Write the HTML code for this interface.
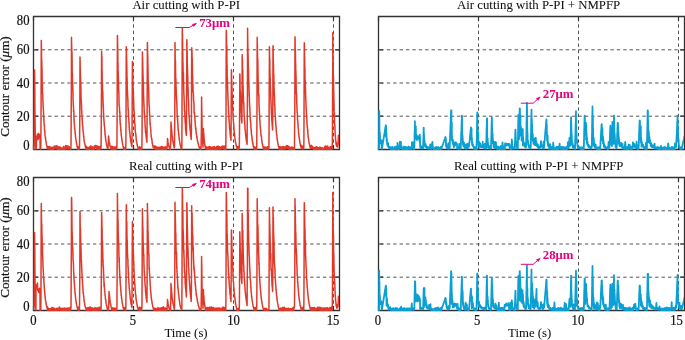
<!DOCTYPE html>
<html><head><meta charset="utf-8"><style>
html,body{margin:0;padding:0;background:#fff;overflow:hidden;}
svg{display:block;will-change:transform;}
text{font-family:"Liberation Serif",serif;font-size:12.8px;fill:#111;stroke:#111;stroke-width:0.2px;}
.tt{stroke-width:0.05px;}
.tk{font-size:13.2px;}
</style></head><body>
<svg width="685" height="340" viewBox="0 0 685 340">
<rect width="685" height="340" fill="#fff"/>
<clipPath id="c00"><rect x="33" y="15" width="306" height="135"/></clipPath>
<path d="M133.5 16.5V149.5M233.5 16.5V149.5M333.5 16.5V149.5" stroke="#555" stroke-width="1" stroke-dasharray="3.4 2.99" stroke-dashoffset="4.99"/>
<path d="M33.5 116.2H339.5M33.5 83H339.5M33.5 49.8H339.5" stroke="#555" stroke-width="1" stroke-dasharray="3.4 2.99" stroke-dashoffset="4.49"/>
<path d="M33.5 16.5H339.5V149.5H33.5Z" fill="none" stroke="#333" stroke-width="1.3"/>
<path d="M33.5 149.5v-4.5M33.5 16.5v4.5M133.5 149.5v-4.5M133.5 16.5v4.5M233.5 149.5v-4.5M233.5 16.5v4.5M333.5 149.5v-4.5M333.5 16.5v4.5M33.5 149.5h4.5M339.5 149.5h-4.5M33.5 116.2h4.5M339.5 116.2h-4.5M33.5 83h4.5M339.5 83h-4.5M33.5 49.8h4.5M339.5 49.8h-4.5M33.5 16.5h4.5M339.5 16.5h-4.5" stroke="#333" stroke-width="1.2"/>
<path d="M33.5 146.8 L33.6 147.1 L33.8 147.7 L33.9 149.5 L34.0 149.5 L34.1 146.2 L34.2 135.6 L34.4 118.4 L34.5 93.1 L34.6 70.0 L34.6 72.7 L34.8 90.1 L34.9 108.1 L35.0 116.7 L35.1 123.2 L35.2 132.4 L35.4 137.4 L35.5 141.2 L35.6 144.4 L35.8 146.7 L35.9 148.6 L36.0 148.8 L36.1 148.3 L36.2 147.9 L36.4 147.8 L36.5 139.0 L36.6 136.7 L36.8 137.3 L36.9 135.8 L37.0 136.8 L37.1 137.9 L37.2 137.6 L37.4 137.0 L37.5 134.1 L37.6 134.4 L37.8 137.0 L37.9 139.8 L38.0 139.5 L38.1 137.7 L38.2 135.6 L38.4 138.4 L38.5 137.5 L38.6 133.6 L38.8 135.9 L38.9 137.6 L39.0 137.3 L39.1 136.8 L39.2 137.2 L39.4 134.6 L39.5 136.9 L39.6 137.2 L39.8 138.3 L39.9 136.0 L40.0 135.5 L40.1 148.7 L40.2 147.7 L40.4 149.5 L40.5 147.8 L40.6 148.0 L40.8 147.9 L40.9 140.3 L41.0 123.0 L41.1 97.7 L41.2 62.2 L41.3 40.6 L41.4 47.8 L41.5 51.2 L41.6 58.3 L41.8 61.2 L41.9 68.2 L42.0 68.7 L42.1 76.2 L42.2 84.2 L42.4 85.2 L42.5 91.8 L42.6 93.6 L42.8 94.3 L42.9 102.3 L43.0 101.6 L43.1 105.6 L43.2 106.6 L43.4 110.8 L43.5 111.9 L43.6 115.5 L43.8 116.3 L43.9 119.6 L44.0 122.6 L44.1 123.5 L44.2 125.4 L44.4 125.5 L44.5 129.3 L44.6 131.3 L44.8 130.6 L44.9 133.2 L45.0 135.1 L45.1 135.8 L45.2 136.7 L45.4 137.6 L45.5 137.4 L45.6 139.4 L45.8 140.0 L45.9 140.9 L46.0 142.0 L46.1 143.0 L46.2 142.8 L46.4 144.0 L46.5 144.7 L46.6 145.0 L46.8 145.8 L46.9 146.3 L47.0 146.6 L47.1 147.3 L47.2 147.1 L47.4 148.1 L47.5 148.4 L47.6 147.4 L47.8 147.1 L47.9 147.6 L48.0 149.0 L48.1 147.5 L48.2 146.8 L48.4 148.0 L48.5 146.8 L48.6 148.8 L48.8 147.4 L48.9 148.1 L49.0 149.1 L49.1 148.5 L49.2 149.0 L49.4 147.5 L49.5 146.6 L49.6 146.8 L49.8 147.1 L49.9 149.0 L50.0 147.1 L50.1 146.7 L50.2 148.3 L50.4 147.9 L50.5 147.9 L50.6 147.8 L50.8 149.2 L50.9 147.9 L51.0 149.0 L51.1 148.2 L51.2 149.5 L51.4 149.0 L51.5 149.5 L51.6 147.7 L51.8 147.2 L51.9 147.8 L52.0 148.9 L52.1 148.8 L52.2 148.1 L52.4 149.2 L52.5 149.5 L52.6 147.4 L52.8 148.6 L52.9 147.8 L53.0 148.5 L53.1 148.9 L53.2 149.5 L53.4 147.7 L53.5 147.9 L53.6 149.5 L53.8 149.1 L53.9 146.5 L54.0 147.0 L54.1 148.7 L54.2 147.9 L54.4 146.8 L54.5 145.9 L54.6 148.2 L54.8 146.5 L54.9 146.8 L55.0 146.3 L55.1 148.3 L55.2 147.4 L55.4 146.6 L55.5 147.9 L55.6 146.8 L55.8 147.2 L55.9 146.8 L56.0 145.9 L56.1 146.4 L56.2 148.8 L56.4 147.0 L56.5 149.0 L56.6 148.2 L56.8 146.8 L56.9 146.4 L57.0 145.8 L57.1 148.1 L57.2 147.5 L57.4 147.3 L57.5 147.0 L57.6 146.9 L57.8 148.7 L57.9 149.2 L58.0 148.9 L58.1 147.1 L58.2 149.5 L58.4 148.9 L58.5 147.2 L58.6 146.7 L58.8 148.5 L58.9 147.4 L59.0 148.6 L59.1 149.0 L59.2 147.9 L59.4 149.5 L59.5 148.6 L59.6 148.1 L59.8 147.1 L59.9 147.3 L60.0 149.5 L60.1 149.1 L60.2 149.5 L60.4 149.5 L60.5 147.2 L60.6 149.5 L60.8 149.4 L60.9 148.2 L61.0 149.5 L61.1 149.4 L61.2 149.5 L61.4 148.1 L61.5 149.5 L61.6 149.5 L61.8 149.5 L61.9 148.8 L62.0 149.4 L62.1 149.5 L62.2 149.5 L62.4 149.2 L62.5 148.9 L62.6 149.1 L62.8 148.0 L62.9 149.2 L63.0 149.5 L63.1 149.5 L63.2 148.9 L63.4 146.5 L63.5 148.5 L63.6 148.4 L63.8 149.4 L63.9 147.8 L64.0 149.5 L64.1 148.6 L64.2 148.6 L64.4 148.2 L64.5 149.0 L64.6 148.8 L64.8 149.3 L64.9 147.6 L65.0 148.2 L65.1 146.4 L65.2 146.5 L65.4 147.5 L65.5 145.8 L65.6 147.7 L65.8 148.8 L65.9 146.1 L66.0 145.6 L66.1 148.7 L66.2 147.5 L66.4 148.9 L66.5 146.6 L66.6 146.1 L66.8 148.6 L66.9 146.5 L67.0 146.9 L67.1 148.5 L67.2 148.2 L67.4 148.2 L67.5 148.2 L67.6 146.9 L67.8 148.5 L67.9 145.8 L68.0 147.6 L68.1 147.8 L68.2 146.8 L68.4 148.9 L68.5 148.6 L68.6 146.9 L68.8 147.0 L68.9 147.5 L69.0 146.9 L69.1 147.4 L69.2 147.2 L69.4 146.8 L69.5 147.5 L69.6 147.2 L69.8 148.5 L69.9 147.3 L70.0 147.9 L70.1 149.5 L70.2 148.4 L70.4 147.3 L70.5 148.7 L70.6 148.9 L70.8 149.0 L70.9 147.5 L71.0 146.3 L71.1 133.2 L71.2 111.6 L71.4 81.7 L71.5 37.3 L71.6 44.9 L71.8 48.8 L71.9 57.9 L72.0 52.6 L72.1 61.1 L72.2 72.9 L72.4 73.7 L72.5 81.1 L72.6 82.7 L72.8 87.4 L72.9 91.0 L73.0 91.9 L73.1 101.0 L73.2 101.4 L73.4 106.8 L73.5 106.6 L73.6 112.0 L73.8 110.2 L73.9 114.5 L74.0 120.0 L74.1 119.5 L74.2 123.3 L74.4 123.3 L74.5 125.4 L74.6 128.3 L74.8 128.7 L74.9 129.8 L75.0 130.7 L75.1 133.4 L75.2 133.2 L75.4 135.0 L75.5 136.6 L75.6 137.1 L75.8 138.5 L75.9 139.2 L76.0 139.7 L76.1 140.5 L76.2 141.5 L76.4 142.8 L76.5 143.3 L76.6 143.8 L76.8 144.5 L76.9 145.1 L77.0 145.7 L77.1 146.4 L77.2 146.8 L77.4 147.4 L77.5 147.0 L77.6 148.0 L77.8 146.5 L77.9 147.9 L78.0 149.2 L78.1 149.5 L78.2 146.9 L78.4 148.9 L78.5 149.3 L78.6 149.5 L78.8 148.7 L78.9 146.8 L79.0 149.5 L79.1 147.4 L79.2 148.7 L79.4 147.4 L79.5 147.0 L79.6 136.1 L79.8 117.1 L79.9 90.6 L80.0 56.9 L80.1 60.8 L80.2 67.5 L80.4 73.0 L80.5 76.7 L80.6 79.0 L80.8 84.8 L80.9 89.0 L81.0 93.6 L81.1 98.5 L81.2 99.7 L81.4 102.5 L81.5 104.6 L81.6 109.5 L81.8 112.1 L81.9 115.3 L82.0 115.1 L82.1 119.2 L82.2 118.6 L82.4 122.7 L82.5 124.3 L82.6 125.8 L82.8 126.9 L82.9 127.4 L83.0 130.7 L83.1 132.0 L83.2 131.7 L83.4 133.0 L83.5 134.3 L83.6 136.6 L83.8 136.4 L83.9 138.4 L84.0 138.7 L84.1 140.5 L84.2 141.1 L84.4 142.2 L84.5 142.5 L84.6 142.9 L84.8 143.8 L84.9 144.4 L85.0 145.0 L85.1 145.3 L85.2 145.8 L85.4 145.5 L85.5 147.2 L85.6 147.7 L85.8 146.0 L85.9 146.4 L86.0 147.0 L86.1 149.1 L86.2 148.1 L86.4 149.0 L86.5 146.4 L86.6 148.8 L86.8 146.9 L86.9 147.3 L87.0 148.0 L87.1 147.6 L87.2 149.2 L87.4 149.5 L87.5 147.5 L87.6 149.0 L87.8 149.5 L87.9 148.9 L88.0 148.1 L88.1 148.0 L88.2 147.8 L88.4 149.5 L88.5 149.5 L88.6 147.7 L88.8 148.9 L88.9 149.5 L89.0 149.5 L89.1 147.3 L89.2 149.5 L89.4 147.2 L89.5 147.7 L89.6 149.2 L89.8 146.9 L89.9 146.7 L90.0 149.5 L90.1 148.0 L90.2 147.7 L90.4 147.7 L90.5 145.9 L90.6 147.5 L90.8 146.9 L90.9 146.2 L91.0 146.3 L91.1 147.3 L91.2 146.2 L91.4 148.0 L91.5 146.9 L91.6 149.1 L91.8 148.3 L91.9 148.5 L92.0 147.7 L92.1 149.5 L92.2 149.5 L92.4 148.2 L92.5 146.7 L92.6 147.0 L92.8 148.4 L92.9 149.5 L93.0 147.8 L93.1 149.1 L93.2 149.5 L93.4 148.6 L93.5 149.5 L93.6 149.5 L93.8 147.1 L93.9 148.6 L94.0 149.2 L94.1 147.9 L94.2 148.9 L94.4 146.1 L94.5 147.6 L94.6 147.0 L94.8 146.0 L94.9 147.4 L95.0 146.7 L95.1 147.3 L95.2 145.9 L95.4 147.1 L95.5 147.3 L95.6 145.6 L95.8 147.1 L95.9 147.5 L96.0 145.4 L96.1 146.5 L96.2 146.3 L96.4 147.1 L96.5 147.2 L96.6 146.2 L96.8 148.9 L96.9 146.2 L97.0 147.3 L97.1 146.7 L97.2 146.0 L97.4 146.9 L97.5 149.5 L97.6 146.7 L97.8 146.8 L97.9 146.3 L98.0 148.7 L98.1 147.0 L98.2 147.2 L98.4 147.7 L98.5 147.1 L98.6 148.9 L98.8 148.3 L98.9 147.9 L99.0 146.7 L99.1 147.4 L99.2 149.5 L99.4 146.9 L99.5 147.2 L99.6 147.0 L99.8 146.8 L99.9 147.2 L100.0 147.5 L100.1 148.9 L100.2 147.6 L100.4 146.5 L100.5 146.1 L100.6 148.9 L100.8 147.3 L100.9 148.6 L101.0 147.9 L101.1 145.0 L101.2 132.5 L101.4 110.2 L101.5 79.5 L101.6 51.6 L101.6 53.9 L101.8 56.0 L101.9 58.3 L102.0 71.5 L102.1 70.6 L102.2 81.6 L102.4 83.1 L102.5 90.6 L102.6 90.2 L102.8 91.7 L102.9 97.5 L103.0 99.3 L103.1 104.9 L103.2 105.5 L103.4 108.4 L103.5 111.9 L103.6 114.0 L103.8 118.2 L103.9 119.5 L104.0 121.4 L104.1 121.4 L104.2 124.2 L104.4 126.0 L104.5 127.0 L104.6 127.2 L104.8 129.5 L104.9 131.1 L105.0 133.8 L105.1 134.0 L105.2 136.2 L105.4 136.2 L105.5 138.7 L105.6 138.6 L105.8 140.4 L105.9 140.4 L106.0 141.4 L106.1 141.8 L106.2 142.7 L106.4 143.7 L106.5 144.4 L106.6 144.9 L106.8 145.2 L106.9 145.9 L107.0 146.4 L107.1 147.0 L107.2 147.4 L107.4 147.7 L107.5 147.8 L107.6 148.2 L107.8 146.2 L107.9 146.7 L108.0 148.2 L108.1 146.4 L108.2 145.0 L108.4 141.4 L108.5 135.9 L108.6 137.0 L108.8 137.9 L108.9 139.3 L109.0 139.6 L109.1 140.9 L109.2 141.4 L109.4 142.2 L109.5 143.0 L109.6 143.5 L109.8 144.4 L109.9 144.7 L110.0 145.9 L110.1 146.0 L110.2 146.6 L110.4 147.0 L110.5 147.4 L110.6 147.8 L110.8 148.2 L110.9 147.0 L111.0 147.2 L111.1 149.0 L111.2 147.2 L111.4 146.3 L111.5 148.1 L111.6 146.6 L111.8 147.0 L111.9 148.0 L112.0 149.5 L112.1 148.1 L112.2 148.8 L112.4 146.5 L112.5 146.9 L112.6 147.7 L112.8 147.2 L112.9 147.0 L113.0 146.7 L113.1 147.5 L113.2 148.5 L113.4 149.4 L113.5 147.2 L113.6 149.5 L113.8 149.5 L113.9 147.3 L114.0 147.5 L114.1 148.6 L114.2 147.0 L114.4 147.0 L114.5 148.7 L114.6 149.5 L114.8 149.5 L114.9 149.1 L115.0 149.5 L115.1 149.5 L115.2 148.7 L115.4 148.7 L115.5 147.9 L115.6 147.4 L115.8 148.2 L115.9 146.7 L116.0 149.0 L116.1 147.8 L116.2 148.2 L116.4 147.7 L116.5 148.7 L116.6 147.2 L116.8 146.7 L116.9 147.7 L117.0 137.5 L117.1 117.4 L117.2 86.2 L117.4 43.6 L117.4 35.6 L117.5 36.2 L117.6 45.1 L117.8 50.6 L117.9 63.2 L118.0 64.1 L118.1 74.8 L118.2 71.3 L118.4 78.0 L118.5 82.5 L118.6 86.9 L118.8 93.1 L118.9 92.8 L119.0 101.2 L119.1 105.0 L119.2 105.4 L119.4 106.6 L119.5 108.4 L119.6 112.4 L119.8 111.8 L119.9 116.0 L120.0 119.9 L120.1 120.0 L120.2 124.2 L120.4 123.4 L120.5 126.0 L120.6 127.1 L120.8 130.3 L120.9 129.3 L121.0 131.0 L121.1 132.6 L121.2 134.8 L121.4 136.1 L121.5 136.5 L121.6 137.8 L121.8 138.4 L121.9 140.1 L122.0 140.4 L122.1 141.4 L122.2 141.5 L122.4 142.7 L122.5 143.8 L122.6 143.9 L122.8 145.1 L122.9 145.3 L123.0 145.8 L123.1 146.5 L123.2 146.9 L123.4 147.3 L123.5 147.8 L123.6 148.3 L123.8 148.7 L123.9 147.7 L124.0 149.4 L124.1 149.3 L124.2 149.5 L124.4 147.6 L124.5 149.2 L124.6 149.5 L124.8 147.9 L124.9 149.2 L125.0 148.1 L125.1 147.5 L125.2 148.2 L125.4 147.5 L125.5 149.5 L125.6 147.9 L125.8 148.3 L125.9 140.6 L126.0 125.3 L126.1 97.3 L126.2 59.5 L126.3 46.8 L126.4 48.4 L126.5 54.8 L126.6 58.1 L126.8 65.0 L126.9 71.5 L127.0 78.6 L127.1 77.8 L127.2 85.8 L127.4 91.7 L127.5 91.0 L127.6 94.4 L127.8 99.6 L127.9 98.6 L128.0 106.8 L128.1 109.5 L128.2 108.6 L128.4 113.4 L128.5 115.0 L128.6 116.6 L128.8 118.9 L128.9 121.3 L129.0 123.2 L129.1 124.0 L129.2 127.1 L129.4 129.7 L129.5 130.4 L129.6 131.1 L129.8 131.8 L129.9 133.3 L130.0 135.2 L130.1 136.8 L130.2 136.4 L130.4 138.5 L130.5 139.1 L130.6 140.9 L130.8 140.7 L130.9 142.1 L131.0 142.6 L131.1 142.9 L131.2 143.5 L131.4 144.3 L131.5 145.3 L131.6 145.7 L131.8 146.2 L131.9 146.7 L132.0 140.1 L132.1 123.7 L132.2 99.2 L132.4 67.1 L132.4 61.4 L132.5 66.2 L132.6 73.6 L132.8 71.7 L132.9 83.3 L133.0 84.3 L133.1 89.8 L133.2 92.3 L133.4 91.7 L133.5 103.3 L133.6 98.5 L133.8 104.9 L133.9 108.5 L134.0 111.9 L134.1 112.5 L134.2 111.6 L134.4 117.5 L134.5 117.2 L134.6 122.0 L134.8 123.2 L134.9 125.1 L135.0 124.6 L135.1 128.3 L135.2 130.8 L135.4 132.5 L135.5 132.2 L135.6 133.2 L135.8 134.1 L135.9 135.4 L136.0 137.2 L136.1 136.8 L136.2 139.2 L136.4 139.9 L136.5 141.2 L136.6 141.4 L136.8 142.4 L136.9 142.8 L137.0 144.0 L137.1 144.2 L137.2 145.0 L137.4 145.7 L137.5 146.3 L137.6 146.5 L137.8 146.9 L137.9 147.5 L138.0 148.0 L138.1 147.9 L138.2 147.8 L138.4 148.7 L138.5 148.8 L138.6 149.5 L138.8 147.4 L138.9 147.7 L139.0 147.6 L139.1 148.5 L139.2 149.5 L139.4 149.5 L139.5 149.5 L139.6 146.7 L139.8 149.5 L139.9 148.3 L140.0 147.8 L140.1 147.5 L140.2 148.4 L140.4 148.1 L140.5 149.1 L140.6 147.6 L140.8 149.5 L140.9 149.5 L141.0 149.2 L141.1 148.1 L141.2 149.1 L141.4 149.5 L141.5 147.2 L141.6 149.5 L141.8 149.3 L141.9 147.0 L142.0 138.2 L142.1 122.4 L142.2 94.4 L142.4 56.3 L142.4 52.1 L142.5 59.8 L142.6 57.0 L142.8 67.1 L142.9 69.9 L143.0 77.4 L143.1 76.1 L143.2 85.2 L143.4 82.6 L143.5 93.4 L143.6 96.3 L143.8 100.8 L143.9 103.6 L144.0 106.1 L144.1 107.3 L144.2 111.7 L144.4 113.4 L144.5 115.8 L144.6 117.9 L144.8 116.6 L144.9 121.7 L145.0 121.9 L145.1 125.6 L145.2 127.1 L145.4 129.2 L145.5 131.2 L145.6 132.6 L145.8 133.0 L145.9 133.3 L146.0 135.5 L146.1 136.3 L146.2 137.0 L146.4 138.1 L146.5 139.2 L146.6 140.4 L146.8 140.9 L146.9 142.3 L147.0 137.6 L147.1 117.7 L147.2 89.6 L147.4 42.4 L147.4 42.4 L147.5 45.1 L147.6 53.8 L147.8 57.6 L147.9 65.0 L148.0 69.9 L148.1 74.8 L148.2 81.7 L148.4 83.3 L148.5 86.8 L148.6 86.8 L148.8 93.6 L148.9 102.3 L149.0 101.6 L149.1 105.8 L149.2 105.3 L149.4 108.4 L149.5 112.4 L149.6 115.6 L149.8 114.6 L149.9 118.9 L150.0 121.6 L150.1 124.6 L150.2 123.2 L150.4 126.4 L150.5 128.2 L150.6 127.5 L150.8 130.0 L150.9 132.7 L151.0 133.9 L151.1 134.7 L151.2 136.9 L151.4 137.4 L151.5 137.8 L151.6 139.2 L151.8 138.7 L151.9 140.7 L152.0 141.2 L152.1 141.7 L152.2 143.3 L152.4 143.8 L152.5 143.9 L152.6 144.6 L152.8 145.7 L152.9 146.0 L153.0 146.6 L153.1 146.9 L153.2 147.5 L153.4 147.7 L153.5 146.2 L153.6 146.9 L153.8 146.3 L153.9 146.7 L154.0 147.5 L154.1 147.8 L154.2 146.7 L154.4 145.9 L154.5 146.4 L154.6 146.4 L154.8 148.5 L154.9 148.6 L155.0 147.1 L155.1 148.1 L155.2 146.1 L155.4 148.9 L155.5 146.3 L155.6 146.3 L155.8 149.4 L155.9 148.7 L156.0 147.1 L156.1 147.9 L156.2 149.1 L156.4 146.9 L156.5 147.4 L156.6 148.5 L156.8 148.7 L156.9 146.9 L157.0 149.0 L157.1 148.1 L157.2 148.3 L157.4 149.5 L157.5 147.9 L157.6 149.3 L157.8 148.8 L157.9 149.2 L158.0 149.4 L158.1 147.6 L158.2 149.5 L158.4 148.3 L158.5 148.2 L158.6 147.8 L158.8 149.5 L158.9 149.5 L159.0 148.1 L159.1 149.5 L159.2 147.1 L159.4 149.5 L159.5 147.2 L159.6 148.0 L159.8 148.4 L159.9 148.9 L160.0 149.5 L160.1 148.1 L160.2 148.4 L160.4 148.1 L160.5 148.3 L160.6 147.1 L160.8 148.5 L160.9 146.9 L161.0 149.5 L161.1 148.5 L161.2 148.0 L161.4 149.5 L161.5 147.8 L161.6 149.2 L161.8 146.4 L161.9 147.2 L162.0 148.0 L162.1 147.8 L162.2 147.5 L162.4 148.0 L162.5 146.8 L162.6 149.5 L162.8 148.3 L162.9 149.5 L163.0 148.6 L163.1 147.8 L163.2 147.6 L163.4 149.5 L163.5 147.5 L163.6 147.5 L163.8 149.5 L163.9 149.4 L164.0 148.3 L164.1 147.2 L164.2 148.8 L164.4 147.5 L164.5 149.5 L164.6 147.4 L164.8 147.9 L164.9 149.3 L165.0 149.3 L165.1 147.3 L165.2 146.7 L165.4 147.8 L165.5 149.5 L165.6 148.8 L165.8 148.3 L165.9 149.5 L166.0 149.5 L166.1 148.5 L166.2 149.5 L166.4 147.2 L166.5 148.7 L166.6 147.1 L166.8 148.6 L166.9 148.8 L167.0 147.4 L167.1 147.7 L167.2 145.9 L167.4 142.7 L167.5 138.5 L167.6 139.3 L167.8 140.1 L167.9 141.8 L168.0 142.3 L168.1 143.0 L168.2 143.0 L168.4 144.3 L168.5 144.8 L168.6 145.6 L168.8 145.9 L168.9 146.1 L169.0 146.9 L169.1 147.3 L169.2 146.4 L169.4 148.1 L169.5 147.9 L169.6 148.1 L169.8 147.8 L169.9 147.7 L170.0 149.0 L170.1 149.5 L170.2 147.9 L170.4 147.0 L170.5 147.5 L170.6 145.4 L170.8 140.2 L170.9 131.2 L171.0 122.1 L171.1 124.0 L171.2 125.0 L171.4 127.0 L171.5 128.5 L171.6 129.8 L171.8 131.2 L171.9 132.8 L172.0 134.8 L172.1 135.8 L172.2 136.9 L172.4 136.9 L172.5 138.4 L172.6 140.7 L172.8 140.6 L172.9 141.7 L173.0 141.8 L173.1 142.8 L173.2 143.4 L173.4 144.1 L173.5 144.8 L173.6 145.0 L173.8 145.8 L173.9 146.3 L174.0 146.9 L174.1 147.3 L174.2 147.8 L174.4 147.7 L174.5 146.6 L174.6 134.0 L174.8 114.3 L174.9 83.9 L175.0 42.4 L175.1 48.2 L175.2 60.8 L175.4 66.3 L175.5 60.7 L175.6 74.5 L175.8 79.2 L175.9 79.9 L176.0 87.3 L176.1 86.8 L176.2 90.5 L176.4 95.7 L176.5 97.3 L176.6 101.0 L176.8 102.6 L176.9 106.3 L177.0 108.3 L177.1 112.7 L177.2 114.2 L177.4 117.5 L177.5 120.1 L177.6 117.9 L177.8 123.5 L177.9 124.5 L178.0 124.4 L178.1 130.1 L178.2 129.1 L178.4 131.3 L178.5 132.0 L178.6 133.7 L178.8 134.8 L178.9 135.7 L179.0 136.5 L179.1 137.7 L179.2 139.0 L179.4 139.9 L179.5 140.8 L179.6 141.7 L179.8 142.6 L179.9 143.0 L180.0 143.6 L180.1 144.3 L180.2 145.1 L180.4 145.5 L180.5 146.1 L180.6 146.5 L180.8 147.2 L180.9 147.4 L181.0 147.3 L181.1 148.3 L181.2 147.3 L181.4 149.1 L181.5 146.5 L181.6 147.2 L181.8 148.6 L181.9 138.6 L182.0 118.7 L182.1 82.2 L182.2 48.9 L182.3 28.3 L182.4 39.0 L182.5 33.5 L182.6 45.8 L182.8 53.6 L182.9 62.8 L183.0 63.9 L183.1 70.7 L183.2 75.7 L183.4 72.5 L183.5 79.6 L183.6 82.2 L183.8 90.9 L183.9 94.8 L184.0 95.4 L184.1 99.8 L184.2 101.7 L184.4 105.8 L184.5 110.9 L184.6 110.6 L184.8 112.4 L184.9 117.0 L185.0 118.2 L185.1 120.5 L185.2 122.9 L185.4 123.1 L185.5 125.4 L185.6 128.7 L185.8 130.1 L185.9 131.2 L186.0 132.6 L186.1 133.0 L186.2 135.0 L186.4 135.2 L186.5 120.6 L186.6 96.3 L186.8 59.4 L186.8 39.8 L186.9 40.9 L187.0 53.0 L187.1 50.1 L187.2 57.8 L187.4 67.8 L187.5 69.2 L187.6 73.3 L187.8 77.1 L187.9 87.0 L188.0 88.0 L188.1 88.4 L188.2 95.2 L188.4 98.3 L188.5 100.6 L188.6 102.8 L188.8 109.5 L188.9 113.0 L189.0 114.4 L189.1 115.9 L189.2 117.7 L189.4 119.8 L189.5 123.3 L189.6 123.9 L189.8 125.4 L189.9 127.6 L190.0 127.0 L190.1 130.3 L190.2 130.3 L190.4 131.8 L190.5 134.0 L190.6 135.6 L190.8 135.8 L190.9 136.4 L191.0 138.2 L191.1 139.0 L191.2 139.4 L191.4 128.5 L191.5 104.2 L191.6 70.6 L191.7 47.8 L191.8 51.9 L191.9 53.3 L192.0 50.4 L192.1 62.8 L192.2 58.1 L192.4 67.9 L192.5 76.2 L192.6 74.5 L192.8 85.9 L192.9 83.7 L193.0 88.5 L193.1 92.6 L193.2 92.6 L193.4 92.8 L193.5 96.3 L193.6 100.4 L193.8 102.0 L193.9 102.8 L194.0 103.0 L194.1 113.2 L194.2 112.1 L194.4 112.4 L194.5 112.7 L194.6 115.3 L194.8 117.4 L194.9 117.6 L195.0 119.9 L195.1 120.9 L195.2 122.8 L195.4 126.2 L195.5 126.3 L195.6 128.8 L195.8 129.7 L195.9 128.1 L196.0 130.9 L196.1 133.1 L196.2 133.4 L196.4 133.7 L196.5 135.0 L196.6 135.3 L196.8 137.6 L196.9 136.4 L197.0 138.0 L197.1 138.5 L197.2 139.4 L197.4 140.8 L197.5 141.2 L197.6 141.6 L197.8 141.8 L197.9 142.8 L198.0 142.8 L198.1 143.5 L198.2 143.9 L198.4 144.3 L198.5 145.2 L198.6 145.5 L198.8 146.0 L198.9 146.2 L199.0 146.6 L199.1 147.0 L199.2 147.3 L199.4 147.7 L199.5 147.0 L199.6 147.6 L199.8 148.6 L199.9 148.9 L200.0 147.1 L200.1 147.7 L200.2 147.8 L200.4 147.5 L200.5 147.4 L200.6 149.5 L200.8 148.6 L200.9 149.5 L201.0 147.3 L201.1 147.2 L201.2 140.2 L201.4 128.4 L201.5 114.0 L201.6 97.0 L201.6 100.7 L201.8 109.1 L201.9 116.1 L202.0 121.6 L202.1 127.6 L202.2 132.1 L202.4 135.5 L202.5 139.2 L202.6 142.6 L202.8 143.9 L202.9 146.1 L203.0 147.2 L203.1 143.6 L203.2 137.1 L203.4 130.3 L203.4 128.6 L203.5 130.1 L203.6 132.4 L203.8 133.5 L203.9 135.0 L204.0 137.9 L204.1 137.9 L204.2 139.7 L204.4 141.3 L204.5 143.1 L204.6 143.7 L204.8 144.6 L204.9 145.7 L205.0 146.2 L205.1 146.7 L205.2 146.6 L205.4 148.0 L205.5 148.7 L205.6 146.8 L205.8 147.3 L205.9 147.8 L206.0 148.8 L206.1 147.0 L206.2 148.4 L206.4 148.4 L206.5 147.1 L206.6 148.5 L206.8 149.2 L206.9 147.3 L207.0 148.2 L207.1 147.3 L207.2 148.6 L207.4 147.9 L207.5 148.2 L207.6 149.5 L207.8 149.5 L207.9 149.5 L208.0 148.3 L208.1 148.8 L208.2 148.2 L208.4 148.0 L208.5 146.8 L208.6 148.7 L208.8 148.1 L208.9 149.1 L209.0 147.8 L209.1 149.5 L209.2 148.7 L209.4 148.4 L209.5 146.5 L209.6 149.5 L209.8 149.0 L209.9 148.7 L210.0 149.2 L210.1 148.5 L210.2 147.0 L210.4 148.1 L210.5 147.0 L210.6 149.0 L210.8 149.5 L210.9 147.9 L211.0 149.5 L211.1 147.9 L211.2 148.7 L211.4 149.4 L211.5 148.2 L211.6 148.0 L211.8 147.2 L211.9 148.5 L212.0 148.3 L212.1 149.1 L212.2 149.5 L212.4 147.1 L212.5 149.3 L212.6 148.8 L212.8 149.5 L212.9 149.5 L213.0 149.3 L213.1 147.4 L213.2 147.2 L213.4 147.5 L213.5 148.4 L213.6 147.3 L213.8 149.5 L213.9 147.9 L214.0 148.2 L214.1 148.3 L214.2 149.5 L214.4 146.4 L214.5 146.7 L214.6 147.1 L214.8 149.5 L214.9 147.7 L215.0 149.4 L215.1 149.5 L215.2 148.6 L215.4 149.5 L215.5 148.1 L215.6 148.2 L215.8 149.5 L215.9 149.3 L216.0 148.0 L216.1 147.8 L216.2 148.0 L216.4 149.5 L216.5 147.5 L216.6 146.5 L216.8 148.5 L216.9 149.3 L217.0 146.9 L217.1 147.9 L217.2 149.5 L217.4 149.1 L217.5 149.1 L217.6 146.8 L217.8 146.7 L217.9 146.2 L218.0 148.5 L218.1 147.7 L218.2 147.2 L218.4 146.7 L218.5 146.2 L218.6 148.0 L218.8 148.9 L218.9 147.8 L219.0 147.2 L219.1 149.1 L219.2 147.7 L219.4 148.6 L219.5 146.7 L219.6 147.5 L219.8 147.7 L219.9 149.5 L220.0 149.5 L220.1 148.1 L220.2 147.8 L220.4 148.3 L220.5 148.7 L220.6 149.1 L220.8 149.1 L220.9 147.5 L221.0 147.6 L221.1 147.9 L221.2 147.0 L221.4 146.8 L221.5 146.4 L221.6 147.5 L221.8 147.0 L221.9 146.3 L222.0 147.4 L222.1 146.5 L222.2 148.1 L222.4 148.3 L222.5 146.1 L222.6 146.6 L222.8 147.6 L222.9 146.6 L223.0 146.2 L223.1 147.1 L223.2 146.5 L223.4 149.1 L223.5 146.3 L223.6 146.4 L223.8 147.2 L223.9 146.6 L224.0 148.0 L224.1 148.0 L224.2 149.5 L224.4 149.2 L224.5 148.0 L224.6 147.9 L224.8 146.1 L224.9 146.4 L225.0 148.5 L225.1 147.8 L225.2 148.4 L225.4 147.3 L225.5 147.2 L225.6 149.2 L225.8 148.5 L225.9 140.1 L226.0 121.7 L226.1 88.3 L226.2 47.9 L226.3 30.3 L226.4 33.5 L226.5 40.8 L226.6 52.2 L226.8 45.6 L226.9 56.1 L227.0 65.7 L227.1 66.2 L227.2 77.0 L227.4 79.3 L227.5 83.5 L227.6 86.5 L227.8 92.8 L227.9 95.6 L228.0 99.6 L228.1 100.4 L228.2 104.7 L228.4 105.4 L228.5 108.8 L228.6 113.2 L228.8 114.2 L228.9 116.1 L229.0 120.3 L229.1 120.5 L229.2 122.1 L229.4 124.4 L229.5 127.1 L229.6 128.7 L229.8 129.2 L229.9 130.1 L230.0 132.4 L230.1 132.8 L230.2 135.1 L230.4 135.9 L230.5 136.8 L230.6 137.4 L230.8 138.2 L230.9 139.9 L231.0 140.3 L231.1 126.6 L231.2 105.7 L231.4 75.7 L231.4 69.7 L231.5 71.2 L231.6 78.5 L231.8 82.0 L231.9 84.6 L232.0 88.4 L232.1 93.9 L232.2 95.6 L232.4 103.3 L232.5 99.9 L232.6 106.7 L232.8 109.2 L232.9 113.2 L233.0 114.8 L233.1 115.8 L233.2 119.0 L233.4 121.8 L233.5 121.9 L233.6 123.6 L233.8 124.8 L233.9 126.5 L234.0 129.4 L234.1 130.4 L234.2 131.6 L234.4 132.8 L234.5 134.7 L234.6 135.5 L234.8 137.2 L234.9 137.5 L235.0 138.4 L235.1 139.0 L235.2 140.5 L235.4 141.2 L235.5 141.8 L235.6 142.9 L235.8 143.3 L235.9 144.3 L236.0 144.8 L236.1 145.3 L236.2 145.5 L236.4 146.3 L236.5 146.9 L236.6 146.2 L236.8 146.4 L236.9 146.3 L237.0 148.1 L237.1 148.5 L237.2 146.5 L237.4 149.1 L237.5 147.3 L237.6 148.3 L237.8 147.7 L237.9 148.4 L238.0 147.0 L238.1 147.3 L238.2 147.0 L238.4 149.5 L238.5 147.4 L238.6 149.1 L238.8 148.5 L238.9 146.2 L239.0 147.0 L239.1 146.8 L239.2 147.9 L239.4 143.3 L239.5 131.0 L239.6 110.0 L239.8 88.0 L239.8 73.9 L239.9 75.4 L240.0 79.0 L240.1 91.3 L240.2 90.4 L240.4 92.5 L240.5 96.3 L240.6 99.6 L240.8 103.2 L240.9 104.2 L241.0 107.5 L241.1 109.9 L241.2 113.3 L241.4 114.2 L241.5 119.7 L241.6 120.4 L241.8 122.0 L241.9 122.9 L242.0 105.1 L242.1 79.1 L242.2 54.7 L242.2 62.7 L242.4 59.1 L242.5 65.3 L242.6 70.2 L242.8 70.5 L242.9 80.8 L243.0 86.0 L243.1 86.9 L243.2 93.0 L243.4 97.1 L243.5 101.4 L243.6 104.2 L243.8 102.7 L243.9 106.9 L244.0 110.9 L244.1 113.9 L244.2 116.3 L244.4 116.1 L244.5 120.4 L244.6 121.8 L244.8 124.6 L244.9 124.8 L245.0 127.4 L245.1 130.2 L245.2 130.5 L245.4 130.5 L245.5 134.1 L245.6 133.8 L245.8 135.7 L245.9 137.0 L246.0 137.2 L246.1 138.5 L246.2 139.4 L246.4 139.8 L246.5 141.6 L246.6 141.9 L246.8 142.5 L246.9 143.1 L247.0 143.7 L247.1 144.3 L247.2 129.9 L247.4 101.6 L247.5 69.2 L247.6 28.3 L247.6 33.1 L247.8 42.5 L247.9 48.7 L248.0 53.0 L248.1 55.8 L248.2 61.8 L248.4 69.5 L248.5 69.4 L248.6 75.9 L248.8 82.7 L248.9 85.7 L249.0 87.5 L249.1 90.4 L249.2 94.9 L249.4 97.8 L249.5 102.4 L249.6 106.5 L249.8 107.2 L249.9 110.1 L250.0 112.6 L250.1 115.7 L250.2 119.0 L250.4 119.2 L250.5 122.7 L250.6 122.0 L250.8 123.7 L250.9 127.1 L251.0 128.0 L251.1 130.0 L251.2 129.8 L251.4 133.0 L251.5 135.0 L251.6 135.2 L251.8 135.5 L251.9 136.4 L252.0 138.9 L252.1 138.9 L252.2 140.0 L252.4 141.0 L252.5 141.9 L252.6 141.9 L252.8 142.7 L252.9 143.7 L253.0 144.2 L253.1 145.1 L253.2 145.5 L253.4 146.3 L253.5 146.4 L253.6 147.0 L253.8 147.6 L253.9 148.0 L254.0 148.4 L254.1 147.8 L254.2 147.0 L254.4 147.1 L254.5 147.9 L254.6 146.9 L254.8 147.8 L254.9 149.4 L255.0 149.1 L255.1 148.4 L255.2 148.7 L255.4 147.7 L255.5 147.5 L255.6 149.1 L255.8 149.0 L255.9 149.2 L256.0 149.4 L256.1 148.7 L256.2 149.5 L256.4 149.5 L256.5 149.5 L256.6 149.2 L256.8 142.5 L256.9 124.9 L257.0 102.4 L257.1 64.7 L257.2 37.3 L257.2 42.6 L257.4 44.8 L257.5 54.7 L257.6 59.0 L257.8 59.4 L257.9 67.2 L258.0 73.3 L258.1 78.5 L258.2 82.7 L258.4 84.7 L258.5 91.9 L258.6 95.9 L258.8 94.8 L258.9 97.2 L259.0 105.6 L259.1 105.8 L259.2 107.9 L259.4 112.2 L259.5 114.8 L259.6 114.6 L259.8 120.4 L259.9 120.0 L260.0 122.1 L260.1 124.4 L260.2 125.4 L260.4 127.8 L260.5 129.6 L260.6 130.3 L260.8 131.2 L260.9 133.7 L261.0 135.1 L261.1 136.1 L261.2 135.9 L261.4 135.8 L261.5 137.7 L261.6 139.4 L261.8 140.0 L261.9 141.2 L262.0 142.1 L262.1 142.9 L262.2 143.5 L262.4 143.7 L262.5 144.7 L262.6 145.4 L262.8 145.9 L262.9 146.4 L263.0 146.9 L263.1 147.4 L263.2 147.8 L263.4 147.9 L263.5 148.0 L263.6 147.4 L263.8 148.2 L263.9 149.4 L264.0 148.5 L264.1 146.7 L264.2 147.7 L264.4 147.3 L264.5 147.3 L264.6 149.5 L264.8 149.4 L264.9 148.4 L265.0 148.8 L265.1 148.5 L265.2 147.7 L265.4 149.4 L265.5 147.3 L265.6 147.1 L265.8 149.5 L265.9 148.2 L266.0 147.6 L266.1 149.5 L266.2 148.6 L266.4 148.2 L266.5 148.0 L266.6 149.5 L266.8 149.5 L266.9 147.3 L267.0 149.5 L267.1 149.2 L267.2 148.9 L267.4 146.7 L267.5 148.4 L267.6 146.8 L267.8 148.2 L267.9 146.8 L268.0 149.5 L268.1 146.7 L268.2 146.8 L268.4 148.3 L268.5 146.7 L268.6 148.8 L268.8 148.9 L268.9 147.1 L269.0 138.6 L269.1 121.4 L269.2 90.0 L269.4 57.3 L269.4 46.8 L269.5 50.3 L269.6 57.6 L269.8 59.8 L269.9 70.0 L270.0 70.7 L270.1 80.5 L270.2 78.1 L270.4 86.5 L270.5 87.7 L270.6 91.7 L270.8 96.8 L270.9 99.9 L271.0 102.9 L271.1 104.5 L271.2 106.9 L271.4 112.7 L271.5 115.0 L271.6 116.1 L271.8 119.8 L271.9 121.3 L272.0 120.9 L272.1 123.9 L272.2 124.9 L272.4 127.7 L272.5 129.9 L272.6 129.5 L272.8 113.8 L272.9 85.8 L273.0 45.8 L273.1 45.8 L273.2 55.8 L273.4 63.7 L273.5 65.5 L273.6 73.7 L273.8 74.1 L273.9 83.1 L274.0 87.8 L274.1 88.2 L274.2 92.9 L274.4 95.2 L274.5 97.1 L274.6 105.8 L274.8 104.5 L274.9 107.6 L275.0 111.8 L275.1 114.2 L275.2 116.0 L275.4 118.0 L275.5 120.9 L275.6 120.9 L275.8 125.0 L275.9 126.5 L276.0 126.6 L276.1 127.4 L276.2 130.1 L276.4 132.0 L276.5 133.0 L276.6 133.9 L276.8 134.9 L276.9 135.7 L277.0 137.5 L277.1 138.6 L277.2 139.6 L277.4 140.3 L277.5 141.3 L277.6 141.8 L277.8 142.5 L277.9 143.3 L278.0 143.8 L278.1 144.9 L278.2 144.9 L278.4 145.9 L278.5 146.4 L278.6 146.9 L278.8 147.1 L278.9 147.0 L279.0 148.1 L279.1 148.3 L279.2 149.0 L279.4 147.2 L279.5 146.8 L279.6 149.2 L279.8 147.0 L279.9 148.1 L280.0 149.1 L280.1 148.7 L280.2 147.0 L280.4 148.7 L280.5 147.1 L280.6 148.2 L280.8 147.2 L280.9 149.3 L281.0 147.0 L281.1 148.6 L281.2 149.5 L281.4 148.4 L281.5 148.7 L281.6 149.5 L281.8 148.7 L281.9 147.1 L282.0 148.1 L282.1 148.4 L282.2 149.3 L282.4 149.3 L282.5 147.1 L282.6 149.5 L282.8 149.3 L282.9 147.7 L283.0 146.5 L283.1 149.5 L283.2 149.3 L283.4 146.9 L283.5 148.0 L283.6 147.0 L283.8 147.5 L283.9 148.3 L284.0 146.6 L284.1 148.4 L284.2 147.9 L284.4 148.2 L284.5 148.8 L284.6 147.2 L284.8 148.1 L284.9 149.1 L285.0 147.3 L285.1 147.3 L285.2 148.2 L285.4 147.0 L285.5 148.5 L285.6 147.2 L285.8 147.9 L285.9 148.4 L286.0 148.1 L286.1 147.0 L286.2 146.0 L286.4 145.6 L286.5 148.3 L286.6 146.5 L286.8 148.1 L286.9 147.8 L287.0 145.7 L287.1 147.7 L287.2 147.3 L287.4 145.8 L287.5 148.6 L287.6 146.9 L287.8 148.6 L287.9 147.6 L288.0 148.5 L288.1 147.6 L288.2 147.2 L288.4 148.2 L288.5 148.0 L288.6 146.3 L288.8 146.9 L288.9 146.4 L289.0 148.1 L289.1 149.5 L289.2 148.6 L289.4 149.5 L289.5 149.5 L289.6 146.9 L289.8 148.8 L289.9 149.5 L290.0 149.0 L290.1 149.5 L290.2 149.5 L290.4 148.4 L290.5 148.6 L290.6 149.5 L290.8 149.5 L290.9 147.7 L291.0 148.6 L291.1 148.8 L291.2 149.5 L291.4 147.1 L291.5 148.4 L291.6 149.0 L291.8 149.5 L291.9 148.7 L292.0 147.7 L292.1 147.0 L292.2 149.3 L292.4 149.0 L292.5 149.5 L292.6 148.9 L292.8 149.5 L292.9 148.1 L293.0 148.6 L293.1 149.2 L293.2 148.9 L293.4 149.3 L293.5 148.1 L293.6 149.5 L293.8 149.5 L293.9 149.5 L294.0 147.3 L294.1 147.3 L294.2 148.7 L294.4 149.5 L294.5 146.5 L294.6 132.1 L294.8 111.0 L294.9 79.9 L295.0 36.8 L295.1 38.9 L295.2 48.7 L295.4 50.2 L295.5 60.2 L295.6 61.3 L295.8 71.4 L295.9 72.3 L296.0 76.3 L296.1 78.4 L296.2 89.0 L296.4 94.0 L296.5 93.8 L296.6 95.4 L296.8 104.3 L296.9 105.3 L297.0 108.5 L297.1 112.6 L297.2 111.9 L297.4 114.1 L297.5 119.4 L297.6 119.7 L297.8 121.3 L297.9 124.0 L298.0 122.9 L298.1 127.5 L298.2 128.2 L298.4 129.1 L298.5 130.0 L298.6 133.2 L298.8 134.3 L298.9 135.1 L299.0 136.6 L299.1 137.5 L299.2 137.4 L299.4 139.1 L299.5 140.1 L299.6 140.3 L299.8 141.5 L299.9 142.8 L300.0 143.1 L300.1 143.8 L300.2 144.0 L300.4 145.2 L300.5 145.7 L300.6 146.1 L300.8 146.5 L300.9 147.1 L301.0 146.1 L301.1 148.0 L301.2 147.8 L301.4 145.8 L301.5 147.7 L301.6 145.3 L301.8 145.8 L301.9 148.5 L302.0 145.8 L302.1 148.8 L302.2 149.1 L302.4 147.0 L302.5 147.7 L302.6 146.5 L302.8 147.4 L302.9 148.5 L303.0 148.5 L303.1 148.2 L303.2 148.6 L303.4 148.5 L303.5 146.9 L303.6 147.9 L303.8 148.1 L303.9 140.4 L304.0 121.0 L304.1 92.3 L304.2 61.6 L304.3 42.8 L304.4 43.8 L304.5 56.0 L304.6 58.0 L304.8 66.8 L304.9 66.8 L305.0 78.3 L305.1 80.3 L305.2 80.5 L305.4 88.1 L305.5 87.7 L305.6 93.1 L305.8 99.3 L305.9 99.9 L306.0 104.0 L306.1 108.5 L306.2 108.3 L306.4 111.9 L306.5 115.2 L306.6 114.6 L306.8 117.7 L306.9 120.5 L307.0 124.2 L307.1 123.6 L307.2 127.2 L307.4 126.9 L307.5 129.3 L307.6 130.6 L307.8 130.0 L307.9 134.3 L308.0 134.5 L308.1 134.9 L308.2 137.8 L308.4 137.4 L308.5 138.6 L308.6 139.7 L308.8 140.6 L308.9 141.8 L309.0 142.4 L309.1 142.8 L309.2 143.7 L309.4 144.0 L309.5 144.9 L309.6 145.4 L309.8 145.6 L309.9 146.7 L310.0 146.7 L310.1 147.4 L310.2 147.4 L310.4 148.2 L310.5 148.6 L310.6 148.3 L310.8 147.0 L310.9 147.8 L311.0 145.9 L311.1 146.8 L311.2 145.3 L311.4 147.6 L311.5 148.3 L311.6 146.6 L311.8 146.8 L311.9 146.6 L312.0 147.0 L312.1 146.1 L312.2 148.5 L312.4 146.4 L312.5 148.1 L312.6 147.2 L312.8 147.4 L312.9 147.6 L313.0 147.0 L313.1 147.8 L313.2 148.3 L313.4 148.3 L313.5 149.3 L313.6 148.1 L313.8 147.6 L313.9 149.5 L314.0 148.6 L314.1 148.9 L314.2 147.9 L314.4 149.4 L314.5 149.4 L314.6 147.6 L314.8 147.7 L314.9 149.5 L315.0 147.2 L315.1 149.5 L315.2 148.0 L315.4 149.5 L315.5 149.5 L315.6 149.5 L315.8 149.5 L315.9 148.9 L316.0 148.7 L316.1 148.9 L316.2 148.6 L316.4 146.8 L316.5 147.2 L316.6 149.1 L316.8 149.5 L316.9 147.2 L317.0 149.5 L317.1 146.9 L317.2 147.4 L317.4 149.3 L317.5 149.2 L317.6 148.7 L317.8 147.5 L317.9 149.5 L318.0 149.2 L318.1 149.5 L318.2 148.0 L318.4 149.5 L318.5 147.8 L318.6 147.8 L318.8 149.5 L318.9 147.8 L319.0 149.5 L319.1 149.3 L319.2 149.3 L319.4 147.9 L319.5 147.4 L319.6 148.3 L319.8 148.5 L319.9 147.0 L320.0 149.1 L320.1 147.4 L320.2 149.4 L320.4 148.6 L320.5 148.8 L320.6 149.5 L320.8 149.5 L320.9 147.7 L321.0 147.6 L321.1 149.5 L321.2 148.4 L321.4 148.4 L321.5 148.9 L321.6 149.1 L321.8 149.5 L321.9 149.5 L322.0 149.5 L322.1 149.5 L322.2 147.7 L322.4 149.5 L322.5 149.5 L322.6 149.4 L322.8 149.5 L322.9 149.5 L323.0 149.5 L323.1 149.5 L323.2 148.5 L323.4 149.5 L323.5 149.2 L323.6 148.8 L323.8 148.3 L323.9 149.5 L324.0 149.5 L324.1 149.5 L324.2 148.3 L324.4 148.3 L324.5 146.7 L324.6 147.4 L324.8 146.6 L324.9 149.0 L325.0 148.2 L325.1 148.8 L325.2 147.8 L325.4 148.9 L325.5 146.9 L325.6 145.9 L325.8 148.3 L325.9 146.2 L326.0 147.5 L326.1 149.4 L326.2 148.0 L326.4 147.4 L326.5 149.1 L326.6 148.4 L326.8 146.6 L326.9 146.3 L327.0 147.5 L327.1 147.6 L327.2 146.8 L327.4 147.4 L327.5 147.3 L327.6 146.0 L327.8 148.9 L327.9 148.2 L328.0 148.6 L328.1 146.9 L328.2 149.5 L328.4 147.9 L328.5 147.4 L328.6 149.5 L328.8 149.1 L328.9 149.0 L329.0 148.2 L329.1 149.5 L329.2 148.2 L329.4 147.8 L329.5 149.5 L329.6 147.4 L329.8 149.5 L329.9 149.5 L330.0 147.8 L330.1 146.8 L330.2 148.7 L330.4 147.3 L330.5 149.5 L330.6 148.6 L330.8 147.2 L330.9 147.8 L331.0 147.4 L331.1 148.3 L331.2 146.5 L331.4 147.0 L331.5 149.0 L331.6 147.1 L331.8 148.1 L331.9 147.0 L332.0 148.0 L332.1 149.1 L332.2 148.2 L332.4 139.7 L332.5 119.7 L332.6 88.1 L332.8 60.3 L332.8 32.8 L332.9 44.4 L333.0 48.2 L333.1 56.2 L333.2 67.5 L333.4 80.7 L333.5 76.7 L333.6 88.9 L333.8 93.4 L333.9 100.6 L334.0 101.6 L334.1 109.0 L334.2 111.9 L334.4 113.3 L334.5 119.5 L334.6 122.8 L334.8 125.2 L334.9 125.9 L335.0 129.7 L335.1 133.0 L335.2 134.4 L335.4 136.8 L335.5 137.1 L335.6 139.4 L335.8 140.2 L335.9 141.6 L336.0 142.8 L336.1 143.6 L336.2 145.0 L336.4 142.6 L336.5 145.0 L336.6 146.2 L336.8 143.5 L336.9 144.5 L337.0 143.7 L337.1 146.8 L337.2 146.6 L337.4 146.3 L337.5 145.7 L337.6 143.5 L337.8 147.1 L337.9 144.3 L338.0 145.0 L338.1 145.0 L338.2 141.6 L338.4 136.1 L338.4 135.2 L338.5 135.4 L338.6 137.0 L338.8 138.3 L338.9 138.7 L339.0 140.3 L339.1 140.5 L339.2 142.1 L339.4 142.5 L339.5 143.2" fill="none" stroke="#e0392a" stroke-width="1.5" stroke-linejoin="round" clip-path="url(#c00)"/>
<clipPath id="c10"><rect x="378" y="15" width="306" height="135"/></clipPath>
<path d="M478.5 16.5V149.5M578.5 16.5V149.5M678.5 16.5V149.5" stroke="#555" stroke-width="1" stroke-dasharray="3.4 2.99" stroke-dashoffset="4.99"/>
<path d="M378.5 116.2H684.5M378.5 83H684.5M378.5 49.8H684.5" stroke="#555" stroke-width="1" stroke-dasharray="3.4 2.99" stroke-dashoffset="4.49"/>
<path d="M378.5 16.5H684.5V149.5H378.5Z" fill="none" stroke="#333" stroke-width="1.3"/>
<path d="M378.5 149.5v-4.5M378.5 16.5v4.5M478.5 149.5v-4.5M478.5 16.5v4.5M578.5 149.5v-4.5M578.5 16.5v4.5M678.5 149.5v-4.5M678.5 16.5v4.5M378.5 149.5h4.5M684.5 149.5h-4.5M378.5 116.2h4.5M684.5 116.2h-4.5M378.5 83h4.5M684.5 83h-4.5M378.5 49.8h4.5M684.5 49.8h-4.5M378.5 16.5h4.5M684.5 16.5h-4.5" stroke="#333" stroke-width="1.2"/>
<path d="M378.5 149.4 L378.6 147.2 L378.8 147.1 L378.9 148.3 L379.0 147.9 L379.1 125.3 L379.2 110.8 L379.2 110.8 L379.4 118.5 L379.5 130.4 L379.6 138.3 L379.8 137.5 L379.9 132.6 L380.0 142.1 L380.1 139.2 L380.2 142.0 L380.4 142.5 L380.5 142.9 L380.6 140.2 L380.8 143.4 L380.9 143.1 L381.0 140.4 L381.1 141.3 L381.2 140.5 L381.4 141.2 L381.5 140.4 L381.6 148.1 L381.8 148.9 L381.9 148.4 L382.0 147.2 L382.1 147.4 L382.2 146.8 L382.4 146.0 L382.5 145.3 L382.6 144.5 L382.8 143.7 L382.9 143.0 L383.0 142.2 L383.1 141.5 L383.2 140.7 L383.4 139.9 L383.5 139.2 L383.6 138.4 L383.8 137.7 L383.9 136.9 L384.0 136.2 L384.1 135.4 L384.2 134.6 L384.4 133.9 L384.5 133.1 L384.6 132.4 L384.8 131.6 L384.9 130.8 L385.0 130.1 L385.1 129.3 L385.2 128.6 L385.4 127.8 L385.5 127.0 L385.6 126.3 L385.8 125.5 L385.8 125.2 L385.9 136.4 L386.0 127.9 L386.1 126.1 L386.2 132.4 L386.4 133.4 L386.5 134.1 L386.6 140.9 L386.8 138.2 L386.9 142.6 L387.0 143.0 L387.1 142.8 L387.2 144.2 L387.4 143.6 L387.5 145.6 L387.6 144.3 L387.8 144.1 L387.9 146.0 L388.0 142.9 L388.1 145.0 L388.2 146.4 L388.4 146.0 L388.5 147.2 L388.6 146.9 L388.8 147.5 L388.9 146.8 L389.0 147.9 L389.1 147.9 L389.2 146.7 L389.4 147.6 L389.5 148.4 L389.6 147.5 L389.8 148.0 L389.9 148.6 L390.0 147.2 L390.1 148.3 L390.2 148.1 L390.4 148.0 L390.5 147.5 L390.6 147.7 L390.8 148.3 L390.9 148.8 L391.0 147.2 L391.1 149.2 L391.2 148.3 L391.4 148.8 L391.5 148.8 L391.6 147.8 L391.8 148.4 L391.9 149.1 L392.0 148.6 L392.1 147.3 L392.2 148.1 L392.4 147.8 L392.5 147.0 L392.6 148.2 L392.8 147.8 L392.9 148.0 L393.0 149.3 L393.1 149.3 L393.2 147.8 L393.4 149.3 L393.5 149.0 L393.6 149.3 L393.8 149.3 L393.9 148.3 L394.0 149.3 L394.1 149.2 L394.2 148.1 L394.4 149.2 L394.5 148.1 L394.6 148.5 L394.8 148.0 L394.9 146.9 L395.0 148.4 L395.1 149.4 L395.2 148.8 L395.4 149.1 L395.5 147.6 L395.6 146.7 L395.8 148.3 L395.9 147.6 L396.0 147.5 L396.1 148.5 L396.2 147.0 L396.4 148.8 L396.5 148.4 L396.6 147.3 L396.8 148.0 L396.9 149.0 L397.0 148.5 L397.1 148.4 L397.2 148.2 L397.4 146.2 L397.5 143.9 L397.5 143.0 L397.6 144.0 L397.8 145.7 L397.9 147.2 L398.0 148.2 L398.1 148.3 L398.2 147.0 L398.4 149.0 L398.5 149.3 L398.6 148.2 L398.8 148.4 L398.9 147.7 L399.0 149.4 L399.1 149.4 L399.2 148.5 L399.4 149.5 L399.5 149.3 L399.6 147.6 L399.8 144.8 L399.9 142.0 L399.9 141.6 L400.0 144.7 L400.1 144.2 L400.2 147.2 L400.4 147.8 L400.5 148.2 L400.6 148.4 L400.8 145.9 L400.9 143.1 L400.9 141.9 L401.0 144.4 L401.1 145.1 L401.2 145.7 L401.4 145.9 L401.5 147.6 L401.6 148.2 L401.8 148.4 L401.9 148.9 L402.0 148.2 L402.1 148.6 L402.2 149.3 L402.4 147.8 L402.5 149.0 L402.6 147.7 L402.8 147.8 L402.9 147.6 L403.0 149.3 L403.1 148.7 L403.2 148.7 L403.4 147.4 L403.5 149.5 L403.6 147.5 L403.8 149.3 L403.9 146.8 L404.0 146.5 L404.1 148.0 L404.2 146.7 L404.4 147.2 L404.5 147.0 L404.6 147.0 L404.8 149.5 L404.9 147.5 L405.0 148.7 L405.1 149.3 L405.2 147.8 L405.4 147.8 L405.5 148.3 L405.6 147.0 L405.8 149.5 L405.9 148.8 L406.0 149.0 L406.1 148.9 L406.2 149.5 L406.4 149.1 L406.5 147.4 L406.6 149.5 L406.8 149.3 L406.9 147.4 L407.0 149.4 L407.1 148.6 L407.2 149.0 L407.4 148.9 L407.5 148.9 L407.6 147.8 L407.8 149.3 L407.9 149.4 L408.0 147.5 L408.1 147.5 L408.2 148.8 L408.4 146.9 L408.5 146.5 L408.6 148.3 L408.8 147.9 L408.9 147.8 L409.0 148.0 L409.1 147.0 L409.2 147.8 L409.4 148.8 L409.5 148.9 L409.6 147.5 L409.8 149.1 L409.9 148.0 L410.0 149.5 L410.1 147.3 L410.2 149.5 L410.4 147.5 L410.5 148.4 L410.6 148.0 L410.8 147.9 L410.9 149.5 L411.0 148.1 L411.1 148.4 L411.2 147.6 L411.4 148.5 L411.5 147.9 L411.6 147.1 L411.8 147.0 L411.9 144.4 L412.0 142.1 L412.0 143.1 L412.1 144.4 L412.2 145.9 L412.4 146.8 L412.5 146.8 L412.6 148.3 L412.8 147.4 L412.9 144.8 L413.0 142.3 L413.0 142.3 L413.1 145.0 L413.2 145.0 L413.4 147.4 L413.5 147.5 L413.6 148.1 L413.8 147.4 L413.9 149.1 L414.0 148.8 L414.1 149.2 L414.2 147.9 L414.4 146.0 L414.5 140.1 L414.6 134.2 L414.8 128.3 L414.9 122.4 L414.9 121.2 L415.0 128.6 L415.1 134.7 L415.2 132.1 L415.4 133.3 L415.5 136.0 L415.6 131.2 L415.8 126.2 L415.9 132.1 L416.0 138.4 L416.1 136.7 L416.2 135.1 L416.4 134.6 L416.5 139.5 L416.6 137.9 L416.8 137.9 L416.9 139.5 L417.0 140.1 L417.1 138.0 L417.2 138.7 L417.4 137.3 L417.5 136.5 L417.6 137.6 L417.8 137.1 L417.9 138.7 L418.0 136.1 L418.1 138.5 L418.2 138.4 L418.4 137.4 L418.5 138.7 L418.6 136.5 L418.8 138.8 L418.9 137.0 L419.0 137.7 L419.1 136.9 L419.2 138.4 L419.4 138.8 L419.5 141.3 L419.6 138.3 L419.7 138.4 L419.8 134.7 L419.9 137.5 L420.0 136.8 L420.1 146.5 L420.2 146.4 L420.4 148.1 L420.5 145.9 L420.6 147.5 L420.8 147.0 L420.9 148.4 L421.0 147.7 L421.1 148.0 L421.2 147.8 L421.4 147.9 L421.5 146.3 L421.6 147.6 L421.8 146.8 L421.9 147.3 L422.0 147.8 L422.1 147.5 L422.2 148.2 L422.4 147.5 L422.5 148.4 L422.6 147.7 L422.8 148.1 L422.9 147.6 L423.0 148.3 L423.1 148.1 L423.2 144.0 L423.4 139.4 L423.5 134.9 L423.6 130.3 L423.7 127.6 L423.8 134.3 L423.9 133.5 L424.0 133.6 L424.1 140.3 L424.2 141.9 L424.4 139.6 L424.5 141.7 L424.6 142.3 L424.8 144.7 L424.9 145.4 L425.0 146.6 L425.1 143.7 L425.2 145.7 L425.4 146.5 L425.5 146.0 L425.6 144.2 L425.8 146.8 L425.9 146.0 L426.0 145.6 L426.1 147.1 L426.2 146.1 L426.4 146.9 L426.5 146.6 L426.6 146.7 L426.8 148.1 L426.9 147.6 L427.0 147.2 L427.1 146.9 L427.2 148.0 L427.4 148.1 L427.5 147.0 L427.6 148.3 L427.8 147.7 L427.9 148.5 L428.0 148.1 L428.1 147.5 L428.2 148.5 L428.4 148.4 L428.5 147.6 L428.6 147.5 L428.8 147.8 L428.9 147.9 L429.0 147.8 L429.1 148.3 L429.2 148.6 L429.4 147.5 L429.5 148.6 L429.6 148.5 L429.8 147.3 L429.9 147.7 L430.0 147.2 L430.1 145.4 L430.2 144.5 L430.2 145.9 L430.4 146.6 L430.5 147.3 L430.6 148.4 L430.8 148.0 L430.9 148.2 L431.0 149.0 L431.1 148.4 L431.2 149.1 L431.4 148.4 L431.5 147.9 L431.6 145.9 L431.8 143.9 L431.8 143.9 L431.9 146.3 L432.0 147.1 L432.1 147.9 L432.2 145.5 L432.4 142.8 L432.4 141.8 L432.5 143.7 L432.6 144.5 L432.8 146.4 L432.9 147.2 L433.0 147.6 L433.1 148.5 L433.2 148.9 L433.4 148.8 L433.5 147.9 L433.6 149.3 L433.8 149.3 L433.9 149.4 L434.0 148.7 L434.1 148.8 L434.2 148.0 L434.4 149.3 L434.5 149.4 L434.6 149.3 L434.8 147.8 L434.9 149.3 L435.0 149.4 L435.1 147.4 L435.2 148.1 L435.4 149.4 L435.5 148.1 L435.6 147.2 L435.8 147.4 L435.9 148.1 L436.0 147.9 L436.1 149.4 L436.2 147.8 L436.4 147.1 L436.5 147.3 L436.6 147.6 L436.8 147.7 L436.9 148.8 L437.0 148.1 L437.1 149.4 L437.2 148.9 L437.4 149.5 L437.5 147.1 L437.6 148.7 L437.8 148.7 L437.9 147.9 L438.0 149.5 L438.1 147.0 L438.2 147.2 L438.4 148.4 L438.5 149.4 L438.6 147.8 L438.8 147.7 L438.9 149.1 L439.0 148.9 L439.1 149.0 L439.2 149.5 L439.4 149.3 L439.5 149.5 L439.6 148.2 L439.8 149.5 L439.9 149.5 L440.0 149.5 L440.1 148.4 L440.2 148.9 L440.4 148.9 L440.5 149.3 L440.6 147.1 L440.8 147.9 L440.9 147.2 L441.0 147.7 L441.1 148.9 L441.2 148.7 L441.4 147.3 L441.5 148.1 L441.6 147.8 L441.8 147.4 L441.9 147.1 L442.0 146.7 L442.1 146.4 L442.2 146.0 L442.4 145.7 L442.5 145.3 L442.6 145.0 L442.8 144.7 L442.9 144.3 L443.0 144.0 L443.1 143.6 L443.2 143.3 L443.4 142.9 L443.5 142.6 L443.6 142.2 L443.8 141.9 L443.9 141.5 L444.0 141.2 L444.1 140.8 L444.2 140.5 L444.4 140.1 L444.5 139.8 L444.6 139.5 L444.8 139.1 L444.9 138.8 L445.0 138.4 L445.1 138.1 L445.2 137.7 L445.4 137.4 L445.5 137.0 L445.6 137.6 L445.8 138.5 L445.9 138.4 L446.0 144.0 L446.1 146.4 L446.2 142.8 L446.4 143.8 L446.5 146.0 L446.6 145.6 L446.8 145.1 L446.9 148.0 L447.0 146.0 L447.1 147.6 L447.2 147.1 L447.4 147.3 L447.5 147.7 L447.6 147.6 L447.8 148.7 L447.9 147.6 L448.0 148.5 L448.1 148.5 L448.2 147.7 L448.4 147.5 L448.5 145.2 L448.6 143.1 L448.6 143.1 L448.8 145.9 L448.9 144.9 L449.0 148.3 L449.1 148.6 L449.2 148.6 L449.4 148.6 L449.5 147.9 L449.6 148.6 L449.8 145.6 L449.9 142.3 L450.0 139.0 L450.1 135.8 L450.2 132.5 L450.4 129.2 L450.5 126.0 L450.6 122.7 L450.8 119.4 L450.9 116.2 L451.0 112.9 L451.1 110.3 L451.1 134.9 L451.2 121.0 L451.4 110.3 L451.5 132.1 L451.6 133.5 L451.8 122.6 L451.9 139.6 L452.0 135.6 L452.1 141.1 L452.2 139.4 L452.4 140.7 L452.5 140.6 L452.6 142.4 L452.8 141.2 L452.9 139.6 L453.0 143.9 L453.1 141.6 L453.2 144.4 L453.4 145.3 L453.5 145.1 L453.6 146.0 L453.8 145.1 L453.9 147.4 L454.0 142.7 L454.1 143.3 L454.2 143.9 L454.4 142.7 L454.5 143.2 L454.6 142.6 L454.8 143.3 L454.9 143.8 L455.0 145.7 L455.1 145.2 L455.2 143.4 L455.4 143.4 L455.5 142.9 L455.5 142.6 L455.6 143.5 L455.8 142.2 L455.9 143.4 L456.0 142.8 L456.1 144.1 L456.2 143.3 L456.4 143.4 L456.5 144.2 L456.6 143.7 L456.8 143.4 L456.9 144.0 L457.0 144.1 L457.1 148.3 L457.2 147.4 L457.4 148.4 L457.5 147.8 L457.6 148.1 L457.8 148.3 L457.9 148.8 L458.0 148.7 L458.1 147.8 L458.2 147.2 L458.4 147.5 L458.5 148.5 L458.6 148.9 L458.8 148.7 L458.9 147.8 L459.0 147.4 L459.1 146.5 L459.2 144.5 L459.3 144.0 L459.4 145.0 L459.5 146.4 L459.6 147.6 L459.8 147.2 L459.9 147.4 L460.0 148.3 L460.1 148.1 L460.2 148.5 L460.4 147.2 L460.5 147.2 L460.6 148.9 L460.8 147.5 L460.9 144.6 L461.0 141.0 L461.1 137.5 L461.2 134.0 L461.4 130.4 L461.5 126.9 L461.6 123.4 L461.8 119.8 L461.9 116.3 L461.9 115.6 L462.0 115.6 L462.1 129.1 L462.2 137.3 L462.4 135.3 L462.5 135.5 L462.6 136.6 L462.8 140.1 L462.9 144.2 L463.0 141.9 L463.1 141.6 L463.2 141.7 L463.4 146.3 L463.5 144.5 L463.6 146.2 L463.8 145.6 L463.9 146.6 L464.0 146.1 L464.1 144.7 L464.2 142.8 L464.2 142.8 L464.4 145.4 L464.5 147.2 L464.6 146.8 L464.8 147.9 L464.9 147.0 L465.0 147.8 L465.1 148.1 L465.2 148.1 L465.4 147.4 L465.5 145.8 L465.6 144.8 L465.6 145.7 L465.8 146.9 L465.9 147.6 L466.0 147.6 L466.1 148.6 L466.2 148.7 L466.4 148.8 L466.5 148.8 L466.6 147.3 L466.8 148.1 L466.9 147.7 L467.0 147.9 L467.1 145.8 L467.2 143.7 L467.3 143.7 L467.4 143.9 L467.5 147.2 L467.6 147.9 L467.8 147.5 L467.9 148.0 L468.0 147.0 L468.1 146.1 L468.1 146.1 L468.2 147.4 L468.4 147.8 L468.5 146.2 L468.6 144.3 L468.6 144.3 L468.8 145.5 L468.9 144.7 L468.9 144.1 L469.0 144.1 L469.1 146.2 L469.2 143.5 L469.3 142.2 L469.4 142.2 L469.5 142.8 L469.6 141.5 L469.8 140.2 L469.9 138.8 L470.0 137.4 L470.1 136.1 L470.2 134.7 L470.4 133.3 L470.5 131.9 L470.6 130.6 L470.8 129.2 L470.9 127.8 L470.9 127.6 L471.0 128.0 L471.1 127.6 L471.2 136.6 L471.4 139.2 L471.5 128.6 L471.6 136.8 L471.8 137.7 L471.9 138.2 L472.0 143.7 L472.1 145.0 L472.2 141.6 L472.4 142.3 L472.5 143.5 L472.6 145.3 L472.8 144.7 L472.9 146.3 L473.0 145.6 L473.1 144.8 L473.2 145.5 L473.4 146.2 L473.5 146.6 L473.6 147.1 L473.8 146.5 L473.9 147.8 L474.0 147.0 L474.1 147.3 L474.2 148.9 L474.4 146.9 L474.5 147.0 L474.6 147.4 L474.8 148.4 L474.9 148.4 L475.0 148.0 L475.1 148.5 L475.2 148.5 L475.4 148.6 L475.5 149.1 L475.6 148.8 L475.8 148.8 L475.9 149.2 L476.0 147.1 L476.1 149.0 L476.2 148.8 L476.4 148.8 L476.5 149.2 L476.6 143.7 L476.8 137.9 L476.9 132.0 L477.0 126.2 L477.1 120.4 L477.2 114.6 L477.3 112.3 L477.4 112.3 L477.5 127.6 L477.6 126.9 L477.8 130.8 L477.9 133.0 L478.0 135.7 L478.1 138.4 L478.2 132.2 L478.4 141.2 L478.5 144.8 L478.6 146.0 L478.8 142.2 L478.9 147.5 L479.0 143.9 L479.1 141.8 L479.2 141.8 L479.4 144.5 L479.5 143.5 L479.6 145.4 L479.8 144.5 L479.9 146.4 L480.0 145.8 L480.1 145.6 L480.2 143.4 L480.4 146.4 L480.5 146.7 L480.6 145.1 L480.8 147.0 L480.9 146.3 L481.0 146.8 L481.1 147.1 L481.2 145.6 L481.4 147.3 L481.5 146.7 L481.6 146.6 L481.8 146.6 L481.9 145.5 L482.0 147.3 L482.1 147.2 L482.2 146.2 L482.4 146.7 L482.5 146.1 L482.6 143.4 L482.7 141.7 L482.8 145.5 L482.9 146.5 L483.0 144.8 L483.1 146.3 L483.2 144.6 L483.2 144.6 L483.4 146.6 L483.5 147.2 L483.6 147.6 L483.8 147.8 L483.9 147.9 L484.0 147.6 L484.1 148.0 L484.2 148.2 L484.4 147.8 L484.5 146.4 L484.6 144.7 L484.6 144.8 L484.8 146.5 L484.9 144.4 L484.9 143.6 L485.0 146.1 L485.1 146.4 L485.2 146.1 L485.4 147.8 L485.5 148.1 L485.6 148.4 L485.8 148.3 L485.9 147.9 L486.0 147.5 L486.1 148.5 L486.2 143.7 L486.4 138.8 L486.5 134.0 L486.6 129.1 L486.8 124.2 L486.9 119.4 L486.9 118.4 L487.0 118.4 L487.1 118.4 L487.2 138.6 L487.4 138.7 L487.5 138.3 L487.6 138.1 L487.8 142.1 L487.9 142.0 L488.0 147.5 L488.1 143.6 L488.2 145.3 L488.4 147.5 L488.5 147.3 L488.6 147.5 L488.8 146.8 L488.9 148.1 L489.0 147.4 L489.1 147.3 L489.2 147.3 L489.4 147.0 L489.5 146.2 L489.6 147.2 L489.8 147.9 L489.9 147.4 L490.0 146.7 L490.1 148.0 L490.2 148.3 L490.4 146.9 L490.5 148.5 L490.6 147.5 L490.8 147.4 L490.9 148.2 L491.0 148.7 L491.1 144.5 L491.2 139.6 L491.4 134.6 L491.5 129.7 L491.6 124.7 L491.8 119.7 L491.8 117.7 L491.9 117.7 L492.0 125.4 L492.1 132.7 L492.2 127.6 L492.4 143.1 L492.5 132.7 L492.6 134.0 L492.8 138.2 L492.9 139.8 L493.0 142.0 L493.1 140.4 L493.2 141.5 L493.4 142.1 L493.5 145.4 L493.6 147.1 L493.8 144.2 L493.9 145.3 L494.0 145.3 L494.1 145.9 L494.2 147.3 L494.4 146.9 L494.5 147.8 L494.6 146.9 L494.8 144.4 L494.9 142.0 L494.9 142.0 L495.0 144.7 L495.1 147.5 L495.2 147.4 L495.4 146.6 L495.5 148.2 L495.6 148.2 L495.8 145.6 L495.9 143.0 L495.9 142.1 L496.0 143.7 L496.1 145.2 L496.2 146.1 L496.4 147.1 L496.5 147.6 L496.6 148.1 L496.8 147.3 L496.9 147.2 L497.0 148.9 L497.1 148.4 L497.2 147.4 L497.4 148.3 L497.5 148.4 L497.6 148.7 L497.8 149.0 L497.9 146.5 L498.0 148.9 L498.1 148.8 L498.2 148.1 L498.4 148.9 L498.5 147.9 L498.6 148.1 L498.8 146.8 L498.9 147.4 L499.0 147.7 L499.1 148.0 L499.2 147.5 L499.4 149.2 L499.5 149.4 L499.6 147.7 L499.8 149.4 L499.9 149.4 L500.0 147.8 L500.1 149.4 L500.2 148.9 L500.4 147.3 L500.5 148.6 L500.6 147.2 L500.8 145.9 L500.8 145.8 L500.9 146.4 L501.0 147.8 L501.1 148.1 L501.2 148.7 L501.4 149.0 L501.5 147.7 L501.6 149.3 L501.8 148.4 L501.9 147.9 L502.0 149.4 L502.1 147.9 L502.2 147.0 L502.4 144.5 L502.5 142.4 L502.5 142.4 L502.6 143.6 L502.8 144.9 L502.9 145.5 L503.0 147.8 L503.1 147.5 L503.2 148.8 L503.4 147.4 L503.5 148.1 L503.6 147.7 L503.8 147.4 L503.9 147.0 L504.0 148.6 L504.1 149.4 L504.2 149.4 L504.4 147.3 L504.5 148.0 L504.6 149.5 L504.8 149.3 L504.9 148.5 L505.0 143.5 L505.1 144.8 L505.2 145.1 L505.2 144.4 L505.4 144.4 L505.5 144.9 L505.6 144.3 L505.8 143.6 L505.9 145.3 L506.0 144.6 L506.1 145.4 L506.2 145.1 L506.4 144.9 L506.5 144.3 L506.6 145.7 L506.8 143.6 L506.9 145.1 L507.0 144.5 L507.1 144.3 L507.2 145.2 L507.4 144.3 L507.5 144.3 L507.6 144.5 L507.8 144.7 L507.9 144.4 L508.0 144.0 L508.1 145.0 L508.2 144.6 L508.4 143.9 L508.5 144.6 L508.6 144.7 L508.8 144.2 L508.9 143.9 L509.0 144.9 L509.1 144.0 L509.1 144.0 L509.2 146.1 L509.4 146.6 L509.5 145.9 L509.6 144.8 L509.6 147.4 L509.8 147.4 L509.9 147.5 L510.0 147.5 L510.1 148.5 L510.2 147.2 L510.4 147.9 L510.5 146.9 L510.6 149.4 L510.8 149.4 L510.9 149.4 L511.0 147.5 L511.1 148.3 L511.2 149.5 L511.4 148.0 L511.5 145.5 L511.6 143.0 L511.8 140.5 L511.8 139.5 L511.9 140.4 L512.0 141.4 L512.1 142.8 L512.2 146.5 L512.4 148.0 L512.5 146.7 L512.6 148.0 L512.8 147.7 L512.9 147.2 L513.0 146.8 L513.1 148.0 L513.2 147.8 L513.4 147.9 L513.5 147.9 L513.6 148.8 L513.8 147.4 L513.9 147.8 L514.0 148.3 L514.1 148.6 L514.2 148.5 L514.4 148.5 L514.5 147.9 L514.6 148.6 L514.8 148.3 L514.9 147.0 L515.0 142.8 L515.1 138.7 L515.2 134.5 L515.4 130.4 L515.4 129.6 L515.5 129.6 L515.6 133.9 L515.8 136.7 L515.9 139.5 L516.0 143.1 L516.1 141.6 L516.2 143.2 L516.4 143.6 L516.5 146.3 L516.6 145.5 L516.8 146.5 L516.9 146.4 L517.0 148.0 L517.1 147.6 L517.2 148.3 L517.4 148.0 L517.5 147.6 L517.6 148.1 L517.8 148.5 L517.9 145.2 L518.0 137.9 L518.1 130.7 L518.2 123.4 L518.4 116.2 L518.4 114.8 L518.5 126.6 L518.6 115.0 L518.7 130.3 L518.8 135.6 L518.9 129.8 L519.0 139.1 L519.1 136.7 L519.2 135.5 L519.4 130.7 L519.5 122.1 L519.6 113.6 L519.7 108.4 L519.8 108.4 L519.9 108.4 L520.0 116.4 L520.1 124.1 L520.2 123.4 L520.4 115.5 L520.5 125.6 L520.6 126.8 L520.8 134.0 L520.9 135.7 L520.9 135.3 L521.0 126.9 L521.1 133.2 L521.2 136.0 L521.4 135.4 L521.5 135.1 L521.6 140.5 L521.8 138.5 L521.9 138.8 L522.0 138.8 L522.1 138.6 L522.2 135.4 L522.4 132.2 L522.5 129.1 L522.6 129.7 L522.8 129.1 L522.9 145.4 L523.0 141.6 L523.1 137.2 L523.2 137.9 L523.4 143.2 L523.5 141.0 L523.6 143.7 L523.8 143.4 L523.9 144.1 L524.0 144.6 L524.1 145.3 L524.2 144.8 L524.4 145.7 L524.5 145.1 L524.6 146.5 L524.8 146.5 L524.9 146.9 L525.0 146.9 L525.1 145.1 L525.2 143.2 L525.2 143.2 L525.3 143.2 L525.4 143.8 L525.5 145.5 L525.6 146.1 L525.8 147.5 L525.9 147.0 L526.0 147.0 L526.1 146.4 L526.2 140.8 L526.4 133.5 L526.5 126.2 L526.6 119.0 L526.8 111.7 L526.9 104.4 L526.9 102.9 L527.0 108.0 L527.1 113.1 L527.2 123.4 L527.4 133.2 L527.5 132.7 L527.6 138.7 L527.8 141.3 L527.9 142.3 L528.0 140.9 L528.1 142.9 L528.2 144.9 L528.4 144.0 L528.5 145.3 L528.6 144.7 L528.8 144.6 L528.9 146.8 L529.0 147.4 L529.1 147.6 L529.2 145.3 L529.4 147.4 L529.5 147.9 L529.6 146.4 L529.8 147.8 L529.9 147.5 L530.0 147.2 L530.1 147.0 L530.2 147.4 L530.4 148.2 L530.5 147.1 L530.6 146.9 L530.8 147.0 L530.9 140.8 L531.0 134.5 L531.1 128.3 L531.2 122.1 L531.4 115.8 L531.5 109.6 L531.6 120.1 L531.8 118.8 L531.9 123.2 L532.0 134.9 L532.1 124.3 L532.2 129.9 L532.4 139.6 L532.5 134.6 L532.6 138.4 L532.8 134.2 L532.9 137.8 L533.0 141.1 L533.1 141.6 L533.2 140.4 L533.4 140.5 L533.5 143.6 L533.6 139.6 L533.8 138.6 L533.9 141.6 L534.0 142.7 L534.1 142.3 L534.2 144.5 L534.4 141.6 L534.5 142.7 L534.6 144.0 L534.8 144.2 L534.9 145.1 L535.0 143.7 L535.1 142.2 L535.2 140.8 L535.4 139.3 L535.5 137.9 L535.6 138.7 L535.8 137.9 L535.8 144.2 L535.9 143.5 L536.0 145.2 L536.1 144.9 L536.2 143.1 L536.4 141.4 L536.5 145.6 L536.6 142.8 L536.8 145.4 L536.9 145.2 L537.0 146.3 L537.1 146.3 L537.2 145.4 L537.4 146.8 L537.5 146.2 L537.6 146.3 L537.8 147.0 L537.9 145.2 L537.9 144.5 L538.0 146.1 L538.1 145.7 L538.2 146.8 L538.4 146.2 L538.5 148.0 L538.6 146.1 L538.8 147.4 L538.9 148.2 L539.0 146.7 L539.1 147.5 L539.2 147.3 L539.4 147.4 L539.5 148.7 L539.6 146.9 L539.8 146.9 L539.9 146.9 L540.0 147.7 L540.1 147.5 L540.2 147.4 L540.4 146.4 L540.5 145.3 L540.6 144.3 L540.8 143.3 L540.9 142.2 L541.0 141.2 L541.1 141.4 L541.2 146.6 L541.4 144.4 L541.5 146.5 L541.6 144.7 L541.8 145.5 L541.9 145.4 L542.0 146.2 L542.1 146.5 L542.2 147.1 L542.4 147.1 L542.5 147.0 L542.6 146.8 L542.8 147.0 L542.9 147.8 L543.0 148.4 L543.1 148.3 L543.2 148.2 L543.4 146.6 L543.5 143.8 L543.6 141.9 L543.6 142.0 L543.8 146.1 L543.9 146.8 L544.0 147.8 L544.1 146.8 L544.2 145.3 L544.4 143.8 L544.5 142.3 L544.6 140.8 L544.7 140.3 L544.8 139.3 L544.9 137.8 L545.0 136.3 L545.1 134.8 L545.2 133.3 L545.4 131.7 L545.5 130.2 L545.6 128.7 L545.8 127.2 L545.9 125.7 L546.0 124.2 L546.1 122.7 L546.2 121.2 L546.4 119.7 L546.4 119.4 L546.5 119.4 L546.6 127.9 L546.8 124.9 L546.8 132.5 L546.9 132.1 L547.0 134.7 L547.1 140.8 L547.2 139.2 L547.4 139.4 L547.5 140.9 L547.6 135.5 L547.8 144.2 L547.9 144.2 L548.0 145.9 L548.1 144.3 L548.2 142.3 L548.4 145.9 L548.5 144.0 L548.6 145.2 L548.8 145.1 L548.9 146.5 L549.0 146.7 L549.1 147.3 L549.2 148.9 L549.4 147.2 L549.5 147.3 L549.6 147.1 L549.8 147.4 L549.9 148.4 L550.0 146.7 L550.1 144.8 L550.2 144.1 L550.2 146.8 L550.4 146.6 L550.5 147.5 L550.6 148.4 L550.8 148.0 L550.9 147.8 L551.0 148.6 L551.1 147.1 L551.2 149.1 L551.4 148.8 L551.5 147.0 L551.6 148.5 L551.8 146.8 L551.9 147.0 L552.0 148.0 L552.1 148.7 L552.2 149.1 L552.4 149.2 L552.5 149.1 L552.6 149.1 L552.8 147.7 L552.9 148.9 L553.0 146.9 L553.1 144.4 L553.2 142.6 L553.2 143.8 L553.4 145.9 L553.5 145.4 L553.6 147.7 L553.8 146.9 L553.9 148.6 L554.0 148.4 L554.1 149.1 L554.2 149.0 L554.4 149.3 L554.5 148.1 L554.6 148.4 L554.8 149.4 L554.9 148.8 L555.0 149.4 L555.1 149.0 L555.2 149.4 L555.4 149.4 L555.5 148.5 L555.6 149.4 L555.8 147.8 L555.9 149.4 L556.0 147.4 L556.1 147.8 L556.2 147.5 L556.4 149.5 L556.5 148.6 L556.6 147.3 L556.8 149.5 L556.9 146.9 L557.0 147.6 L557.1 147.1 L557.2 148.4 L557.4 146.9 L557.5 146.9 L557.6 146.9 L557.8 147.3 L557.9 149.5 L558.0 147.5 L558.1 146.7 L558.2 148.0 L558.4 147.9 L558.5 146.9 L558.6 147.0 L558.8 148.1 L558.9 146.6 L559.0 146.6 L559.1 146.2 L559.2 148.9 L559.4 147.0 L559.5 146.0 L559.6 143.9 L559.6 143.6 L559.8 146.1 L559.9 146.4 L560.0 146.6 L560.1 147.5 L560.2 148.1 L560.4 147.5 L560.5 148.6 L560.6 147.4 L560.8 148.2 L560.9 149.0 L561.0 148.8 L561.1 147.1 L561.2 147.2 L561.4 147.4 L561.5 148.1 L561.6 148.1 L561.8 148.0 L561.9 148.3 L562.0 146.8 L562.1 148.7 L562.2 149.5 L562.4 148.3 L562.5 148.2 L562.6 147.5 L562.8 149.5 L562.9 147.9 L563.0 148.8 L563.1 147.5 L563.2 147.2 L563.4 149.0 L563.5 147.0 L563.6 147.2 L563.8 149.5 L563.9 147.3 L564.0 147.4 L564.1 149.5 L564.2 148.7 L564.4 149.5 L564.5 149.2 L564.6 149.2 L564.8 148.5 L564.9 149.5 L565.0 149.5 L565.1 148.7 L565.2 149.5 L565.4 148.2 L565.5 149.3 L565.6 147.3 L565.8 149.5 L565.9 149.5 L566.0 149.2 L566.1 147.6 L566.2 147.6 L566.4 148.3 L566.5 147.0 L566.6 149.5 L566.8 148.0 L566.9 149.5 L567.0 147.0 L567.1 148.5 L567.2 148.8 L567.4 147.7 L567.5 148.5 L567.6 146.5 L567.8 144.0 L567.8 142.4 L567.9 144.6 L568.0 146.6 L568.1 145.9 L568.2 147.8 L568.4 147.9 L568.5 146.9 L568.6 148.0 L568.8 146.6 L568.9 145.1 L569.0 143.7 L569.1 142.2 L569.2 140.8 L569.4 139.3 L569.5 137.9 L569.6 139.9 L569.8 141.0 L569.9 145.0 L570.0 145.9 L570.1 145.4 L570.2 145.2 L570.4 145.5 L570.5 141.4 L570.6 136.4 L570.8 131.4 L570.9 126.3 L571.0 121.3 L571.1 117.2 L571.1 124.3 L571.2 121.3 L571.4 129.2 L571.5 132.1 L571.6 135.0 L571.8 134.5 L571.9 140.3 L572.0 143.2 L572.1 144.5 L572.2 142.5 L572.4 143.9 L572.5 143.2 L572.6 147.3 L572.8 144.6 L572.9 145.8 L573.0 146.5 L573.1 147.5 L573.2 147.4 L573.4 145.7 L573.5 146.9 L573.6 147.3 L573.8 146.6 L573.9 147.1 L574.0 147.4 L574.1 147.5 L574.2 148.0 L574.4 148.3 L574.5 148.0 L574.6 148.4 L574.8 147.2 L574.9 148.5 L575.0 149.0 L575.1 144.7 L575.2 139.9 L575.4 135.1 L575.5 130.3 L575.6 125.5 L575.8 120.7 L575.9 115.9 L576.0 111.1 L576.1 130.1 L576.2 130.4 L576.4 130.3 L576.5 134.3 L576.6 136.9 L576.8 141.3 L576.9 139.1 L577.0 143.2 L577.1 141.3 L577.2 143.1 L577.4 144.0 L577.5 146.2 L577.6 145.9 L577.8 145.7 L577.9 145.4 L578.0 146.8 L578.1 148.3 L578.2 147.9 L578.4 147.6 L578.5 147.0 L578.6 147.9 L578.8 147.0 L578.9 147.4 L579.0 147.8 L579.1 147.7 L579.2 147.7 L579.4 147.7 L579.5 147.1 L579.6 147.9 L579.8 148.5 L579.9 148.5 L580.0 148.2 L580.1 148.6 L580.2 148.6 L580.4 147.9 L580.5 148.1 L580.6 148.8 L580.8 147.3 L580.9 148.6 L581.0 149.0 L581.1 149.2 L581.2 148.1 L581.4 149.0 L581.5 147.4 L581.6 149.1 L581.8 149.1 L581.9 149.2 L582.0 149.1 L582.1 147.7 L582.2 147.6 L582.4 147.7 L582.5 149.3 L582.6 148.1 L582.8 149.4 L582.9 147.4 L583.0 148.5 L583.1 149.4 L583.2 149.3 L583.4 149.3 L583.5 148.4 L583.6 149.1 L583.8 147.9 L583.9 146.3 L583.9 143.9 L584.0 141.0 L584.1 135.7 L584.2 130.4 L584.4 125.1 L584.5 119.8 L584.6 115.6 L584.6 116.4 L584.8 116.2 L584.9 126.7 L585.0 121.9 L585.1 133.8 L585.2 133.6 L585.4 131.0 L585.5 134.3 L585.6 126.8 L585.8 134.0 L585.9 129.6 L586.0 122.9 L586.1 139.8 L586.2 124.9 L586.4 135.5 L586.5 133.6 L586.6 133.7 L586.8 142.9 L586.9 141.4 L587.0 137.8 L587.1 142.5 L587.2 144.7 L587.4 143.5 L587.5 141.5 L587.6 143.6 L587.8 144.4 L587.9 144.6 L588.0 145.3 L588.1 145.5 L588.2 146.4 L588.4 146.9 L588.5 144.7 L588.6 145.6 L588.8 145.6 L588.9 147.0 L589.0 146.0 L589.1 147.5 L589.2 147.1 L589.4 146.0 L589.5 147.0 L589.6 147.4 L589.8 147.1 L589.9 146.5 L590.0 147.5 L590.1 147.7 L590.2 148.1 L590.4 147.6 L590.5 147.7 L590.6 147.9 L590.8 147.8 L590.9 148.7 L591.0 147.0 L591.1 148.3 L591.2 147.9 L591.4 147.9 L591.5 147.8 L591.6 147.8 L591.8 146.8 L591.9 140.1 L592.0 133.4 L592.1 130.2 L592.1 126.6 L592.2 119.9 L592.4 113.2 L592.5 106.4 L592.5 107.2 L592.6 118.4 L592.8 116.5 L592.9 118.3 L592.9 132.4 L593.0 133.4 L593.1 127.7 L593.2 136.2 L593.4 138.8 L593.5 143.2 L593.6 145.0 L593.8 137.9 L593.9 143.9 L594.0 144.0 L594.1 146.2 L594.2 142.4 L594.4 144.2 L594.4 143.2 L594.5 144.7 L594.6 146.6 L594.8 147.0 L594.9 146.8 L595.0 147.5 L595.1 146.8 L595.2 147.6 L595.4 147.0 L595.5 147.1 L595.6 145.4 L595.7 144.6 L595.8 146.0 L595.9 147.5 L596.0 147.7 L596.1 148.0 L596.2 148.7 L596.4 147.5 L596.5 148.2 L596.6 147.3 L596.8 148.9 L596.9 149.0 L597.0 148.9 L597.1 148.2 L597.2 147.9 L597.4 148.2 L597.5 149.1 L597.6 147.9 L597.8 147.2 L597.9 147.1 L598.0 149.1 L598.1 148.7 L598.2 147.4 L598.4 149.1 L598.5 148.7 L598.6 149.1 L598.8 148.3 L598.9 147.5 L599.0 148.4 L599.1 147.8 L599.2 148.7 L599.4 149.3 L599.5 148.3 L599.6 149.2 L599.8 148.9 L599.9 149.4 L600.0 148.9 L600.1 149.1 L600.2 147.0 L600.4 144.9 L600.5 142.8 L600.6 140.7 L600.8 138.5 L600.9 136.4 L601.0 134.3 L601.1 132.8 L601.1 132.2 L601.2 130.1 L601.4 128.0 L601.5 125.9 L601.6 124.2 L601.6 124.2 L601.8 124.2 L601.9 140.2 L602.0 131.2 L602.1 128.9 L602.2 136.0 L602.4 128.2 L602.5 137.0 L602.6 137.3 L602.8 137.0 L602.9 136.2 L603.0 143.6 L603.1 143.3 L603.2 137.9 L603.4 142.1 L603.5 140.6 L603.6 143.5 L603.8 144.1 L603.9 146.8 L604.0 143.8 L604.1 143.9 L604.2 146.4 L604.4 146.5 L604.5 147.1 L604.6 147.5 L604.8 146.9 L604.9 147.2 L605.0 147.0 L605.1 146.2 L605.2 148.0 L605.4 147.2 L605.5 147.1 L605.6 147.8 L605.8 147.8 L605.9 148.0 L606.0 148.4 L606.1 148.2 L606.2 148.4 L606.4 148.4 L606.5 148.1 L606.6 148.2 L606.8 147.3 L606.9 147.3 L607.0 147.6 L607.1 147.2 L607.2 147.6 L607.4 148.3 L607.5 148.7 L607.6 148.0 L607.8 148.0 L607.9 149.3 L608.0 146.9 L608.1 147.9 L608.2 148.5 L608.4 145.8 L608.5 143.1 L608.6 141.8 L608.6 141.8 L608.8 145.4 L608.9 146.0 L609.0 147.9 L609.1 147.2 L609.2 147.5 L609.4 147.7 L609.5 147.1 L609.6 144.1 L609.8 141.1 L609.9 138.1 L610.0 135.1 L610.1 132.1 L610.2 129.2 L610.4 126.2 L610.4 125.6 L610.5 133.7 L610.6 133.6 L610.8 143.0 L610.9 135.3 L611.0 143.4 L611.1 140.2 L611.2 142.7 L611.4 142.9 L611.5 144.9 L611.6 145.5 L611.8 145.9 L611.9 146.1 L612.0 140.3 L612.1 134.6 L612.2 128.8 L612.4 123.1 L612.4 121.9 L612.5 126.6 L612.6 129.9 L612.8 134.1 L612.9 140.9 L613.0 141.1 L613.1 141.6 L613.2 142.3 L613.4 142.0 L613.5 143.8 L613.6 136.8 L613.8 129.7 L613.9 122.7 L614.0 115.6 L614.1 115.6 L614.2 125.3 L614.4 134.1 L614.5 133.7 L614.6 133.3 L614.8 136.3 L614.9 137.4 L615.0 143.1 L615.1 144.1 L615.2 143.6 L615.4 144.5 L615.5 144.4 L615.6 147.1 L615.8 145.0 L615.9 142.2 L615.9 141.6 L616.0 143.7 L616.1 143.8 L616.2 147.2 L616.4 147.6 L616.5 148.2 L616.6 147.2 L616.8 146.9 L616.9 144.7 L617.0 142.7 L617.0 141.5 L617.1 138.2 L617.2 134.9 L617.4 131.5 L617.5 128.9 L617.5 128.2 L617.6 124.9 L617.7 122.9 L617.8 126.0 L617.9 122.9 L618.0 126.0 L618.1 126.3 L618.2 134.5 L618.4 132.2 L618.5 134.1 L618.6 138.7 L618.8 136.9 L618.9 144.0 L619.0 138.7 L619.1 141.2 L619.2 140.3 L619.4 145.2 L619.5 146.0 L619.6 143.4 L619.8 144.1 L619.9 145.9 L620.0 145.0 L620.1 146.3 L620.2 146.0 L620.4 146.3 L620.5 145.5 L620.6 145.3 L620.8 144.5 L620.9 143.7 L621.0 142.8 L621.1 142.8 L621.2 143.0 L621.2 142.8 L621.4 144.9 L621.5 144.8 L621.6 145.4 L621.8 146.0 L621.9 146.2 L622.0 147.5 L622.1 145.9 L622.2 146.6 L622.4 145.9 L622.5 143.9 L622.5 143.8 L622.6 145.7 L622.8 146.8 L622.9 147.2 L623.0 147.8 L623.1 147.9 L623.2 148.6 L623.4 148.5 L623.5 148.6 L623.6 148.5 L623.8 148.7 L623.9 148.8 L624.0 148.5 L624.1 148.8 L624.2 149.0 L624.4 148.8 L624.5 147.5 L624.6 148.9 L624.8 148.0 L624.9 146.1 L625.0 144.2 L625.0 144.1 L625.1 144.5 L625.2 142.0 L625.2 142.2 L625.4 143.2 L625.5 145.0 L625.6 147.5 L625.8 147.5 L625.9 148.4 L626.0 147.8 L626.1 148.1 L626.2 149.1 L626.4 147.8 L626.5 149.2 L626.6 147.6 L626.8 149.0 L626.9 149.2 L627.0 149.2 L627.1 148.0 L627.2 148.4 L627.4 146.9 L627.5 147.1 L627.6 148.7 L627.8 147.5 L627.9 147.3 L628.0 147.1 L628.1 149.4 L628.2 149.4 L628.4 146.9 L628.5 147.5 L628.6 145.8 L628.7 144.6 L628.8 146.4 L628.9 148.0 L629.0 147.3 L629.1 147.8 L629.2 148.2 L629.4 148.6 L629.5 147.5 L629.6 145.9 L629.7 144.8 L629.8 145.4 L629.9 145.4 L630.0 148.5 L630.1 147.6 L630.2 148.3 L630.4 148.8 L630.5 147.4 L630.6 148.2 L630.8 149.2 L630.9 147.1 L631.0 147.2 L631.1 146.9 L631.2 148.3 L631.4 146.8 L631.5 148.1 L631.6 149.0 L631.8 148.1 L631.9 147.0 L632.0 146.7 L632.1 148.0 L632.2 147.4 L632.4 147.3 L632.5 148.4 L632.6 148.7 L632.8 146.2 L632.9 143.6 L632.9 142.3 L633.0 143.6 L633.0 142.9 L633.1 142.9 L633.2 145.2 L633.4 146.6 L633.5 146.6 L633.6 145.9 L633.8 145.1 L633.9 144.4 L634.0 143.7 L634.1 144.4 L634.2 145.4 L634.4 145.7 L634.5 144.1 L634.6 145.5 L634.8 146.0 L634.9 145.9 L635.0 147.2 L635.1 146.5 L635.2 147.7 L635.4 147.7 L635.5 147.0 L635.6 147.5 L635.8 147.6 L635.9 148.0 L636.0 148.1 L636.1 146.6 L636.2 147.2 L636.4 147.7 L636.5 144.9 L636.6 142.1 L636.6 141.7 L636.8 145.0 L636.9 144.6 L637.0 146.3 L637.1 147.6 L637.2 148.5 L637.4 148.3 L637.5 148.8 L637.6 148.9 L637.8 148.3 L637.9 147.6 L638.0 149.2 L638.1 147.8 L638.2 147.2 L638.4 148.6 L638.5 148.8 L638.6 147.3 L638.8 145.2 L638.9 141.5 L639.0 137.9 L639.1 134.3 L639.2 130.7 L639.4 127.1 L639.5 123.5 L639.6 120.6 L639.6 120.8 L639.8 120.6 L639.9 120.6 L640.0 125.3 L640.1 131.8 L640.2 133.0 L640.4 134.9 L640.5 131.8 L640.6 139.4 L640.8 126.2 L640.9 140.8 L641.0 142.8 L641.1 139.5 L641.2 137.9 L641.4 141.9 L641.5 146.7 L641.6 145.3 L641.8 142.2 L641.9 142.3 L642.0 143.7 L642.1 143.8 L642.2 144.9 L642.4 145.6 L642.5 144.1 L642.6 146.4 L642.8 144.3 L642.9 146.8 L643.0 144.3 L643.1 146.9 L643.2 146.3 L643.4 145.5 L643.5 146.7 L643.6 146.3 L643.8 147.8 L643.9 146.9 L644.0 146.7 L644.1 147.5 L644.2 147.5 L644.4 147.0 L644.5 148.6 L644.6 147.6 L644.8 147.5 L644.9 148.8 L645.0 147.7 L645.1 148.5 L645.2 148.6 L645.4 148.3 L645.5 147.4 L645.6 148.9 L645.8 148.0 L645.9 145.6 L646.0 143.2 L646.0 142.7 L646.1 144.7 L646.2 147.1 L646.4 147.0 L646.5 147.0 L646.6 148.9 L646.8 146.8 L646.9 149.0 L647.0 144.6 L647.1 138.5 L647.2 132.3 L647.4 126.2 L647.5 120.1 L647.6 113.9 L647.7 110.3 L647.8 110.3 L647.9 110.3 L648.0 120.7 L648.1 122.7 L648.2 128.9 L648.4 141.3 L648.4 136.6 L648.5 129.6 L648.6 136.8 L648.8 142.2 L648.9 132.2 L649.0 139.5 L649.1 139.6 L649.2 138.5 L649.4 136.9 L649.5 138.3 L649.6 143.1 L649.8 139.5 L649.9 141.6 L650.0 140.5 L650.1 142.6 L650.2 141.4 L650.4 143.2 L650.5 142.6 L650.6 145.3 L650.8 146.0 L650.9 143.1 L651.0 144.8 L651.1 143.4 L651.2 146.0 L651.4 145.0 L651.5 146.0 L651.6 145.9 L651.8 147.1 L651.9 145.8 L652.0 145.8 L652.1 145.8 L652.2 145.3 L652.4 145.5 L652.5 147.3 L652.6 145.7 L652.8 145.2 L652.9 145.5 L653.0 146.1 L653.1 145.8 L653.2 145.8 L653.4 146.4 L653.5 147.1 L653.6 146.9 L653.8 146.8 L653.9 146.8 L654.0 146.8 L654.1 146.7 L654.2 148.0 L654.4 146.5 L654.5 145.5 L654.6 143.6 L654.6 145.4 L654.8 146.0 L654.9 147.2 L655.0 147.6 L655.1 147.2 L655.2 147.7 L655.4 148.5 L655.5 147.8 L655.6 147.3 L655.8 147.9 L655.9 148.3 L656.0 147.8 L656.1 148.2 L656.2 148.2 L656.4 148.2 L656.5 147.7 L656.6 148.1 L656.8 148.5 L656.9 148.3 L657.0 148.5 L657.1 147.6 L657.2 147.3 L657.4 148.3 L657.5 146.9 L657.6 147.1 L657.8 148.3 L657.9 148.1 L658.0 149.0 L658.1 147.5 L658.2 148.6 L658.4 147.5 L658.5 148.2 L658.6 149.0 L658.8 147.8 L658.9 148.7 L659.0 149.3 L659.1 147.5 L659.2 148.4 L659.4 148.4 L659.5 148.9 L659.6 149.0 L659.8 148.8 L659.9 148.0 L660.0 149.2 L660.1 149.2 L660.2 149.1 L660.4 148.8 L660.5 147.6 L660.6 146.8 L660.8 149.0 L660.9 148.1 L661.0 146.6 L661.1 146.0 L661.1 145.8 L661.2 146.9 L661.4 147.6 L661.5 148.1 L661.6 149.0 L661.8 148.8 L661.9 148.5 L662.0 149.0 L662.1 149.0 L662.2 148.9 L662.4 148.2 L662.5 148.3 L662.6 149.2 L662.8 149.1 L662.9 149.0 L663.0 149.2 L663.1 147.4 L663.2 149.2 L663.4 148.5 L663.5 149.2 L663.6 148.5 L663.8 149.3 L663.9 149.2 L664.0 147.4 L664.1 148.4 L664.2 149.4 L664.4 147.3 L664.5 148.2 L664.6 148.0 L664.8 147.0 L664.9 148.8 L665.0 149.2 L665.1 148.4 L665.2 149.2 L665.4 149.3 L665.5 147.8 L665.6 147.3 L665.8 148.8 L665.9 149.4 L666.0 149.0 L666.1 148.0 L666.2 148.2 L666.4 149.4 L666.5 148.2 L666.6 149.0 L666.8 148.5 L666.9 149.4 L667.0 149.4 L667.1 148.9 L667.2 148.2 L667.4 148.2 L667.5 147.4 L667.6 147.2 L667.8 149.5 L667.9 148.3 L668.0 146.1 L668.1 143.9 L668.2 143.3 L668.2 143.7 L668.4 145.8 L668.5 146.4 L668.6 148.1 L668.8 148.4 L668.9 148.7 L669.0 147.2 L669.1 149.2 L669.2 147.8 L669.4 148.4 L669.5 149.4 L669.6 148.6 L669.8 149.4 L669.9 148.4 L670.0 149.3 L670.1 148.1 L670.2 149.0 L670.4 149.4 L670.5 149.4 L670.6 149.3 L670.8 148.0 L670.9 149.5 L671.0 148.4 L671.1 148.9 L671.2 149.5 L671.4 149.5 L671.5 149.5 L671.6 149.3 L671.8 147.0 L671.9 146.9 L672.0 148.1 L672.1 148.2 L672.2 148.8 L672.4 147.5 L672.5 147.9 L672.6 147.2 L672.8 147.5 L672.9 149.2 L673.0 147.9 L673.1 148.6 L673.2 148.7 L673.4 149.0 L673.5 147.6 L673.6 149.0 L673.8 149.2 L673.9 149.5 L674.0 149.5 L674.1 149.5 L674.2 147.8 L674.4 147.3 L674.5 147.9 L674.6 149.5 L674.8 147.5 L674.9 145.3 L675.0 143.4 L675.0 143.8 L675.1 145.4 L675.2 147.1 L675.4 146.7 L675.5 145.2 L675.6 143.3 L675.6 143.3 L675.8 145.2 L675.9 146.1 L676.0 147.0 L676.1 146.9 L676.2 144.2 L676.4 141.6 L676.5 138.9 L676.6 136.3 L676.8 133.6 L676.9 131.0 L677.0 128.3 L677.1 125.7 L677.2 123.0 L677.4 120.4 L677.5 117.7 L677.6 115.6 L677.6 116.1 L677.8 131.0 L677.9 125.5 L678.0 129.0 L678.1 137.9 L678.2 141.5 L678.4 141.0 L678.5 138.4 L678.6 139.7 L678.8 143.7 L678.9 145.0 L679.0 145.8 L679.1 147.0 L679.2 147.4 L679.4 147.6 L679.5 147.5 L679.6 147.7 L679.8 148.3 L679.9 148.5 L680.0 148.6 L680.1 148.8 L680.2 147.4 L680.4 148.9 L680.5 148.5 L680.6 147.4 L680.8 149.3 L680.9 147.6 L681.0 148.8 L681.1 148.1 L681.2 148.7 L681.4 148.1 L681.5 149.4 L681.6 148.9 L681.8 148.4 L681.9 147.8 L682.0 147.3 L682.1 146.7 L682.2 146.2 L682.4 145.6 L682.5 145.1 L682.6 144.5 L682.8 144.0 L682.9 143.4 L683.0 142.8 L683.1 142.3 L683.2 141.7 L683.4 141.2 L683.5 140.6 L683.6 140.1 L683.8 139.5 L683.9 139.0 L684.0 138.4 L684.1 137.9 L684.2 137.3 L684.4 136.8 L684.5 136.2" fill="none" stroke="#0aa0d4" stroke-width="1.8" stroke-linejoin="round" clip-path="url(#c10)"/>
<clipPath id="c01"><rect x="33" y="176" width="306" height="135"/></clipPath>
<path d="M133.5 177.5V310.5M233.5 177.5V310.5M333.5 177.5V310.5" stroke="#555" stroke-width="1" stroke-dasharray="3.4 2.99" stroke-dashoffset="4.99"/>
<path d="M33.5 277.2H339.5M33.5 244H339.5M33.5 210.8H339.5" stroke="#555" stroke-width="1" stroke-dasharray="3.4 2.99" stroke-dashoffset="4.49"/>
<path d="M33.5 177.5H339.5V310.5H33.5Z" fill="none" stroke="#333" stroke-width="1.3"/>
<path d="M33.5 310.5v-4.5M33.5 177.5v4.5M133.5 310.5v-4.5M133.5 177.5v4.5M233.5 310.5v-4.5M233.5 177.5v4.5M333.5 310.5v-4.5M333.5 177.5v4.5M33.5 310.5h4.5M339.5 310.5h-4.5M33.5 277.2h4.5M339.5 277.2h-4.5M33.5 244h4.5M339.5 244h-4.5M33.5 210.8h4.5M339.5 210.8h-4.5M33.5 177.5h4.5M339.5 177.5h-4.5" stroke="#333" stroke-width="1.2"/>
<path d="M33.5 309.6 L33.6 309.6 L33.8 309.1 L33.9 308.5 L34.0 307.3 L34.1 307.2 L34.2 296.0 L34.4 281.0 L34.5 253.3 L34.6 232.4 L34.6 233.8 L34.8 252.7 L34.9 268.2 L35.0 278.4 L35.1 286.9 L35.2 294.3 L35.4 298.2 L35.5 302.2 L35.6 305.7 L35.8 307.8 L35.9 309.8 L36.0 287.8 L36.1 287.0 L36.2 285.3 L36.4 284.8 L36.5 285.5 L36.6 287.0 L36.8 285.0 L36.9 284.5 L37.0 284.2 L37.1 285.0 L37.2 284.4 L37.4 285.8 L37.5 283.1 L37.6 290.3 L37.8 288.0 L37.9 290.8 L38.0 289.9 L38.1 289.2 L38.2 290.3 L38.4 289.5 L38.5 289.4 L38.6 292.2 L38.8 291.1 L38.9 289.6 L39.0 289.6 L39.1 290.1 L39.2 289.6 L39.4 291.1 L39.5 288.3 L39.6 293.1 L39.8 290.8 L39.9 290.9 L40.0 290.5 L40.1 310.5 L40.2 310.5 L40.4 309.1 L40.5 310.5 L40.6 309.2 L40.8 309.8 L40.9 301.2 L41.0 281.7 L41.1 257.2 L41.2 216.0 L41.3 203.4 L41.4 214.2 L41.5 217.0 L41.6 224.2 L41.8 223.9 L41.9 233.4 L42.0 236.3 L42.1 238.2 L42.2 242.8 L42.4 243.5 L42.5 253.3 L42.6 254.7 L42.8 258.9 L42.9 262.3 L43.0 265.7 L43.1 268.8 L43.2 268.8 L43.4 273.0 L43.5 276.9 L43.6 278.3 L43.8 277.8 L43.9 282.6 L44.0 283.5 L44.1 284.4 L44.2 285.4 L44.4 289.6 L44.5 289.2 L44.6 291.0 L44.8 292.6 L44.9 295.2 L45.0 295.0 L45.1 296.3 L45.2 297.2 L45.4 299.0 L45.5 299.8 L45.6 300.7 L45.8 301.4 L45.9 301.7 L46.0 302.7 L46.1 303.2 L46.2 304.5 L46.4 305.0 L46.5 305.7 L46.6 306.2 L46.8 306.6 L46.9 307.4 L47.0 307.2 L47.1 307.1 L47.2 308.8 L47.4 306.8 L47.5 309.5 L47.6 307.8 L47.8 307.9 L47.9 310.5 L48.0 307.8 L48.1 310.0 L48.2 310.2 L48.4 309.8 L48.5 310.5 L48.6 309.2 L48.8 309.5 L48.9 309.1 L49.0 310.5 L49.1 309.7 L49.2 310.3 L49.4 308.8 L49.5 310.0 L49.6 310.2 L49.8 309.2 L49.9 310.5 L50.0 308.9 L50.1 310.5 L50.2 308.5 L50.4 308.9 L50.5 309.3 L50.6 308.8 L50.8 309.0 L50.9 310.5 L51.0 308.8 L51.1 309.1 L51.2 310.1 L51.4 310.1 L51.5 309.0 L51.6 308.8 L51.8 308.5 L51.9 307.4 L52.0 309.9 L52.1 309.8 L52.2 310.3 L52.4 309.8 L52.5 309.0 L52.6 307.5 L52.8 308.6 L52.9 308.7 L53.0 307.7 L53.1 308.1 L53.2 309.4 L53.4 309.4 L53.5 310.3 L53.6 309.6 L53.8 308.2 L53.9 309.2 L54.0 309.2 L54.1 310.0 L54.2 310.5 L54.4 310.5 L54.5 308.3 L54.6 308.8 L54.8 308.4 L54.9 309.2 L55.0 309.0 L55.1 309.6 L55.2 310.0 L55.4 310.5 L55.5 310.1 L55.6 310.5 L55.8 310.3 L55.9 310.5 L56.0 310.5 L56.1 309.0 L56.2 310.5 L56.4 310.5 L56.5 310.5 L56.6 308.8 L56.8 308.3 L56.9 309.4 L57.0 310.5 L57.1 310.1 L57.2 309.1 L57.4 308.5 L57.5 308.6 L57.6 309.0 L57.8 308.3 L57.9 310.5 L58.0 309.6 L58.1 310.2 L58.2 308.5 L58.4 309.7 L58.5 309.8 L58.6 310.2 L58.8 308.8 L58.9 308.4 L59.0 307.8 L59.1 308.7 L59.2 310.1 L59.4 308.8 L59.5 306.9 L59.6 307.9 L59.8 308.1 L59.9 307.9 L60.0 309.6 L60.1 309.3 L60.2 309.4 L60.4 310.5 L60.5 310.2 L60.6 309.3 L60.8 310.5 L60.9 308.8 L61.0 308.3 L61.1 310.1 L61.2 308.9 L61.4 309.5 L61.5 309.4 L61.6 309.7 L61.8 309.0 L61.9 309.4 L62.0 309.2 L62.1 308.4 L62.2 310.5 L62.4 310.2 L62.5 308.6 L62.6 309.7 L62.8 310.5 L62.9 310.5 L63.0 309.9 L63.1 310.1 L63.2 308.2 L63.4 308.8 L63.5 308.7 L63.6 309.8 L63.8 310.5 L63.9 308.5 L64.0 308.2 L64.1 308.9 L64.2 308.4 L64.4 308.3 L64.5 310.5 L64.6 308.1 L64.8 308.8 L64.9 309.0 L65.0 308.5 L65.1 310.5 L65.2 309.0 L65.4 310.5 L65.5 310.5 L65.6 310.5 L65.8 310.5 L65.9 308.3 L66.0 310.5 L66.1 310.5 L66.2 308.5 L66.4 309.5 L66.5 310.0 L66.6 309.2 L66.8 310.5 L66.9 310.0 L67.0 308.3 L67.1 309.4 L67.2 310.5 L67.4 310.5 L67.5 308.7 L67.6 309.6 L67.8 309.0 L67.9 309.8 L68.0 307.8 L68.1 310.0 L68.2 308.4 L68.4 308.9 L68.5 308.7 L68.6 309.6 L68.8 310.5 L68.9 310.5 L69.0 309.5 L69.1 308.4 L69.2 310.1 L69.4 309.6 L69.5 309.8 L69.6 309.8 L69.8 310.4 L69.9 308.3 L70.0 310.3 L70.1 307.3 L70.2 307.4 L70.4 309.2 L70.5 308.5 L70.6 309.8 L70.8 308.3 L70.9 308.8 L71.0 307.1 L71.1 294.2 L71.2 272.4 L71.4 240.2 L71.5 197.6 L71.6 197.6 L71.8 207.1 L71.9 218.0 L72.0 226.7 L72.1 232.4 L72.2 234.2 L72.4 236.9 L72.5 247.4 L72.6 246.9 L72.8 248.6 L72.9 250.6 L73.0 255.8 L73.1 260.8 L73.2 260.8 L73.4 262.9 L73.5 266.8 L73.6 270.6 L73.8 274.2 L73.9 275.2 L74.0 279.1 L74.1 279.3 L74.2 281.7 L74.4 282.2 L74.5 286.6 L74.6 287.2 L74.8 288.0 L74.9 291.3 L75.0 292.1 L75.1 294.1 L75.2 293.5 L75.4 295.8 L75.5 296.6 L75.6 298.4 L75.8 299.2 L75.9 300.0 L76.0 301.2 L76.1 302.2 L76.2 302.6 L76.4 303.6 L76.5 304.2 L76.6 304.5 L76.8 305.4 L76.9 306.1 L77.0 306.5 L77.1 306.9 L77.2 307.7 L77.4 307.7 L77.5 308.3 L77.6 308.9 L77.8 309.4 L77.9 309.5 L78.0 307.7 L78.1 310.0 L78.2 307.6 L78.4 307.4 L78.5 310.5 L78.6 309.6 L78.8 309.4 L78.9 308.0 L79.0 310.5 L79.1 310.5 L79.2 307.7 L79.4 310.5 L79.5 307.8 L79.6 296.5 L79.8 277.1 L79.9 250.9 L80.0 211.6 L80.1 213.6 L80.2 233.0 L80.4 227.7 L80.5 232.5 L80.6 236.9 L80.8 244.2 L80.9 246.8 L81.0 248.7 L81.1 251.3 L81.2 259.6 L81.4 260.4 L81.5 262.8 L81.6 265.5 L81.8 270.7 L81.9 271.9 L82.0 273.5 L82.1 277.6 L82.2 279.0 L82.4 279.2 L82.5 282.8 L82.6 284.4 L82.8 286.1 L82.9 289.4 L83.0 289.0 L83.1 292.9 L83.2 292.3 L83.4 293.4 L83.5 294.9 L83.6 295.8 L83.8 296.7 L83.9 298.4 L84.0 300.0 L84.1 300.8 L84.2 300.3 L84.4 302.2 L84.5 302.7 L84.6 303.7 L84.8 304.2 L84.9 305.4 L85.0 305.7 L85.1 306.1 L85.2 306.7 L85.4 307.1 L85.5 307.6 L85.6 307.9 L85.8 307.8 L85.9 307.8 L86.0 308.6 L86.1 308.5 L86.2 309.3 L86.4 309.0 L86.5 310.5 L86.6 309.2 L86.8 310.5 L86.9 309.9 L87.0 307.9 L87.1 309.8 L87.2 310.0 L87.4 310.3 L87.5 310.5 L87.6 310.5 L87.8 307.7 L87.9 310.3 L88.0 308.1 L88.1 310.4 L88.2 307.6 L88.4 308.8 L88.5 309.0 L88.6 310.5 L88.8 310.5 L88.9 309.3 L89.0 309.1 L89.1 308.9 L89.2 307.8 L89.4 309.6 L89.5 308.9 L89.6 309.4 L89.8 309.7 L89.9 309.9 L90.0 306.8 L90.1 309.5 L90.2 309.5 L90.4 308.6 L90.5 310.3 L90.6 307.5 L90.8 308.0 L90.9 308.9 L91.0 308.4 L91.1 308.4 L91.2 309.8 L91.4 309.2 L91.5 309.5 L91.6 309.8 L91.8 308.9 L91.9 307.7 L92.0 309.3 L92.1 308.8 L92.2 308.6 L92.4 309.1 L92.5 310.3 L92.6 308.2 L92.8 310.5 L92.9 309.4 L93.0 308.8 L93.1 308.9 L93.2 309.5 L93.4 309.5 L93.5 308.5 L93.6 310.5 L93.8 310.0 L93.9 308.8 L94.0 310.4 L94.1 308.9 L94.2 309.3 L94.4 309.8 L94.5 307.9 L94.6 308.3 L94.8 310.5 L94.9 309.5 L95.0 309.2 L95.1 308.0 L95.2 307.9 L95.4 309.7 L95.5 309.3 L95.6 310.1 L95.8 308.5 L95.9 310.5 L96.0 308.4 L96.1 309.5 L96.2 310.5 L96.4 308.7 L96.5 309.8 L96.6 310.5 L96.8 309.8 L96.9 309.5 L97.0 307.8 L97.1 310.0 L97.2 308.8 L97.4 309.4 L97.5 308.5 L97.6 310.4 L97.8 309.2 L97.9 309.9 L98.0 309.9 L98.1 308.1 L98.2 308.1 L98.4 308.1 L98.5 309.2 L98.6 307.9 L98.8 308.3 L98.9 307.4 L99.0 309.5 L99.1 308.3 L99.2 309.4 L99.4 307.2 L99.5 308.4 L99.6 309.8 L99.8 307.3 L99.9 308.7 L100.0 307.8 L100.1 310.4 L100.2 310.4 L100.4 309.2 L100.5 310.5 L100.6 308.2 L100.8 309.1 L100.9 308.9 L101.0 310.5 L101.1 306.2 L101.2 292.6 L101.4 271.5 L101.5 244.1 L101.6 212.6 L101.6 212.6 L101.8 217.9 L101.9 223.1 L102.0 237.4 L102.1 228.6 L102.2 240.4 L102.4 241.7 L102.5 244.9 L102.6 249.2 L102.8 254.7 L102.9 261.2 L103.0 259.7 L103.1 266.3 L103.2 265.1 L103.4 268.3 L103.5 269.7 L103.6 273.3 L103.8 276.5 L103.9 279.7 L104.0 284.4 L104.1 286.8 L104.2 283.1 L104.4 287.5 L104.5 288.6 L104.6 291.2 L104.8 291.2 L104.9 292.9 L105.0 293.7 L105.1 295.7 L105.2 295.8 L105.4 297.9 L105.5 299.4 L105.6 299.7 L105.8 299.9 L105.9 302.0 L106.0 302.4 L106.1 303.3 L106.2 303.9 L106.4 304.7 L106.5 305.0 L106.6 305.6 L106.8 306.0 L106.9 306.9 L107.0 307.5 L107.1 308.1 L107.2 308.4 L107.4 308.8 L107.5 309.1 L107.6 309.7 L107.8 309.3 L107.9 309.9 L108.0 309.0 L108.1 309.8 L108.2 310.5 L108.4 309.6 L108.5 310.0 L108.6 307.7 L108.8 303.8 L108.9 298.5 L109.0 291.4 L109.1 293.5 L109.2 293.6 L109.4 294.6 L109.5 296.8 L109.6 296.2 L109.8 298.2 L109.9 299.8 L110.0 300.8 L110.1 301.5 L110.2 302.4 L110.4 303.1 L110.5 303.2 L110.6 304.3 L110.8 304.6 L110.9 305.6 L111.0 306.3 L111.1 306.8 L111.2 307.5 L111.4 308.0 L111.5 308.2 L111.6 308.4 L111.8 309.2 L111.9 309.1 L112.0 310.0 L112.1 309.5 L112.2 309.6 L112.4 308.2 L112.5 308.0 L112.6 309.9 L112.8 309.8 L112.9 307.8 L113.0 309.1 L113.1 310.2 L113.2 308.3 L113.4 309.0 L113.5 309.9 L113.6 309.6 L113.8 309.0 L113.9 310.5 L114.0 308.2 L114.1 310.0 L114.2 310.5 L114.4 309.9 L114.5 309.9 L114.6 308.8 L114.8 310.1 L114.9 310.2 L115.0 310.4 L115.1 308.0 L115.2 308.6 L115.4 308.6 L115.5 309.9 L115.6 310.5 L115.8 309.2 L115.9 309.9 L116.0 310.5 L116.1 309.5 L116.2 309.0 L116.4 308.4 L116.5 308.5 L116.6 309.9 L116.8 309.1 L116.9 308.7 L117.0 297.5 L117.1 278.0 L117.2 242.9 L117.4 202.1 L117.4 193.6 L117.5 199.9 L117.6 209.4 L117.8 213.2 L117.9 223.7 L118.0 219.3 L118.1 224.9 L118.2 232.1 L118.4 239.3 L118.5 241.3 L118.6 244.0 L118.8 245.7 L118.9 255.1 L119.0 255.7 L119.1 262.6 L119.2 257.6 L119.4 267.5 L119.5 270.3 L119.6 270.4 L119.8 277.8 L119.9 275.4 L120.0 278.9 L120.1 279.9 L120.2 282.0 L120.4 285.8 L120.5 285.8 L120.6 287.8 L120.8 290.2 L120.9 290.6 L121.0 293.0 L121.1 293.2 L121.2 295.7 L121.4 295.6 L121.5 297.5 L121.6 298.7 L121.8 299.1 L121.9 300.0 L122.0 301.1 L122.1 302.3 L122.2 302.8 L122.4 303.2 L122.5 303.9 L122.6 305.2 L122.8 305.3 L122.9 306.1 L123.0 306.8 L123.1 307.3 L123.2 307.7 L123.4 308.1 L123.5 308.2 L123.6 309.1 L123.8 309.1 L123.9 309.3 L124.0 308.7 L124.1 308.9 L124.2 308.4 L124.4 308.7 L124.5 307.9 L124.6 308.5 L124.8 307.5 L124.9 309.0 L125.0 310.0 L125.1 310.5 L125.2 308.0 L125.4 309.7 L125.5 309.7 L125.6 309.1 L125.8 308.3 L125.9 301.4 L126.0 285.0 L126.1 255.1 L126.2 225.0 L126.3 204.8 L126.4 205.1 L126.5 222.5 L126.6 227.7 L126.8 221.7 L126.9 230.9 L127.0 238.3 L127.1 243.1 L127.2 239.8 L127.4 250.7 L127.5 254.4 L127.6 255.7 L127.8 259.2 L127.9 260.0 L128.0 267.3 L128.1 265.6 L128.2 268.9 L128.4 274.7 L128.5 272.4 L128.6 277.0 L128.8 279.5 L128.9 282.5 L129.0 283.4 L129.1 284.6 L129.2 287.8 L129.4 289.4 L129.5 290.9 L129.6 290.2 L129.8 293.6 L129.9 294.3 L130.0 295.5 L130.1 296.4 L130.2 297.3 L130.4 298.8 L130.5 300.1 L130.6 299.8 L130.8 301.9 L130.9 302.8 L131.0 303.5 L131.1 304.2 L131.2 304.3 L131.4 305.2 L131.5 305.7 L131.6 306.2 L131.8 306.8 L131.9 307.6 L132.0 300.5 L132.1 284.8 L132.2 259.5 L132.4 229.5 L132.4 221.6 L132.5 225.8 L132.6 224.5 L132.8 240.9 L132.9 234.2 L133.0 243.7 L133.1 247.0 L133.2 251.7 L133.4 253.1 L133.5 255.2 L133.6 260.0 L133.8 262.4 L133.9 267.1 L134.0 270.4 L134.1 270.8 L134.2 276.4 L134.4 278.1 L134.5 279.7 L134.6 282.7 L134.8 283.5 L134.9 285.9 L135.0 285.5 L135.1 290.0 L135.2 289.6 L135.4 291.9 L135.5 293.6 L135.6 294.6 L135.8 295.0 L135.9 295.8 L136.0 298.7 L136.1 299.2 L136.2 300.2 L136.4 301.0 L136.5 301.7 L136.6 302.8 L136.8 302.8 L136.9 303.8 L137.0 304.9 L137.1 305.1 L137.2 306.0 L137.4 306.2 L137.5 307.0 L137.6 307.7 L137.8 307.8 L137.9 308.5 L138.0 308.8 L138.1 308.5 L138.2 309.4 L138.4 309.0 L138.5 309.4 L138.6 310.0 L138.8 309.8 L138.9 308.8 L139.0 309.1 L139.1 309.6 L139.2 307.6 L139.4 308.9 L139.5 310.3 L139.6 309.1 L139.8 307.2 L139.9 307.9 L140.0 307.3 L140.1 307.3 L140.2 310.3 L140.4 309.8 L140.5 308.1 L140.6 307.9 L140.8 307.8 L140.9 309.4 L141.0 309.9 L141.1 309.1 L141.2 309.9 L141.4 308.1 L141.5 310.3 L141.6 308.4 L141.8 307.3 L141.9 308.4 L142.0 299.4 L142.1 280.2 L142.2 250.2 L142.4 219.6 L142.4 208.8 L142.5 216.7 L142.6 217.6 L142.8 230.3 L142.9 227.6 L143.0 233.4 L143.1 240.8 L143.2 244.9 L143.4 248.2 L143.5 250.9 L143.6 255.4 L143.8 254.3 L143.9 261.4 L144.0 265.9 L144.1 267.3 L144.2 271.2 L144.4 272.9 L144.5 274.9 L144.6 276.4 L144.8 278.6 L144.9 282.4 L145.0 282.8 L145.1 285.5 L145.2 285.7 L145.4 287.9 L145.5 290.8 L145.6 291.9 L145.8 292.9 L145.9 294.0 L146.0 296.0 L146.1 296.2 L146.2 298.3 L146.4 298.9 L146.5 299.1 L146.6 300.5 L146.8 301.1 L146.9 302.3 L147.0 298.1 L147.1 279.0 L147.2 250.5 L147.4 215.6 L147.4 203.4 L147.5 210.4 L147.6 212.4 L147.8 219.8 L147.9 231.2 L148.0 231.9 L148.1 232.8 L148.2 240.2 L148.4 242.9 L148.5 247.9 L148.6 252.9 L148.8 254.5 L148.9 255.0 L149.0 258.3 L149.1 269.2 L149.2 267.2 L149.4 269.1 L149.5 273.9 L149.6 274.8 L149.8 276.4 L149.9 277.6 L150.0 280.5 L150.1 281.9 L150.2 285.8 L150.4 286.3 L150.5 289.8 L150.6 290.4 L150.8 291.2 L150.9 293.7 L151.0 294.1 L151.1 294.8 L151.2 297.2 L151.4 298.0 L151.5 299.6 L151.6 300.4 L151.8 300.5 L151.9 301.5 L152.0 302.7 L152.1 303.0 L152.2 303.5 L152.4 304.5 L152.5 304.9 L152.6 305.6 L152.8 306.9 L152.9 307.0 L153.0 307.7 L153.1 307.7 L153.2 308.5 L153.4 308.3 L153.5 309.2 L153.6 308.4 L153.8 309.1 L153.9 309.3 L154.0 308.7 L154.1 309.5 L154.2 308.8 L154.4 310.5 L154.5 308.6 L154.6 308.2 L154.8 308.2 L154.9 310.1 L155.0 309.3 L155.1 308.2 L155.2 309.9 L155.4 308.8 L155.5 309.9 L155.6 310.5 L155.8 308.4 L155.9 308.9 L156.0 310.5 L156.1 310.4 L156.2 309.4 L156.4 309.6 L156.5 309.1 L156.6 308.6 L156.8 310.1 L156.9 309.9 L157.0 308.6 L157.1 310.4 L157.2 310.5 L157.4 310.1 L157.5 310.1 L157.6 308.0 L157.8 308.6 L157.9 307.9 L158.0 307.7 L158.1 309.3 L158.2 307.8 L158.4 308.1 L158.5 309.8 L158.6 309.5 L158.8 309.8 L158.9 310.5 L159.0 308.8 L159.1 309.2 L159.2 310.5 L159.4 308.5 L159.5 309.2 L159.6 308.5 L159.8 308.4 L159.9 310.5 L160.0 308.0 L160.1 308.9 L160.2 309.6 L160.4 310.4 L160.5 308.3 L160.6 309.1 L160.8 309.2 L160.9 308.3 L161.0 308.7 L161.1 310.5 L161.2 310.5 L161.4 310.2 L161.5 307.7 L161.6 308.5 L161.8 309.2 L161.9 308.4 L162.0 307.4 L162.1 308.6 L162.2 308.0 L162.4 309.0 L162.5 308.0 L162.6 310.0 L162.8 307.9 L162.9 310.2 L163.0 308.6 L163.1 309.6 L163.2 309.5 L163.4 306.8 L163.5 306.8 L163.6 307.6 L163.8 308.5 L163.9 308.6 L164.0 309.0 L164.1 310.5 L164.2 308.2 L164.4 309.1 L164.5 310.4 L164.6 309.1 L164.8 308.0 L164.9 309.2 L165.0 310.5 L165.1 308.6 L165.2 308.2 L165.4 310.4 L165.5 310.3 L165.6 308.1 L165.8 310.1 L165.9 308.5 L166.0 310.3 L166.1 310.5 L166.2 310.5 L166.4 309.0 L166.5 310.0 L166.6 310.2 L166.8 310.5 L166.9 310.5 L167.0 309.7 L167.1 309.0 L167.2 306.8 L167.4 303.2 L167.5 299.5 L167.6 301.2 L167.8 301.0 L167.9 302.2 L168.0 303.5 L168.1 303.5 L168.2 304.7 L168.4 304.7 L168.5 305.8 L168.6 306.2 L168.8 307.0 L168.9 307.3 L169.0 307.8 L169.1 308.2 L169.2 308.2 L169.4 308.1 L169.5 309.6 L169.6 309.9 L169.8 310.2 L169.9 308.9 L170.0 310.2 L170.1 310.1 L170.2 310.5 L170.4 310.5 L170.5 308.9 L170.6 306.7 L170.8 301.1 L170.9 293.3 L171.0 283.6 L171.1 284.6 L171.2 286.0 L171.4 287.4 L171.5 290.1 L171.6 291.7 L171.8 293.7 L171.9 293.9 L172.0 295.9 L172.1 297.6 L172.2 298.5 L172.4 299.1 L172.5 299.7 L172.6 300.3 L172.8 302.1 L172.9 302.7 L173.0 303.5 L173.1 303.7 L173.2 304.4 L173.4 305.4 L173.5 305.8 L173.6 306.5 L173.8 306.8 L173.9 307.5 L174.0 308.0 L174.1 308.3 L174.2 308.9 L174.4 309.1 L174.5 307.5 L174.6 296.6 L174.8 272.6 L174.9 241.5 L175.0 202.3 L175.1 211.1 L175.2 212.6 L175.4 220.0 L175.5 225.7 L175.6 232.9 L175.8 233.0 L175.9 241.9 L176.0 246.0 L176.1 250.2 L176.2 254.3 L176.4 252.3 L176.5 254.0 L176.6 259.2 L176.8 268.2 L176.9 266.8 L177.0 271.9 L177.1 273.5 L177.2 274.1 L177.4 278.4 L177.5 279.6 L177.6 282.0 L177.8 286.2 L177.9 288.1 L178.0 286.7 L178.1 289.5 L178.2 289.9 L178.4 292.1 L178.5 294.2 L178.6 293.5 L178.8 295.0 L178.9 296.4 L179.0 298.0 L179.1 298.6 L179.2 299.7 L179.4 301.0 L179.5 301.0 L179.6 302.3 L179.8 303.6 L179.9 303.8 L180.0 304.7 L180.1 305.0 L180.2 305.8 L180.4 306.6 L180.5 307.0 L180.6 307.6 L180.8 307.4 L180.9 308.4 L181.0 307.5 L181.1 307.2 L181.2 307.1 L181.4 309.3 L181.5 309.0 L181.6 308.3 L181.8 309.6 L181.9 299.9 L182.0 277.9 L182.1 246.0 L182.2 205.2 L182.3 187.8 L182.4 194.3 L182.5 194.9 L182.6 204.0 L182.8 217.1 L182.9 211.9 L183.0 227.7 L183.1 229.5 L183.2 231.4 L183.4 236.9 L183.5 241.5 L183.6 247.2 L183.8 253.2 L183.9 250.2 L184.0 257.7 L184.1 257.0 L184.2 264.9 L184.4 268.1 L184.5 272.4 L184.6 271.1 L184.8 273.1 L184.9 276.8 L185.0 276.2 L185.1 278.2 L185.2 283.3 L185.4 285.0 L185.5 287.3 L185.6 288.8 L185.8 289.3 L185.9 291.8 L186.0 292.1 L186.1 293.0 L186.2 294.8 L186.4 296.9 L186.5 280.2 L186.6 258.0 L186.8 218.1 L186.8 202.8 L186.9 203.0 L187.0 210.4 L187.1 212.8 L187.2 223.7 L187.4 229.3 L187.5 231.9 L187.6 240.3 L187.8 243.3 L187.9 248.9 L188.0 248.1 L188.1 252.6 L188.2 257.7 L188.4 259.1 L188.5 265.0 L188.6 267.4 L188.8 268.0 L188.9 273.3 L189.0 274.4 L189.1 276.4 L189.2 280.0 L189.4 281.5 L189.5 281.6 L189.6 284.7 L189.8 286.3 L189.9 288.9 L190.0 289.8 L190.1 291.4 L190.2 292.0 L190.4 294.5 L190.5 294.8 L190.6 297.0 L190.8 297.4 L190.9 298.4 L191.0 298.9 L191.1 300.0 L191.2 301.4 L191.4 288.3 L191.5 264.6 L191.6 232.8 L191.7 205.8 L191.8 215.7 L191.9 213.5 L192.0 219.6 L192.1 213.3 L192.2 225.3 L192.4 226.9 L192.5 235.2 L192.6 235.2 L192.8 235.0 L192.9 242.4 L193.0 246.1 L193.1 250.9 L193.2 247.6 L193.4 253.9 L193.5 258.8 L193.6 260.2 L193.8 265.2 L193.9 268.5 L194.0 270.3 L194.1 266.8 L194.2 269.6 L194.4 273.0 L194.5 270.7 L194.6 275.9 L194.8 277.5 L194.9 278.1 L195.0 279.6 L195.1 283.3 L195.2 282.2 L195.4 286.1 L195.5 285.1 L195.6 287.1 L195.8 289.6 L195.9 290.5 L196.0 290.8 L196.1 292.7 L196.2 294.9 L196.4 294.1 L196.5 295.5 L196.6 296.9 L196.8 296.8 L196.9 297.4 L197.0 298.1 L197.1 299.5 L197.2 299.1 L197.4 300.8 L197.5 301.0 L197.6 302.1 L197.8 302.5 L197.9 303.1 L198.0 303.4 L198.1 304.2 L198.2 305.2 L198.4 305.5 L198.5 305.8 L198.6 306.0 L198.8 306.7 L198.9 306.9 L199.0 307.4 L199.1 307.5 L199.2 308.2 L199.4 308.5 L199.5 308.9 L199.6 308.5 L199.8 309.5 L199.9 309.7 L200.0 310.0 L200.1 308.7 L200.2 310.5 L200.4 309.6 L200.5 309.4 L200.6 309.4 L200.8 309.1 L200.9 309.1 L201.0 309.5 L201.1 308.2 L201.2 301.2 L201.4 289.7 L201.5 273.1 L201.6 256.6 L201.6 258.5 L201.8 266.9 L201.9 275.9 L202.0 284.9 L202.1 289.5 L202.2 291.8 L202.4 295.8 L202.5 299.7 L202.6 302.4 L202.8 304.9 L202.9 306.6 L203.0 308.2 L203.1 304.5 L203.2 298.5 L203.4 291.8 L203.4 289.6 L203.5 292.0 L203.6 294.5 L203.8 296.4 L203.9 296.6 L204.0 298.1 L204.1 299.9 L204.2 300.9 L204.4 302.5 L204.5 303.6 L204.6 304.6 L204.8 305.6 L204.9 306.0 L205.0 307.1 L205.1 308.1 L205.2 308.0 L205.4 309.2 L205.5 309.6 L205.6 309.4 L205.8 307.7 L205.9 309.9 L206.0 310.1 L206.1 309.9 L206.2 310.1 L206.4 307.8 L206.5 308.4 L206.6 308.9 L206.8 308.4 L206.9 309.8 L207.0 308.4 L207.1 307.8 L207.2 310.2 L207.4 308.5 L207.5 309.4 L207.6 309.1 L207.8 307.6 L207.9 309.0 L208.0 309.2 L208.1 307.4 L208.2 307.9 L208.4 309.9 L208.5 309.7 L208.6 309.5 L208.8 309.4 L208.9 309.0 L209.0 308.0 L209.1 309.6 L209.2 307.4 L209.4 307.4 L209.5 310.1 L209.6 309.7 L209.8 310.1 L209.9 307.3 L210.0 307.1 L210.1 308.6 L210.2 309.7 L210.4 309.8 L210.5 309.5 L210.6 309.0 L210.8 309.1 L210.9 309.1 L211.0 310.0 L211.1 307.2 L211.2 307.8 L211.4 308.7 L211.5 309.7 L211.6 307.1 L211.8 308.7 L211.9 310.4 L212.0 309.1 L212.1 309.6 L212.2 309.4 L212.4 309.3 L212.5 307.5 L212.6 308.9 L212.8 307.8 L212.9 309.3 L213.0 309.2 L213.1 308.2 L213.2 309.0 L213.4 307.4 L213.5 309.7 L213.6 309.7 L213.8 308.8 L213.9 310.3 L214.0 308.1 L214.1 309.3 L214.2 308.2 L214.4 310.5 L214.5 308.5 L214.6 310.5 L214.8 309.0 L214.9 310.4 L215.0 309.7 L215.1 310.4 L215.2 309.0 L215.4 310.5 L215.5 309.0 L215.6 310.5 L215.8 310.5 L215.9 307.9 L216.0 309.6 L216.1 310.3 L216.2 309.9 L216.4 310.2 L216.5 309.0 L216.6 309.9 L216.8 309.0 L216.9 310.5 L217.0 308.2 L217.1 307.9 L217.2 309.9 L217.4 308.6 L217.5 309.1 L217.6 308.6 L217.8 309.4 L217.9 310.0 L218.0 310.1 L218.1 309.9 L218.2 308.4 L218.4 310.3 L218.5 309.3 L218.6 308.0 L218.8 310.3 L218.9 310.5 L219.0 310.0 L219.1 309.8 L219.2 309.0 L219.4 310.5 L219.5 308.6 L219.6 310.5 L219.8 309.3 L219.9 307.9 L220.0 310.5 L220.1 308.4 L220.2 309.9 L220.4 308.5 L220.5 308.5 L220.6 309.7 L220.8 310.5 L220.9 310.5 L221.0 310.5 L221.1 310.5 L221.2 310.0 L221.4 310.5 L221.5 310.0 L221.6 308.9 L221.8 309.2 L221.9 310.4 L222.0 308.2 L222.1 310.2 L222.2 310.0 L222.4 307.3 L222.5 307.7 L222.6 307.6 L222.8 308.0 L222.9 309.5 L223.0 309.8 L223.1 310.2 L223.2 310.3 L223.4 307.2 L223.5 310.1 L223.6 309.2 L223.8 307.7 L223.9 308.5 L224.0 308.4 L224.1 307.7 L224.2 309.8 L224.4 309.8 L224.5 307.5 L224.6 308.5 L224.8 308.8 L224.9 307.8 L225.0 310.0 L225.1 307.5 L225.2 310.1 L225.4 310.5 L225.5 310.5 L225.6 309.0 L225.8 309.7 L225.9 301.1 L226.0 282.4 L226.1 256.5 L226.2 216.0 L226.3 192.6 L226.4 198.2 L226.5 199.0 L226.6 216.7 L226.8 212.9 L226.9 217.6 L227.0 229.6 L227.1 237.0 L227.2 234.0 L227.4 243.9 L227.5 249.3 L227.6 251.7 L227.8 254.0 L227.9 256.2 L228.0 258.3 L228.1 260.6 L228.2 266.0 L228.4 267.4 L228.5 273.9 L228.6 274.6 L228.8 273.7 L228.9 278.5 L229.0 280.2 L229.1 280.1 L229.2 283.4 L229.4 286.2 L229.5 287.8 L229.6 288.4 L229.8 290.2 L229.9 292.0 L230.0 294.5 L230.1 294.3 L230.2 294.9 L230.4 296.3 L230.5 298.8 L230.6 299.2 L230.8 299.5 L230.9 300.5 L231.0 301.6 L231.1 286.6 L231.2 268.6 L231.4 234.1 L231.4 229.9 L231.5 230.6 L231.6 235.6 L231.8 240.6 L231.9 246.0 L232.0 248.2 L232.1 251.0 L232.2 258.1 L232.4 264.6 L232.5 261.3 L232.6 266.7 L232.8 267.9 L232.9 270.1 L233.0 276.0 L233.1 276.6 L233.2 281.2 L233.4 281.7 L233.5 281.6 L233.6 284.8 L233.8 286.8 L233.9 287.6 L234.0 288.9 L234.1 290.5 L234.2 292.6 L234.4 293.9 L234.5 296.2 L234.6 296.2 L234.8 297.3 L234.9 298.7 L235.0 299.4 L235.1 299.6 L235.2 301.7 L235.4 301.5 L235.5 302.3 L235.6 304.0 L235.8 304.3 L235.9 305.2 L236.0 305.8 L236.1 306.7 L236.2 306.8 L236.4 307.4 L236.5 307.9 L236.6 308.3 L236.8 308.7 L236.9 308.3 L237.0 309.6 L237.1 309.9 L237.2 309.6 L237.4 310.5 L237.5 309.8 L237.6 310.5 L237.8 309.3 L237.9 310.5 L238.0 308.8 L238.1 309.1 L238.2 309.8 L238.4 308.6 L238.5 310.5 L238.6 309.6 L238.8 308.6 L238.9 307.9 L239.0 307.9 L239.1 309.6 L239.2 308.8 L239.4 304.1 L239.5 291.0 L239.6 271.5 L239.8 245.7 L239.8 231.7 L239.9 235.0 L240.0 238.2 L240.1 243.7 L240.2 249.0 L240.4 251.4 L240.5 255.0 L240.6 258.4 L240.8 262.5 L240.9 261.5 L241.0 269.0 L241.1 269.2 L241.2 273.5 L241.4 275.2 L241.5 279.2 L241.6 280.1 L241.8 280.6 L241.9 283.4 L242.0 267.3 L242.1 232.4 L242.2 213.6 L242.2 216.7 L242.4 223.9 L242.5 233.1 L242.6 232.1 L242.8 230.6 L242.9 241.7 L243.0 240.0 L243.1 247.8 L243.2 253.7 L243.4 258.7 L243.5 262.0 L243.6 264.0 L243.8 266.4 L243.9 272.0 L244.0 271.4 L244.1 271.8 L244.2 277.9 L244.4 277.5 L244.5 280.7 L244.6 281.2 L244.8 285.2 L244.9 284.9 L245.0 289.1 L245.1 287.9 L245.2 291.2 L245.4 293.0 L245.5 293.5 L245.6 294.8 L245.8 296.2 L245.9 296.8 L246.0 298.1 L246.1 299.1 L246.2 299.5 L246.4 300.8 L246.5 301.9 L246.6 302.9 L246.8 303.3 L246.9 304.4 L247.0 304.6 L247.1 305.5 L247.2 288.8 L247.4 264.1 L247.5 222.6 L247.6 188.3 L247.6 188.9 L247.8 195.6 L247.9 188.3 L248.0 213.6 L248.1 218.1 L248.2 212.4 L248.4 233.1 L248.5 230.7 L248.6 235.9 L248.8 247.3 L248.9 246.1 L249.0 247.4 L249.1 254.0 L249.2 255.2 L249.4 257.5 L249.5 261.9 L249.6 265.2 L249.8 270.0 L249.9 270.3 L250.0 273.7 L250.1 274.5 L250.2 279.2 L250.4 280.5 L250.5 281.7 L250.6 282.2 L250.8 285.4 L250.9 288.4 L251.0 287.3 L251.1 291.9 L251.2 292.5 L251.4 292.9 L251.5 294.2 L251.6 297.0 L251.8 296.6 L251.9 299.1 L252.0 299.5 L252.1 299.8 L252.2 300.7 L252.4 301.7 L252.5 301.9 L252.6 303.1 L252.8 304.0 L252.9 304.4 L253.0 305.1 L253.1 305.9 L253.2 306.2 L253.4 307.1 L253.5 307.5 L253.6 307.5 L253.8 308.3 L253.9 308.1 L254.0 308.7 L254.1 308.5 L254.2 310.1 L254.4 310.3 L254.5 310.5 L254.6 309.2 L254.8 309.4 L254.9 307.6 L255.0 308.2 L255.1 309.3 L255.2 310.5 L255.4 307.5 L255.5 308.0 L255.6 308.0 L255.8 308.8 L255.9 310.5 L256.0 310.0 L256.1 308.6 L256.2 309.2 L256.4 307.8 L256.5 307.7 L256.6 309.1 L256.8 303.9 L256.9 285.6 L257.0 259.5 L257.1 229.3 L257.2 198.8 L257.2 201.8 L257.4 212.4 L257.5 210.6 L257.6 225.0 L257.8 224.4 L257.9 227.5 L258.0 227.9 L258.1 237.0 L258.2 242.6 L258.4 252.0 L258.5 246.6 L258.6 253.8 L258.8 257.8 L258.9 264.4 L259.0 263.2 L259.1 262.9 L259.2 268.6 L259.4 273.6 L259.5 277.2 L259.6 278.1 L259.8 279.6 L259.9 282.9 L260.0 284.2 L260.1 285.2 L260.2 286.4 L260.4 288.4 L260.5 290.5 L260.6 290.8 L260.8 292.5 L260.9 293.9 L261.0 295.7 L261.1 296.8 L261.2 297.6 L261.4 299.1 L261.5 299.8 L261.6 300.3 L261.8 302.2 L261.9 301.7 L262.0 303.0 L262.1 303.4 L262.2 304.4 L262.4 305.0 L262.5 305.7 L262.6 306.3 L262.8 307.1 L262.9 307.3 L263.0 307.9 L263.1 308.2 L263.2 308.9 L263.4 308.8 L263.5 308.4 L263.6 309.4 L263.8 309.0 L263.9 310.0 L264.0 309.4 L264.1 309.4 L264.2 308.5 L264.4 310.3 L264.5 310.5 L264.6 309.9 L264.8 309.1 L264.9 308.6 L265.0 309.8 L265.1 308.5 L265.2 308.4 L265.4 309.3 L265.5 308.4 L265.6 308.6 L265.8 308.9 L265.9 310.5 L266.0 309.2 L266.1 310.5 L266.2 310.5 L266.4 310.5 L266.5 308.4 L266.6 308.8 L266.8 309.3 L266.9 310.2 L267.0 310.5 L267.1 310.5 L267.2 310.5 L267.4 310.1 L267.5 310.5 L267.6 309.9 L267.8 310.5 L267.9 309.9 L268.0 309.6 L268.1 309.8 L268.2 309.8 L268.4 309.5 L268.5 310.2 L268.6 309.6 L268.8 309.7 L268.9 308.9 L269.0 299.8 L269.1 278.7 L269.2 254.8 L269.4 217.5 L269.4 207.8 L269.5 212.7 L269.6 221.2 L269.8 225.5 L269.9 229.9 L270.0 234.8 L270.1 237.4 L270.2 243.6 L270.4 243.6 L270.5 253.2 L270.6 259.2 L270.8 253.4 L270.9 264.1 L271.0 267.5 L271.1 270.4 L271.2 268.5 L271.4 271.1 L271.5 274.3 L271.6 277.0 L271.8 277.4 L271.9 280.5 L272.0 285.2 L272.1 284.7 L272.2 286.3 L272.4 287.9 L272.5 289.6 L272.6 291.4 L272.8 274.6 L272.9 241.4 L273.0 207.1 L273.1 215.3 L273.2 220.0 L273.4 217.4 L273.5 233.1 L273.6 232.6 L273.8 237.4 L273.9 243.7 L274.0 241.2 L274.1 251.9 L274.2 255.8 L274.4 263.3 L274.5 263.5 L274.6 265.8 L274.8 268.1 L274.9 267.8 L275.0 270.1 L275.1 274.7 L275.2 278.6 L275.4 280.2 L275.5 282.7 L275.6 284.0 L275.8 285.3 L275.9 286.6 L276.0 290.0 L276.1 288.8 L276.2 290.5 L276.4 293.4 L276.5 294.6 L276.6 295.3 L276.8 296.8 L276.9 297.1 L277.0 299.2 L277.1 299.9 L277.2 300.9 L277.4 301.2 L277.5 301.3 L277.6 302.9 L277.8 303.9 L277.9 304.3 L278.0 304.8 L278.1 305.6 L278.2 306.3 L278.4 306.7 L278.5 307.5 L278.6 308.1 L278.8 308.4 L278.9 308.8 L279.0 309.2 L279.1 309.6 L279.2 308.5 L279.4 309.1 L279.5 309.2 L279.6 308.9 L279.8 310.5 L279.9 310.5 L280.0 308.6 L280.1 309.0 L280.2 308.3 L280.4 309.9 L280.5 309.4 L280.6 309.3 L280.8 310.5 L280.9 308.8 L281.0 308.3 L281.1 310.5 L281.2 308.2 L281.4 310.5 L281.5 310.4 L281.6 309.3 L281.8 310.5 L281.9 310.5 L282.0 310.5 L282.1 309.7 L282.2 310.0 L282.4 307.6 L282.5 308.9 L282.6 307.7 L282.8 309.9 L282.9 309.1 L283.0 308.6 L283.1 307.7 L283.2 307.6 L283.4 308.7 L283.5 308.6 L283.6 308.2 L283.8 309.6 L283.9 309.1 L284.0 308.9 L284.1 310.1 L284.2 309.8 L284.4 307.3 L284.5 307.9 L284.6 310.0 L284.8 309.1 L284.9 310.5 L285.0 308.8 L285.1 309.0 L285.2 308.7 L285.4 309.7 L285.5 308.8 L285.6 310.1 L285.8 310.0 L285.9 308.6 L286.0 308.3 L286.1 308.2 L286.2 309.8 L286.4 308.4 L286.5 310.0 L286.6 310.4 L286.8 308.5 L286.9 309.1 L287.0 310.5 L287.1 309.1 L287.2 308.5 L287.4 309.5 L287.5 309.8 L287.6 309.4 L287.8 310.5 L287.9 308.6 L288.0 310.5 L288.1 309.5 L288.2 310.5 L288.4 309.5 L288.5 308.3 L288.6 310.5 L288.8 309.9 L288.9 310.5 L289.0 309.7 L289.1 310.5 L289.2 309.6 L289.4 310.5 L289.5 310.5 L289.6 310.5 L289.8 308.7 L289.9 310.5 L290.0 308.8 L290.1 309.4 L290.2 308.7 L290.4 309.0 L290.5 310.5 L290.6 310.5 L290.8 310.1 L290.9 310.5 L291.0 308.6 L291.1 309.5 L291.2 310.5 L291.4 308.7 L291.5 309.1 L291.6 310.5 L291.8 310.5 L291.9 310.5 L292.0 310.0 L292.1 309.6 L292.2 310.4 L292.4 310.1 L292.5 310.4 L292.6 308.6 L292.8 307.8 L292.9 309.8 L293.0 308.0 L293.1 309.5 L293.2 310.5 L293.4 307.8 L293.5 307.3 L293.6 310.2 L293.8 308.2 L293.9 308.9 L294.0 307.5 L294.1 307.0 L294.2 307.5 L294.4 306.5 L294.5 307.2 L294.6 294.9 L294.8 272.6 L294.9 240.3 L295.0 198.8 L295.1 207.3 L295.2 206.1 L295.4 223.0 L295.5 223.8 L295.6 233.2 L295.8 232.7 L295.9 237.7 L296.0 243.7 L296.1 249.4 L296.2 248.2 L296.4 252.2 L296.5 255.3 L296.6 255.1 L296.8 264.8 L296.9 264.8 L297.0 267.1 L297.1 271.6 L297.2 275.4 L297.4 275.0 L297.5 278.0 L297.6 282.4 L297.8 281.9 L297.9 285.2 L298.0 286.4 L298.1 288.2 L298.2 287.8 L298.4 290.0 L298.5 291.1 L298.6 293.6 L298.8 295.6 L298.9 296.5 L299.0 297.4 L299.1 298.3 L299.2 298.4 L299.4 300.5 L299.5 300.5 L299.6 301.7 L299.8 302.7 L299.9 303.2 L300.0 304.4 L300.1 304.8 L300.2 305.6 L300.4 305.8 L300.5 306.7 L300.6 307.1 L300.8 307.7 L300.9 308.2 L301.0 308.6 L301.1 308.6 L301.2 309.1 L301.4 309.9 L301.5 309.2 L301.6 308.5 L301.8 310.0 L301.9 308.3 L302.0 307.8 L302.1 310.5 L302.2 308.6 L302.4 307.6 L302.5 309.7 L302.6 307.6 L302.8 310.1 L302.9 307.2 L303.0 307.4 L303.1 309.2 L303.2 308.2 L303.4 307.6 L303.5 308.0 L303.6 308.9 L303.8 309.8 L303.9 301.1 L304.0 282.0 L304.1 257.0 L304.2 215.9 L304.3 202.8 L304.4 202.8 L304.5 216.2 L304.6 215.2 L304.8 226.2 L304.9 229.9 L305.0 229.5 L305.1 238.3 L305.2 240.9 L305.4 240.8 L305.5 249.6 L305.6 255.3 L305.8 258.4 L305.9 261.5 L306.0 265.2 L306.1 267.2 L306.2 268.4 L306.4 271.0 L306.5 275.7 L306.6 278.4 L306.8 279.5 L306.9 281.3 L307.0 283.2 L307.1 286.1 L307.2 286.9 L307.4 288.4 L307.5 290.3 L307.6 291.5 L307.8 292.8 L307.9 294.5 L308.0 295.3 L308.1 295.9 L308.2 298.0 L308.4 298.1 L308.5 300.0 L308.6 300.9 L308.8 301.0 L308.9 302.7 L309.0 302.9 L309.1 303.4 L309.2 304.3 L309.4 304.8 L309.5 305.8 L309.6 306.2 L309.8 306.8 L309.9 307.2 L310.0 307.8 L310.1 308.3 L310.2 308.7 L310.4 309.0 L310.5 309.5 L310.6 309.1 L310.8 308.9 L310.9 310.1 L311.0 307.8 L311.1 307.4 L311.2 310.0 L311.4 309.7 L311.5 309.8 L311.6 310.2 L311.8 308.8 L311.9 309.5 L312.0 308.9 L312.1 310.2 L312.2 310.0 L312.4 307.8 L312.5 309.0 L312.6 308.7 L312.8 309.9 L312.9 308.1 L313.0 307.7 L313.1 310.0 L313.2 307.9 L313.4 310.5 L313.5 310.5 L313.6 310.3 L313.8 308.3 L313.9 310.5 L314.0 307.9 L314.1 307.6 L314.2 308.0 L314.4 309.9 L314.5 307.5 L314.6 310.2 L314.8 309.7 L314.9 310.2 L315.0 310.1 L315.1 308.3 L315.2 308.5 L315.4 310.5 L315.5 310.5 L315.6 309.6 L315.8 308.6 L315.9 309.1 L316.0 308.8 L316.1 309.8 L316.2 310.0 L316.4 309.9 L316.5 308.6 L316.6 309.0 L316.8 309.1 L316.9 309.6 L317.0 309.0 L317.1 307.7 L317.2 308.4 L317.4 307.3 L317.5 307.8 L317.6 308.4 L317.8 308.2 L317.9 309.4 L318.0 308.6 L318.1 308.8 L318.2 309.8 L318.4 309.7 L318.5 310.0 L318.6 309.4 L318.8 308.8 L318.9 307.3 L319.0 307.3 L319.1 307.2 L319.2 308.7 L319.4 309.3 L319.5 308.3 L319.6 309.7 L319.8 309.0 L319.9 307.2 L320.0 310.1 L320.1 308.1 L320.2 307.4 L320.4 310.2 L320.5 307.7 L320.6 307.9 L320.8 308.4 L320.9 309.2 L321.0 309.3 L321.1 310.1 L321.2 310.4 L321.4 308.2 L321.5 309.2 L321.6 310.5 L321.8 309.9 L321.9 308.7 L322.0 308.1 L322.1 310.5 L322.2 310.5 L322.4 310.5 L322.5 310.5 L322.6 310.5 L322.8 310.5 L322.9 310.1 L323.0 309.8 L323.1 308.0 L323.2 309.6 L323.4 308.7 L323.5 309.6 L323.6 308.6 L323.8 310.1 L323.9 308.5 L324.0 309.9 L324.1 309.1 L324.2 309.3 L324.4 309.3 L324.5 310.5 L324.6 308.5 L324.8 309.8 L324.9 307.7 L325.0 310.5 L325.1 309.7 L325.2 310.0 L325.4 308.1 L325.5 308.4 L325.6 310.5 L325.8 309.6 L325.9 309.6 L326.0 309.3 L326.1 309.8 L326.2 309.0 L326.4 310.5 L326.5 308.7 L326.6 308.1 L326.8 308.7 L326.9 307.8 L327.0 308.8 L327.1 310.5 L327.2 309.5 L327.4 307.7 L327.5 307.8 L327.6 310.5 L327.8 309.0 L327.9 309.6 L328.0 309.8 L328.1 310.3 L328.2 308.8 L328.4 310.5 L328.5 310.5 L328.6 309.5 L328.8 309.2 L328.9 308.4 L329.0 310.2 L329.1 310.5 L329.2 309.6 L329.4 308.1 L329.5 308.9 L329.6 307.6 L329.8 310.4 L329.9 307.7 L330.0 308.8 L330.1 308.9 L330.2 309.7 L330.4 309.3 L330.5 309.1 L330.6 309.9 L330.8 307.5 L330.9 307.5 L331.0 309.9 L331.1 309.4 L331.2 309.2 L331.4 307.0 L331.5 309.1 L331.6 307.3 L331.8 310.4 L331.9 309.8 L332.0 309.8 L332.1 308.5 L332.2 309.5 L332.4 300.4 L332.5 283.5 L332.6 252.9 L332.8 203.9 L332.8 192.6 L332.9 196.3 L333.0 210.9 L333.1 223.4 L333.2 229.2 L333.4 234.1 L333.5 235.5 L333.6 251.5 L333.8 253.6 L333.9 260.0 L334.0 264.7 L334.1 268.2 L334.2 274.9 L334.4 276.7 L334.5 279.2 L334.6 281.3 L334.8 283.8 L334.9 287.3 L335.0 289.9 L335.1 291.9 L335.2 295.2 L335.4 297.1 L335.5 297.9 L335.6 300.3 L335.8 301.3 L335.9 302.3 L336.0 303.7 L336.1 305.0 L336.2 305.8 L336.4 304.2 L336.5 306.5 L336.6 308.0 L336.8 306.7 L336.9 305.5 L337.0 308.3 L337.1 305.0 L337.2 306.2 L337.4 304.7 L337.5 306.6 L337.6 307.2 L337.8 306.7 L337.9 306.2 L338.0 304.7 L338.1 306.6 L338.2 302.4 L338.4 297.1 L338.4 296.2 L338.5 296.9 L338.6 298.3 L338.8 299.4 L338.9 300.1 L339.0 300.6 L339.1 301.6 L339.2 302.5 L339.4 303.6 L339.5 304.3" fill="none" stroke="#e0392a" stroke-width="1.5" stroke-linejoin="round" clip-path="url(#c01)"/>
<clipPath id="c11"><rect x="378" y="176" width="306" height="135"/></clipPath>
<path d="M478.5 177.5V310.5M578.5 177.5V310.5M678.5 177.5V310.5" stroke="#555" stroke-width="1" stroke-dasharray="3.4 2.99" stroke-dashoffset="4.99"/>
<path d="M378.5 277.2H684.5M378.5 244H684.5M378.5 210.8H684.5" stroke="#555" stroke-width="1" stroke-dasharray="3.4 2.99" stroke-dashoffset="4.49"/>
<path d="M378.5 177.5H684.5V310.5H378.5Z" fill="none" stroke="#333" stroke-width="1.3"/>
<path d="M378.5 310.5v-4.5M378.5 177.5v4.5M478.5 310.5v-4.5M478.5 177.5v4.5M578.5 310.5v-4.5M578.5 177.5v4.5M678.5 310.5v-4.5M678.5 177.5v4.5M378.5 310.5h4.5M684.5 310.5h-4.5M378.5 277.2h4.5M684.5 277.2h-4.5M378.5 244h4.5M684.5 244h-4.5M378.5 210.8h4.5M684.5 210.8h-4.5M378.5 177.5h4.5M684.5 177.5h-4.5" stroke="#333" stroke-width="1.2"/>
<path d="M378.5 308.0 L378.6 308.4 L378.8 310.5 L378.9 310.0 L379.0 310.5 L379.1 285.6 L379.2 270.6 L379.2 277.9 L379.4 284.5 L379.5 282.0 L379.6 304.4 L379.8 297.5 L379.9 295.3 L380.0 301.5 L380.1 304.0 L380.2 301.6 L380.4 301.2 L380.5 301.1 L380.6 303.3 L380.8 301.9 L380.9 300.8 L381.0 303.9 L381.1 303.6 L381.2 301.3 L381.4 303.2 L381.4 303.6 L381.5 302.8 L381.6 309.0 L381.8 308.8 L381.9 308.6 L382.0 309.3 L382.1 308.5 L382.2 307.7 L382.4 306.9 L382.5 306.1 L382.6 305.4 L382.8 304.6 L382.9 303.8 L383.0 303.0 L383.1 302.2 L383.2 301.5 L383.4 300.7 L383.5 299.9 L383.6 299.1 L383.8 298.3 L383.9 297.6 L384.0 296.8 L384.1 296.0 L384.2 295.2 L384.4 294.4 L384.5 293.7 L384.6 292.9 L384.8 292.1 L384.9 291.3 L385.0 290.6 L385.1 289.8 L385.2 289.0 L385.4 288.2 L385.5 287.4 L385.6 286.7 L385.8 285.9 L385.8 285.6 L385.9 285.6 L386.0 287.2 L386.1 296.5 L386.2 287.9 L386.4 296.1 L386.5 305.2 L386.6 301.5 L386.8 301.3 L386.9 298.2 L387.0 298.9 L387.1 301.1 L387.2 306.2 L387.4 303.4 L387.5 306.4 L387.6 303.9 L387.8 305.5 L387.9 304.6 L388.0 306.0 L388.1 305.0 L388.2 307.5 L388.4 308.4 L388.5 307.2 L388.6 309.2 L388.8 307.9 L388.9 308.9 L389.0 309.8 L389.1 307.8 L389.2 308.4 L389.4 309.2 L389.5 308.5 L389.6 308.9 L389.8 308.2 L389.9 308.8 L390.0 308.8 L390.1 307.6 L390.2 307.1 L390.2 307.1 L390.4 308.4 L390.5 309.5 L390.6 309.5 L390.8 309.3 L390.9 309.5 L391.0 310.1 L391.1 309.8 L391.2 309.8 L391.4 309.8 L391.5 310.0 L391.6 310.0 L391.8 308.7 L391.9 309.1 L392.0 310.3 L392.1 308.9 L392.2 308.9 L392.4 310.0 L392.5 310.2 L392.6 308.8 L392.8 308.3 L392.9 308.3 L393.0 309.4 L393.1 310.2 L393.2 310.0 L393.4 309.8 L393.5 308.2 L393.6 310.2 L393.8 310.3 L393.9 310.3 L394.0 309.0 L394.1 310.3 L394.2 310.4 L394.4 310.4 L394.5 310.4 L394.6 310.4 L394.8 309.4 L394.9 309.5 L395.0 310.4 L395.1 310.4 L395.2 308.3 L395.4 309.6 L395.5 308.3 L395.6 309.8 L395.8 310.4 L395.9 308.0 L396.0 309.9 L396.1 309.4 L396.2 308.7 L396.4 309.2 L396.5 309.7 L396.6 309.2 L396.8 309.7 L396.9 310.5 L397.0 308.7 L397.1 308.1 L397.2 309.8 L397.4 309.9 L397.5 308.7 L397.6 310.5 L397.8 308.9 L397.9 309.8 L398.0 310.5 L398.1 309.8 L398.2 309.2 L398.4 310.4 L398.5 310.5 L398.6 310.0 L398.8 310.5 L398.9 310.3 L399.0 309.9 L399.1 310.5 L399.2 310.5 L399.4 309.1 L399.5 309.7 L399.6 309.8 L399.8 310.5 L399.9 310.5 L400.0 308.4 L400.1 310.1 L400.2 307.9 L400.4 308.9 L400.5 310.3 L400.6 310.5 L400.8 307.6 L400.9 308.7 L401.0 307.3 L401.1 306.7 L401.1 306.7 L401.2 308.4 L401.4 308.3 L401.5 309.2 L401.6 309.0 L401.8 309.3 L401.9 310.1 L402.0 308.5 L402.1 310.2 L402.2 308.8 L402.4 309.0 L402.5 310.4 L402.6 308.8 L402.8 309.2 L402.9 310.0 L403.0 310.4 L403.1 309.8 L403.2 310.4 L403.4 308.5 L403.5 310.5 L403.6 310.5 L403.8 308.4 L403.9 310.5 L404.0 308.5 L404.1 310.5 L404.2 308.2 L404.4 310.4 L404.5 309.2 L404.6 310.3 L404.8 309.6 L404.9 310.5 L405.0 310.1 L405.1 309.3 L405.2 310.5 L405.4 309.9 L405.5 310.0 L405.6 310.5 L405.8 310.5 L405.9 310.5 L406.0 310.5 L406.1 310.5 L406.2 308.5 L406.4 310.5 L406.5 310.5 L406.6 310.4 L406.8 310.5 L406.9 309.7 L407.0 308.6 L407.1 310.4 L407.2 309.3 L407.4 308.8 L407.5 308.3 L407.6 310.1 L407.8 308.7 L407.9 310.5 L408.0 310.2 L408.1 310.5 L408.2 309.1 L408.4 310.5 L408.5 310.5 L408.6 310.4 L408.8 308.5 L408.9 309.1 L409.0 309.9 L409.1 309.2 L409.2 310.5 L409.4 309.5 L409.5 310.5 L409.6 308.5 L409.8 310.0 L409.9 310.5 L410.0 310.1 L410.1 308.8 L410.2 310.5 L410.4 309.5 L410.5 310.3 L410.6 308.5 L410.8 310.5 L410.9 309.5 L411.0 309.8 L411.1 309.0 L411.2 309.8 L411.4 309.3 L411.5 308.7 L411.6 306.1 L411.8 303.5 L411.8 303.3 L411.9 304.9 L412.0 307.6 L412.1 309.0 L412.2 308.2 L412.4 308.2 L412.5 309.2 L412.6 308.8 L412.8 308.0 L412.9 308.3 L413.0 309.8 L413.1 309.3 L413.2 309.1 L413.4 310.0 L413.5 309.2 L413.6 309.0 L413.8 309.6 L413.9 308.7 L414.0 309.6 L414.1 309.2 L414.2 309.2 L414.4 306.9 L414.5 300.8 L414.6 294.7 L414.8 288.7 L414.9 282.6 L414.9 281.4 L415.0 282.6 L415.1 294.1 L415.2 281.4 L415.4 290.1 L415.5 297.5 L415.6 301.3 L415.8 293.5 L415.9 297.4 L416.0 295.9 L416.1 299.2 L416.2 300.1 L416.4 297.8 L416.5 298.7 L416.6 297.4 L416.8 297.7 L416.9 299.2 L417.0 300.4 L417.1 296.9 L417.2 297.0 L417.4 298.7 L417.5 301.6 L417.6 294.7 L417.8 299.1 L417.9 300.9 L418.0 297.9 L418.1 300.8 L418.2 300.1 L418.4 298.0 L418.5 297.5 L418.6 298.5 L418.8 296.2 L418.9 298.1 L419.0 299.2 L419.1 300.3 L419.2 300.2 L419.4 297.5 L419.5 297.5 L419.6 300.8 L419.8 300.1 L419.9 299.3 L420.0 298.9 L420.1 308.9 L420.2 307.3 L420.4 307.7 L420.5 308.4 L420.6 307.8 L420.8 308.6 L420.9 307.4 L421.0 308.2 L421.1 307.8 L421.2 308.4 L421.4 309.7 L421.5 307.8 L421.6 308.3 L421.8 308.3 L421.9 308.4 L422.0 308.2 L422.1 308.5 L422.2 308.3 L422.4 308.1 L422.5 308.3 L422.6 308.6 L422.8 308.3 L422.9 308.5 L423.0 309.1 L423.1 309.1 L423.2 304.9 L423.4 300.2 L423.5 295.5 L423.6 290.9 L423.7 288.1 L423.8 288.1 L423.9 288.1 L424.0 307.3 L424.1 288.1 L424.2 290.7 L424.4 296.6 L424.5 288.1 L424.6 302.1 L424.8 303.0 L424.9 297.6 L425.0 303.3 L425.1 298.2 L425.2 301.8 L425.4 297.1 L425.5 299.4 L425.6 304.9 L425.8 299.7 L425.9 301.3 L426.0 303.7 L426.1 304.2 L426.2 306.0 L426.4 307.5 L426.5 303.8 L426.6 304.8 L426.6 304.9 L426.8 304.8 L426.9 305.3 L427.0 306.5 L427.1 308.0 L427.2 306.9 L427.4 307.4 L427.5 307.3 L427.6 307.5 L427.8 308.3 L427.9 307.8 L428.0 307.7 L428.1 308.9 L428.2 308.1 L428.4 308.3 L428.5 308.2 L428.6 308.5 L428.8 308.6 L428.9 308.6 L429.0 306.6 L429.1 304.8 L429.1 304.8 L429.2 305.7 L429.4 309.0 L429.5 308.5 L429.6 308.9 L429.8 309.6 L429.9 308.3 L430.0 309.2 L430.1 308.4 L430.2 307.2 L430.4 305.0 L430.4 304.2 L430.5 304.2 L430.6 307.5 L430.8 308.6 L430.9 308.5 L431.0 309.1 L431.1 308.4 L431.2 309.7 L431.4 308.3 L431.5 309.7 L431.6 310.2 L431.8 310.0 L431.9 308.9 L432.0 309.0 L432.1 309.3 L432.2 310.2 L432.4 309.9 L432.5 309.3 L432.6 310.0 L432.8 309.9 L432.9 310.4 L433.0 310.4 L433.1 310.4 L433.2 309.7 L433.4 310.4 L433.5 310.4 L433.6 309.5 L433.8 310.4 L433.9 310.4 L434.0 309.3 L434.1 308.6 L434.2 310.4 L434.4 310.4 L434.5 308.8 L434.6 309.5 L434.8 309.4 L434.9 310.2 L435.0 310.4 L435.1 310.4 L435.2 309.8 L435.4 308.7 L435.5 309.2 L435.6 307.9 L435.8 310.4 L435.9 309.5 L436.0 309.6 L436.1 308.8 L436.2 310.4 L436.4 308.9 L436.5 308.3 L436.6 310.5 L436.8 309.6 L436.9 309.5 L437.0 309.4 L437.1 310.5 L437.2 307.9 L437.4 310.3 L437.5 308.2 L437.6 308.8 L437.8 308.9 L437.9 308.8 L438.0 307.4 L438.1 309.5 L438.2 308.8 L438.4 310.4 L438.5 308.8 L438.6 308.1 L438.8 309.3 L438.9 309.4 L439.0 308.9 L439.1 308.3 L439.2 310.5 L439.4 310.5 L439.5 309.9 L439.6 310.4 L439.8 310.1 L439.9 309.2 L440.0 310.0 L440.1 309.8 L440.2 309.0 L440.4 308.6 L440.5 309.4 L440.6 310.0 L440.8 309.4 L440.9 307.9 L441.0 310.2 L441.1 309.3 L441.2 307.6 L441.4 309.5 L441.5 309.1 L441.6 308.8 L441.8 308.4 L441.9 308.1 L442.0 307.7 L442.1 307.4 L442.2 307.0 L442.4 306.7 L442.5 306.3 L442.6 306.0 L442.8 305.7 L442.9 305.3 L443.0 305.0 L443.1 304.6 L443.2 304.3 L443.4 303.9 L443.5 303.6 L443.6 303.2 L443.8 302.9 L443.9 302.5 L444.0 302.2 L444.1 301.8 L444.2 301.5 L444.4 301.1 L444.5 300.8 L444.6 300.5 L444.8 300.1 L444.8 299.9 L444.9 299.8 L445.0 299.4 L445.1 299.1 L445.2 298.7 L445.4 298.4 L445.5 298.0 L445.6 298.0 L445.8 299.2 L445.9 302.0 L446.0 304.4 L446.1 302.7 L446.2 302.6 L446.4 303.7 L446.5 304.7 L446.6 307.8 L446.8 308.1 L446.9 307.3 L447.0 307.0 L447.1 308.4 L447.2 307.9 L447.4 308.3 L447.5 308.0 L447.6 308.7 L447.8 309.1 L447.9 309.8 L448.0 309.1 L448.1 308.7 L448.2 307.2 L448.3 306.3 L448.4 306.3 L448.5 308.1 L448.6 307.9 L448.8 308.7 L448.9 309.2 L449.0 308.5 L449.1 306.6 L449.2 305.3 L449.2 307.4 L449.4 305.9 L449.5 307.7 L449.6 308.5 L449.8 306.6 L449.9 303.3 L450.0 300.0 L450.1 296.7 L450.2 293.4 L450.4 290.1 L450.5 286.9 L450.6 283.6 L450.8 280.3 L450.9 277.0 L451.0 273.7 L451.1 271.1 L451.1 271.1 L451.2 295.3 L451.4 272.7 L451.5 282.4 L451.6 284.6 L451.8 304.0 L451.9 293.1 L452.0 298.6 L452.1 300.7 L452.2 299.8 L452.4 302.4 L452.5 300.6 L452.6 303.7 L452.8 307.4 L452.9 304.9 L453.0 304.6 L453.1 303.9 L453.2 305.4 L453.4 304.0 L453.5 306.3 L453.6 306.3 L453.7 305.9 L453.8 306.4 L453.9 307.3 L454.0 304.6 L454.1 304.4 L454.2 304.2 L454.4 305.0 L454.5 303.4 L454.6 304.5 L454.8 304.2 L454.9 304.1 L455.0 305.5 L455.1 304.9 L455.2 304.3 L455.4 304.0 L455.5 304.4 L455.6 303.9 L455.8 304.8 L455.9 304.5 L456.0 304.4 L456.1 305.2 L456.2 306.5 L456.4 304.5 L456.5 304.1 L456.6 305.0 L456.8 304.4 L456.9 304.8 L457.0 303.8 L457.1 308.7 L457.2 307.2 L457.3 306.4 L457.4 307.4 L457.5 306.1 L457.6 304.0 L457.6 304.8 L457.8 308.0 L457.9 307.1 L458.0 306.6 L458.1 309.0 L458.2 309.3 L458.4 309.1 L458.5 310.0 L458.6 309.7 L458.8 309.9 L458.9 309.5 L459.0 309.2 L459.1 309.2 L459.2 309.3 L459.4 310.0 L459.5 308.4 L459.6 310.0 L459.8 309.2 L459.9 310.0 L460.0 309.0 L460.1 309.7 L460.2 308.2 L460.4 310.1 L460.5 308.8 L460.6 310.3 L460.8 309.0 L460.9 305.6 L461.0 302.0 L461.1 298.5 L461.2 295.0 L461.4 291.4 L461.5 287.9 L461.6 284.4 L461.8 280.8 L461.9 277.3 L461.9 276.6 L462.0 279.8 L462.1 290.6 L462.2 287.8 L462.4 291.6 L462.5 293.5 L462.6 291.1 L462.8 296.7 L462.9 303.5 L463.0 304.7 L463.1 302.1 L463.2 305.5 L463.4 306.2 L463.5 306.4 L463.6 307.7 L463.8 308.0 L463.9 308.1 L464.0 307.7 L464.1 306.9 L464.2 309.2 L464.4 307.5 L464.5 308.3 L464.6 308.6 L464.8 309.0 L464.9 308.9 L465.0 309.9 L465.1 308.9 L465.2 306.5 L465.4 304.1 L465.4 303.6 L465.5 303.9 L465.6 302.7 L465.6 303.8 L465.8 305.8 L465.9 306.2 L466.0 307.7 L466.1 308.6 L466.2 309.4 L466.4 309.5 L466.5 308.2 L466.6 306.0 L466.7 304.4 L466.8 305.1 L466.9 304.9 L467.0 307.6 L467.1 308.8 L467.2 309.0 L467.4 309.6 L467.5 309.1 L467.6 309.6 L467.8 310.1 L467.9 309.8 L468.0 309.2 L468.1 310.3 L468.2 309.2 L468.4 310.2 L468.5 309.4 L468.6 309.1 L468.8 310.4 L468.9 308.2 L469.0 309.4 L469.1 308.0 L469.2 306.7 L469.4 305.3 L469.5 303.9 L469.6 302.5 L469.8 301.2 L469.9 299.8 L470.0 298.4 L470.1 297.1 L470.2 295.7 L470.4 294.3 L470.5 292.9 L470.6 291.6 L470.8 290.2 L470.9 288.8 L470.9 288.6 L471.0 288.6 L471.1 292.3 L471.2 294.2 L471.4 297.0 L471.5 301.3 L471.6 296.0 L471.8 308.4 L471.9 299.0 L472.0 296.6 L472.1 304.1 L472.2 301.0 L472.4 301.8 L472.5 303.5 L472.6 303.8 L472.8 306.8 L472.9 305.8 L472.9 304.8 L473.0 303.3 L473.0 303.3 L473.1 304.7 L473.2 307.4 L473.4 307.6 L473.5 307.5 L473.6 307.6 L473.8 308.5 L473.9 308.7 L474.0 309.3 L474.1 309.1 L474.2 308.5 L474.4 309.9 L474.5 309.2 L474.6 308.7 L474.8 309.4 L474.9 309.5 L475.0 309.9 L475.1 309.1 L475.2 310.0 L475.4 308.5 L475.5 310.0 L475.6 309.2 L475.8 308.2 L475.9 310.0 L476.0 310.0 L476.1 309.1 L476.2 310.1 L476.4 310.2 L476.5 308.7 L476.6 304.7 L476.8 298.9 L476.9 293.0 L477.0 287.2 L477.1 281.4 L477.2 275.6 L477.3 273.3 L477.4 282.4 L477.5 296.4 L477.6 297.2 L477.8 297.8 L477.9 288.8 L478.0 295.6 L478.1 300.7 L478.2 300.6 L478.4 301.0 L478.5 304.0 L478.6 305.0 L478.8 305.4 L478.9 306.5 L479.0 302.6 L479.1 301.9 L479.2 304.8 L479.4 306.5 L479.5 304.1 L479.6 305.9 L479.8 305.3 L479.9 306.8 L480.0 306.6 L480.1 307.1 L480.2 307.4 L480.4 305.4 L480.5 306.9 L480.6 307.5 L480.8 307.8 L480.9 307.4 L481.0 307.9 L481.1 307.8 L481.2 306.6 L481.4 307.2 L481.5 307.8 L481.6 306.9 L481.8 308.1 L481.9 307.5 L482.0 308.6 L482.1 308.5 L482.2 308.5 L482.4 308.4 L482.5 308.4 L482.6 307.8 L482.8 308.4 L482.9 308.8 L483.0 308.7 L483.1 308.2 L483.2 308.8 L483.4 308.9 L483.5 309.3 L483.6 308.5 L483.8 307.8 L483.9 308.6 L484.0 309.2 L484.1 309.4 L484.2 309.1 L484.4 308.8 L484.5 309.1 L484.6 309.0 L484.8 309.0 L484.9 307.3 L485.0 308.9 L485.1 309.4 L485.2 307.9 L485.4 308.1 L485.5 309.5 L485.6 309.7 L485.8 308.0 L485.9 307.7 L486.0 308.7 L486.1 309.4 L486.2 304.0 L486.4 298.5 L486.5 293.0 L486.6 287.6 L486.8 282.1 L486.9 276.7 L486.9 275.6 L487.0 275.6 L487.1 287.0 L487.2 294.7 L487.4 301.8 L487.5 300.4 L487.6 296.5 L487.8 301.8 L487.9 300.6 L488.0 304.2 L488.1 304.9 L488.2 306.4 L488.4 305.2 L488.5 305.6 L488.6 308.3 L488.8 307.7 L488.9 308.0 L489.0 308.9 L489.1 308.9 L489.2 308.9 L489.4 308.2 L489.5 309.1 L489.6 308.5 L489.8 309.2 L489.9 309.2 L490.0 309.0 L490.1 309.2 L490.2 309.4 L490.4 308.9 L490.5 309.4 L490.6 310.1 L490.8 308.9 L490.9 309.5 L491.0 309.6 L491.1 305.4 L491.2 300.2 L491.4 295.1 L491.5 289.9 L491.6 284.9 L491.6 284.8 L491.7 280.4 L491.8 279.6 L491.8 277.6 L491.9 277.6 L492.0 287.5 L492.1 287.1 L492.2 284.4 L492.4 290.7 L492.5 294.1 L492.6 298.2 L492.8 305.8 L492.9 301.4 L493.0 299.5 L493.1 303.9 L493.2 305.0 L493.4 303.5 L493.5 307.1 L493.6 306.9 L493.8 306.4 L493.9 307.5 L494.0 305.9 L494.1 306.6 L494.2 307.6 L494.4 308.2 L494.5 308.1 L494.6 308.0 L494.8 308.1 L494.9 308.4 L495.0 308.8 L495.1 308.3 L495.2 307.9 L495.4 305.5 L495.5 303.7 L495.5 304.4 L495.6 308.4 L495.8 307.6 L495.9 308.5 L496.0 308.4 L496.1 306.6 L496.2 305.6 L496.2 307.0 L496.4 305.5 L496.4 305.5 L496.5 307.6 L496.6 308.3 L496.8 309.2 L496.9 309.0 L497.0 308.3 L497.1 309.5 L497.2 308.4 L497.4 308.9 L497.5 309.0 L497.6 310.2 L497.8 308.2 L497.9 308.7 L498.0 309.1 L498.1 309.7 L498.2 308.1 L498.4 310.2 L498.5 308.8 L498.6 306.0 L498.8 303.2 L498.8 302.6 L498.9 305.0 L499.0 306.5 L499.1 307.5 L499.2 308.9 L499.4 309.8 L499.5 309.1 L499.6 309.8 L499.8 308.4 L499.9 310.2 L500.0 309.6 L500.1 310.4 L500.2 310.4 L500.4 310.4 L500.5 308.0 L500.6 309.7 L500.8 310.3 L500.9 308.9 L501.0 308.4 L501.1 309.6 L501.2 308.8 L501.4 309.2 L501.5 308.9 L501.6 308.6 L501.8 307.7 L501.9 309.2 L502.0 309.5 L502.1 310.5 L502.2 308.1 L502.4 310.5 L502.5 309.0 L502.6 310.4 L502.8 310.0 L502.9 308.8 L503.0 309.8 L503.1 307.8 L503.2 310.3 L503.4 310.4 L503.5 310.2 L503.6 308.0 L503.8 309.5 L503.9 310.5 L504.0 307.8 L504.1 308.0 L504.2 310.5 L504.4 308.6 L504.5 307.7 L504.6 305.7 L504.7 304.9 L504.8 304.9 L504.9 307.0 L505.0 304.8 L505.1 305.9 L505.2 305.4 L505.4 305.0 L505.5 305.0 L505.6 306.2 L505.8 305.2 L505.9 305.7 L506.0 305.2 L506.0 305.1 L506.1 305.7 L506.2 303.3 L506.2 303.3 L506.4 305.7 L506.5 305.5 L506.6 305.1 L506.8 305.4 L506.9 305.2 L507.0 305.4 L507.1 305.4 L507.2 304.5 L507.4 304.2 L507.5 305.4 L507.6 305.5 L507.8 304.7 L507.9 305.1 L508.0 305.8 L508.1 304.4 L508.2 303.2 L508.2 304.3 L508.4 305.2 L508.5 305.5 L508.6 306.1 L508.8 305.8 L508.9 304.5 L509.0 305.6 L509.1 309.2 L509.2 308.5 L509.4 310.0 L509.5 308.9 L509.6 309.4 L509.8 310.4 L509.9 310.5 L510.0 309.7 L510.1 306.9 L510.2 304.1 L510.3 302.6 L510.4 302.6 L510.5 306.9 L510.6 306.3 L510.8 308.1 L510.9 308.1 L511.0 309.2 L511.1 308.2 L511.2 308.5 L511.4 306.8 L511.5 304.4 L511.5 303.8 L511.6 304.0 L511.8 301.5 L511.8 300.5 L511.9 300.5 L512.0 302.6 L512.1 303.6 L512.2 308.3 L512.4 305.9 L512.5 308.1 L512.6 308.5 L512.8 308.4 L512.9 309.1 L513.0 308.4 L513.1 309.4 L513.2 308.7 L513.4 308.0 L513.5 309.2 L513.6 309.4 L513.8 309.7 L513.9 308.5 L514.0 309.3 L514.1 309.8 L514.2 309.5 L514.4 308.3 L514.5 309.9 L514.6 310.3 L514.8 310.1 L514.9 308.0 L515.0 303.8 L515.1 299.7 L515.2 295.5 L515.4 291.4 L515.4 290.6 L515.5 290.8 L515.6 296.8 L515.8 300.8 L515.9 302.4 L516.0 303.0 L516.1 307.0 L516.2 304.9 L516.4 306.9 L516.5 306.7 L516.6 306.8 L516.8 307.0 L516.9 307.1 L517.0 308.4 L517.1 309.2 L517.2 308.4 L517.4 307.8 L517.5 308.2 L517.6 308.8 L517.8 309.4 L517.9 306.2 L518.0 298.9 L518.1 291.7 L518.2 284.4 L518.4 277.2 L518.4 275.8 L518.5 279.6 L518.6 284.1 L518.8 290.4 L518.9 297.1 L519.0 296.0 L519.1 296.5 L519.2 300.6 L519.4 292.4 L519.5 284.2 L519.6 276.0 L519.7 271.1 L519.8 271.1 L519.9 276.3 L520.0 280.5 L520.1 277.4 L520.2 279.8 L520.4 287.1 L520.5 287.7 L520.6 292.9 L520.8 297.4 L520.9 288.3 L521.0 301.4 L521.1 296.0 L521.2 293.3 L521.4 298.4 L521.5 301.3 L521.6 297.5 L521.8 295.2 L521.9 293.8 L522.0 302.8 L522.1 298.3 L522.2 296.4 L522.4 293.2 L522.5 290.1 L522.6 301.9 L522.8 295.2 L522.9 297.2 L523.0 294.7 L523.1 300.5 L523.2 303.9 L523.4 301.2 L523.5 305.9 L523.6 303.9 L523.8 302.8 L523.9 303.9 L524.0 307.2 L524.1 305.8 L524.2 305.4 L524.4 307.1 L524.5 306.9 L524.6 307.3 L524.8 307.3 L524.9 307.0 L525.0 308.3 L525.1 308.8 L525.2 308.2 L525.4 308.5 L525.5 308.5 L525.6 309.2 L525.8 307.0 L525.9 308.9 L526.0 307.9 L526.1 308.4 L526.2 302.0 L526.4 295.0 L526.5 287.9 L526.6 280.8 L526.8 273.8 L526.9 266.7 L526.9 265.3 L527.0 270.7 L527.1 294.3 L527.2 298.9 L527.4 288.2 L527.5 303.5 L527.6 296.6 L527.7 300.5 L527.8 302.7 L527.9 299.0 L527.9 300.1 L528.0 300.8 L528.1 305.7 L528.2 303.4 L528.4 305.7 L528.5 305.3 L528.6 308.2 L528.8 304.5 L528.9 305.7 L529.0 307.0 L529.1 307.6 L529.2 307.6 L529.4 307.9 L529.5 306.8 L529.5 306.4 L529.6 307.6 L529.8 306.8 L529.9 308.4 L530.0 308.2 L530.1 308.1 L530.2 309.2 L530.4 308.5 L530.5 308.9 L530.6 308.8 L530.8 307.9 L530.9 301.5 L531.0 295.0 L531.1 288.6 L531.2 287.0 L531.2 282.2 L531.4 275.7 L531.5 269.3 L531.6 279.8 L531.8 293.5 L531.9 288.2 L532.0 289.0 L532.1 285.4 L532.2 283.3 L532.3 298.4 L532.4 290.1 L532.5 297.9 L532.6 291.2 L532.8 307.1 L532.9 296.1 L533.0 300.5 L533.1 300.9 L533.2 297.6 L533.4 305.3 L533.5 300.3 L533.6 304.7 L533.8 302.4 L533.9 299.9 L534.0 302.6 L534.1 308.5 L534.2 304.4 L534.4 303.4 L534.5 303.0 L534.6 301.8 L534.8 307.3 L534.9 304.4 L535.0 304.7 L535.1 303.2 L535.2 301.8 L535.4 300.3 L535.5 298.9 L535.6 298.9 L535.8 298.9 L535.9 305.8 L536.0 302.4 L536.1 299.0 L536.2 295.6 L536.4 292.3 L536.5 288.9 L536.6 296.7 L536.8 303.7 L536.9 300.9 L537.0 305.3 L537.1 303.6 L537.2 302.6 L537.4 304.4 L537.5 307.8 L537.6 302.0 L537.8 303.7 L537.9 305.7 L538.0 307.9 L538.1 307.6 L538.2 307.3 L538.4 307.8 L538.5 307.5 L538.6 308.1 L538.8 308.5 L538.9 308.9 L539.0 308.2 L539.1 308.6 L539.2 309.3 L539.4 309.0 L539.5 309.3 L539.6 309.1 L539.8 307.8 L539.9 308.7 L540.0 308.6 L540.1 308.9 L540.2 308.4 L540.4 307.4 L540.5 306.3 L540.6 305.3 L540.8 304.3 L540.9 303.2 L541.0 302.2 L541.1 302.2 L541.2 305.1 L541.4 306.6 L541.5 304.6 L541.6 306.6 L541.8 307.6 L541.9 307.8 L542.0 307.7 L542.1 305.6 L542.2 304.8 L542.2 304.8 L542.4 306.6 L542.5 307.3 L542.6 308.9 L542.8 308.8 L542.9 309.3 L543.0 308.6 L543.1 307.1 L543.2 304.9 L543.3 304.3 L543.4 308.3 L543.5 306.8 L543.6 306.0 L543.7 304.0 L543.8 304.0 L543.9 307.2 L544.0 307.6 L544.1 307.7 L544.2 306.2 L544.4 304.6 L544.5 303.1 L544.6 301.5 L544.8 300.0 L544.9 298.4 L545.0 296.9 L545.1 295.3 L545.2 293.8 L545.4 292.3 L545.5 290.7 L545.6 289.2 L545.8 287.6 L545.9 286.1 L546.0 284.5 L546.1 283.0 L546.2 281.4 L546.4 279.9 L546.4 279.6 L546.5 285.5 L546.6 279.6 L546.8 291.8 L546.9 293.9 L547.0 293.6 L547.1 304.0 L547.2 291.2 L547.4 305.4 L547.5 297.8 L547.6 298.5 L547.8 304.7 L547.9 307.1 L548.0 304.6 L548.1 304.3 L548.2 304.4 L548.4 306.8 L548.5 306.5 L548.6 307.2 L548.8 307.8 L548.9 305.9 L548.9 305.3 L549.0 306.2 L549.1 308.3 L549.2 307.7 L549.4 308.5 L549.5 309.0 L549.6 309.6 L549.8 308.0 L549.9 308.8 L550.0 308.3 L550.1 308.9 L550.2 309.5 L550.4 308.0 L550.5 308.3 L550.6 309.5 L550.8 308.6 L550.9 309.1 L551.0 309.5 L551.1 309.9 L551.2 308.8 L551.4 309.9 L551.5 308.9 L551.6 310.0 L551.8 309.9 L551.9 308.4 L552.0 309.8 L552.1 310.2 L552.2 308.9 L552.4 308.8 L552.5 308.9 L552.6 307.8 L552.8 310.1 L552.9 308.4 L553.0 310.3 L553.1 308.9 L553.2 309.2 L553.4 310.4 L553.5 308.9 L553.6 310.3 L553.8 308.9 L553.9 309.8 L554.0 310.3 L554.1 308.7 L554.2 305.9 L554.4 303.0 L554.4 302.4 L554.5 304.1 L554.6 305.8 L554.8 306.9 L554.9 307.7 L555.0 309.3 L555.1 308.9 L555.2 309.7 L555.4 309.0 L555.5 310.0 L555.6 308.9 L555.8 309.1 L555.9 309.3 L556.0 308.9 L556.1 310.1 L556.2 309.6 L556.4 310.4 L556.5 310.4 L556.6 310.4 L556.8 310.5 L556.9 310.4 L557.0 310.1 L557.1 309.2 L557.2 309.0 L557.4 308.6 L557.5 308.5 L557.6 309.9 L557.8 309.6 L557.9 310.1 L558.0 309.2 L558.1 307.9 L558.2 309.6 L558.4 307.9 L558.5 309.7 L558.6 310.4 L558.8 309.2 L558.9 309.2 L559.0 308.6 L559.1 310.5 L559.2 308.5 L559.4 308.7 L559.5 310.5 L559.6 310.2 L559.8 309.8 L559.9 308.4 L560.0 309.5 L560.1 308.8 L560.2 310.5 L560.4 309.8 L560.5 309.1 L560.6 309.5 L560.8 307.6 L560.9 308.9 L561.0 310.1 L561.1 308.2 L561.2 308.8 L561.4 308.2 L561.5 309.0 L561.6 309.6 L561.8 309.7 L561.9 310.0 L562.0 309.4 L562.1 309.3 L562.2 310.3 L562.4 309.3 L562.5 309.0 L562.6 308.7 L562.8 309.8 L562.9 309.8 L563.0 308.6 L563.1 310.2 L563.2 309.4 L563.4 308.4 L563.5 309.7 L563.6 310.2 L563.8 310.1 L563.9 310.2 L564.0 310.5 L564.1 310.0 L564.2 310.3 L564.4 308.7 L564.5 305.9 L564.6 303.2 L564.6 302.8 L564.8 304.5 L564.9 306.9 L565.0 308.9 L565.1 307.3 L565.2 308.8 L565.4 308.9 L565.5 309.1 L565.6 309.9 L565.8 308.4 L565.9 306.0 L566.0 304.0 L566.0 304.0 L566.1 305.4 L566.2 307.5 L566.4 308.6 L566.5 308.8 L566.6 309.2 L566.8 309.6 L566.9 310.0 L567.0 308.1 L567.1 309.3 L567.2 309.4 L567.4 309.8 L567.5 309.2 L567.6 310.2 L567.8 310.4 L567.9 308.4 L568.0 308.2 L568.1 308.2 L568.2 310.1 L568.4 308.2 L568.5 310.5 L568.6 309.0 L568.8 307.6 L568.9 306.1 L569.0 304.7 L569.1 303.2 L569.2 301.8 L569.4 300.3 L569.5 298.9 L569.6 304.0 L569.8 302.5 L569.9 301.0 L570.0 304.3 L570.1 304.0 L570.1 305.5 L570.2 306.8 L570.4 306.6 L570.5 301.8 L570.6 296.3 L570.8 290.9 L570.9 285.4 L571.0 280.0 L571.1 275.6 L571.1 275.6 L571.2 275.6 L571.4 291.9 L571.5 293.7 L571.6 295.7 L571.8 301.4 L571.9 299.1 L572.0 305.5 L572.1 304.1 L572.2 304.1 L572.4 305.2 L572.5 307.1 L572.6 305.7 L572.8 305.3 L572.9 306.0 L573.0 308.7 L573.1 306.8 L573.2 306.1 L573.4 304.3 L573.4 304.3 L573.5 306.8 L573.6 307.2 L573.8 307.7 L573.9 309.4 L574.0 307.8 L574.1 308.1 L574.2 309.2 L574.4 309.4 L574.5 308.3 L574.6 308.5 L574.8 309.1 L574.9 309.2 L575.0 309.6 L575.1 305.5 L575.2 300.5 L575.4 295.5 L575.5 290.6 L575.6 285.6 L575.8 280.6 L575.9 275.6 L576.0 270.6 L576.1 284.2 L576.2 305.7 L576.4 280.9 L576.5 281.9 L576.6 301.0 L576.8 299.6 L576.9 298.3 L577.0 302.7 L577.1 299.6 L577.2 304.3 L577.4 305.1 L577.5 306.4 L577.6 307.0 L577.8 306.8 L577.9 306.8 L578.0 307.0 L578.1 307.3 L578.2 308.5 L578.4 307.9 L578.5 308.8 L578.6 309.2 L578.8 308.6 L578.9 308.3 L579.0 309.3 L579.1 309.0 L579.2 309.5 L579.4 309.3 L579.5 309.0 L579.6 309.3 L579.8 309.6 L579.9 309.2 L580.0 308.4 L580.1 309.7 L580.2 309.7 L580.4 309.5 L580.5 309.8 L580.6 308.4 L580.8 309.9 L580.9 310.0 L581.0 308.8 L581.1 310.3 L581.2 308.6 L581.4 309.2 L581.5 308.0 L581.6 308.5 L581.8 309.6 L581.9 309.7 L582.0 308.0 L582.1 309.0 L582.2 309.0 L582.4 309.7 L582.5 310.3 L582.6 310.2 L582.8 309.1 L582.9 309.2 L583.0 308.4 L583.1 309.5 L583.2 309.0 L583.4 309.8 L583.5 309.6 L583.6 308.8 L583.8 309.6 L583.9 307.5 L584.0 302.5 L584.1 300.5 L584.1 297.5 L584.2 292.5 L584.4 287.6 L584.5 282.6 L584.6 278.6 L584.6 278.6 L584.8 282.0 L584.8 278.6 L584.8 290.7 L584.9 281.0 L585.0 299.3 L585.1 297.9 L585.2 303.9 L585.4 284.7 L585.5 295.5 L585.6 299.2 L585.7 291.2 L585.8 292.0 L585.9 290.6 L586.0 283.9 L586.1 283.9 L586.2 290.5 L586.4 296.3 L586.5 292.8 L586.6 292.8 L586.8 301.6 L586.9 298.4 L587.0 298.6 L587.1 301.9 L587.2 304.2 L587.4 303.1 L587.5 304.2 L587.6 306.3 L587.8 306.1 L587.9 305.8 L588.0 306.4 L588.1 305.9 L588.2 306.6 L588.4 306.9 L588.5 305.9 L588.6 307.6 L588.8 307.7 L588.9 307.6 L589.0 306.6 L589.1 307.5 L589.2 308.2 L589.4 308.4 L589.5 307.6 L589.6 308.4 L589.8 307.6 L589.9 308.8 L590.0 308.0 L590.1 308.3 L590.2 308.4 L590.4 308.4 L590.5 308.6 L590.6 308.4 L590.8 309.1 L590.9 309.1 L591.0 308.9 L591.1 310.0 L591.2 308.8 L591.4 308.3 L591.5 309.3 L591.6 309.8 L591.8 307.7 L591.9 300.7 L592.0 293.7 L592.1 286.7 L592.2 285.3 L592.2 279.8 L592.4 272.8 L592.5 265.8 L592.6 280.8 L592.8 277.2 L592.9 281.0 L593.0 305.5 L593.1 293.8 L593.2 298.9 L593.4 303.8 L593.5 297.5 L593.6 304.4 L593.8 302.6 L593.9 305.8 L594.0 308.7 L594.1 303.4 L594.2 304.2 L594.4 307.0 L594.5 307.3 L594.6 307.8 L594.8 307.4 L594.9 307.4 L595.0 308.2 L595.1 307.6 L595.2 305.7 L595.3 305.1 L595.4 307.0 L595.5 307.9 L595.6 308.7 L595.8 308.4 L595.9 309.3 L596.0 308.8 L596.1 309.6 L596.2 308.0 L596.4 309.4 L596.5 308.3 L596.6 307.5 L596.8 304.6 L596.8 302.3 L596.9 302.3 L597.0 306.7 L597.1 308.4 L597.2 307.8 L597.4 308.8 L597.5 307.9 L597.6 306.9 L597.8 304.3 L597.8 303.2 L597.9 303.5 L598.0 308.6 L598.1 306.6 L598.2 308.9 L598.4 308.9 L598.5 309.8 L598.6 309.5 L598.8 308.2 L598.9 310.2 L599.0 310.3 L599.1 308.4 L599.2 310.2 L599.4 308.8 L599.5 310.2 L599.6 308.8 L599.8 309.7 L599.9 307.8 L600.0 305.9 L600.0 305.3 L600.1 306.0 L600.2 307.5 L600.4 305.0 L600.5 302.5 L600.6 300.0 L600.8 297.5 L600.9 295.0 L601.0 292.4 L601.1 289.9 L601.2 287.4 L601.4 284.9 L601.5 282.4 L601.6 280.4 L601.6 280.4 L601.8 280.4 L601.9 280.4 L602.0 297.4 L602.1 291.1 L602.2 285.4 L602.4 293.6 L602.5 295.3 L602.6 299.7 L602.8 295.8 L602.9 300.5 L603.0 304.3 L603.1 302.1 L603.2 297.3 L603.3 303.6 L603.4 302.0 L603.5 304.6 L603.6 303.9 L603.8 304.7 L603.9 306.5 L604.0 306.6 L604.1 304.5 L604.2 306.0 L604.4 307.3 L604.5 308.5 L604.6 307.3 L604.8 306.4 L604.9 307.0 L605.0 307.5 L605.1 309.1 L605.2 309.0 L605.4 309.6 L605.5 308.1 L605.6 307.5 L605.8 305.4 L605.8 304.6 L605.9 307.0 L606.0 306.5 L606.1 307.9 L606.2 308.9 L606.4 309.4 L606.5 309.4 L606.6 309.1 L606.8 310.0 L606.9 309.1 L607.0 308.5 L607.1 309.7 L607.2 308.6 L607.4 310.0 L607.5 308.6 L607.6 308.9 L607.8 309.9 L607.9 308.4 L608.0 310.0 L608.1 308.3 L608.2 309.3 L608.4 310.1 L608.5 308.8 L608.6 310.3 L608.8 309.6 L608.9 308.7 L609.0 308.8 L609.1 310.0 L609.2 309.0 L609.4 308.6 L609.5 307.9 L609.6 304.7 L609.8 301.4 L609.9 298.2 L610.0 294.9 L610.1 291.7 L610.2 288.5 L610.4 285.2 L610.4 284.6 L610.5 285.2 L610.6 291.3 L610.8 296.2 L610.9 292.6 L611.0 308.8 L611.1 300.7 L611.2 304.1 L611.4 305.2 L611.5 304.8 L611.6 307.2 L611.8 307.5 L611.9 305.6 L612.0 301.5 L612.1 295.9 L612.2 290.3 L612.4 284.7 L612.4 283.6 L612.5 283.6 L612.6 293.1 L612.8 299.8 L612.9 294.1 L613.0 302.4 L613.1 301.5 L613.2 302.1 L613.4 305.2 L613.5 304.0 L613.6 297.2 L613.8 289.8 L613.9 282.5 L614.0 275.1 L614.1 295.5 L614.2 294.3 L614.3 294.6 L614.4 290.0 L614.5 289.4 L614.6 294.4 L614.8 296.6 L614.9 299.2 L615.0 301.5 L615.1 302.7 L615.2 302.0 L615.4 305.0 L615.5 304.1 L615.6 307.1 L615.8 309.1 L615.9 306.8 L616.0 308.2 L616.1 307.6 L616.2 307.6 L616.4 309.4 L616.5 308.5 L616.6 309.2 L616.8 308.3 L616.9 305.3 L617.0 301.5 L617.1 297.8 L617.2 294.0 L617.4 290.3 L617.5 286.6 L617.6 282.8 L617.7 280.6 L617.8 292.7 L617.9 280.6 L618.0 288.7 L618.1 294.2 L618.2 291.8 L618.4 285.3 L618.5 294.1 L618.6 292.6 L618.8 299.2 L618.9 301.6 L619.0 303.0 L619.1 300.4 L619.2 303.4 L619.4 306.0 L619.5 307.1 L619.6 302.5 L619.8 303.8 L619.9 308.3 L620.0 304.7 L620.1 306.9 L620.2 308.3 L620.4 308.0 L620.5 307.2 L620.6 306.3 L620.8 305.5 L620.9 304.7 L621.0 303.9 L621.1 305.3 L621.2 304.2 L621.4 305.8 L621.5 304.3 L621.6 306.4 L621.8 306.2 L621.9 308.0 L622.0 308.4 L622.1 308.1 L622.2 308.0 L622.4 308.7 L622.5 308.1 L622.6 309.4 L622.8 308.3 L622.9 306.8 L623.0 304.9 L623.0 304.9 L623.1 307.1 L623.2 306.4 L623.4 308.5 L623.5 308.5 L623.6 309.4 L623.8 309.6 L623.9 309.3 L624.0 308.3 L624.1 308.2 L624.2 308.6 L624.4 308.3 L624.5 308.6 L624.6 309.8 L624.8 309.5 L624.9 309.9 L625.0 309.7 L625.1 308.0 L625.2 307.8 L625.4 310.0 L625.5 310.1 L625.6 309.6 L625.8 308.3 L625.9 308.9 L626.0 308.7 L626.1 310.1 L626.2 308.0 L626.4 308.6 L626.5 310.3 L626.6 309.7 L626.8 308.1 L626.9 310.0 L627.0 308.7 L627.1 310.3 L627.2 309.0 L627.4 310.3 L627.5 309.9 L627.6 308.6 L627.8 309.8 L627.9 308.7 L628.0 310.4 L628.1 308.6 L628.2 308.9 L628.4 309.5 L628.5 309.1 L628.6 308.6 L628.8 308.5 L628.9 308.9 L629.0 308.8 L629.1 307.7 L629.2 309.0 L629.4 308.0 L629.5 309.0 L629.6 307.4 L629.8 309.4 L629.9 308.3 L630.0 309.0 L630.1 310.5 L630.2 310.4 L630.4 310.4 L630.5 310.5 L630.6 308.4 L630.8 310.3 L630.9 309.3 L631.0 308.9 L631.1 310.5 L631.2 308.8 L631.4 310.5 L631.5 309.2 L631.6 310.4 L631.8 308.6 L631.9 309.5 L632.0 309.4 L632.1 309.7 L632.2 310.4 L632.4 308.0 L632.5 308.6 L632.6 309.7 L632.8 310.3 L632.9 309.3 L633.0 308.8 L633.1 309.8 L633.2 309.0 L633.4 308.3 L633.5 307.6 L633.6 306.9 L633.8 306.1 L633.9 305.4 L634.0 304.7 L634.1 306.9 L634.2 305.1 L634.4 306.4 L634.5 306.3 L634.6 307.2 L634.8 306.6 L634.9 308.1 L635.0 307.8 L635.1 307.7 L635.2 305.2 L635.3 303.6 L635.4 304.9 L635.5 306.9 L635.6 306.0 L635.8 308.4 L635.9 308.4 L636.0 309.2 L636.1 309.5 L636.2 309.1 L636.4 309.9 L636.5 310.0 L636.6 309.5 L636.8 308.8 L636.9 309.4 L637.0 309.8 L637.1 309.5 L637.2 308.3 L637.4 308.7 L637.5 309.1 L637.6 310.1 L637.8 310.4 L637.9 310.0 L638.0 308.8 L638.1 309.6 L638.2 308.9 L638.4 309.7 L638.5 309.6 L638.6 309.0 L638.8 306.8 L638.9 303.6 L639.0 300.5 L639.1 297.4 L639.2 294.3 L639.4 291.2 L639.5 288.1 L639.6 285.6 L639.6 289.5 L639.8 289.9 L639.9 285.6 L640.0 288.3 L640.1 292.0 L640.2 298.2 L640.4 299.6 L640.5 299.9 L640.6 299.5 L640.8 294.2 L640.9 305.4 L641.0 297.4 L641.1 301.9 L641.2 305.9 L641.4 301.0 L641.5 303.3 L641.6 305.7 L641.8 301.8 L641.9 305.0 L642.0 306.2 L642.1 307.1 L642.2 303.9 L642.3 305.0 L642.4 306.7 L642.5 305.0 L642.6 306.6 L642.8 308.1 L642.9 307.7 L643.0 306.5 L643.1 308.2 L643.2 308.8 L643.4 308.4 L643.5 308.5 L643.6 308.5 L643.8 309.0 L643.9 308.7 L644.0 308.8 L644.1 308.0 L644.2 309.0 L644.4 309.2 L644.5 309.4 L644.6 308.0 L644.8 309.5 L644.9 309.7 L645.0 309.4 L645.1 309.1 L645.2 309.4 L645.4 308.9 L645.5 309.5 L645.6 308.0 L645.8 308.9 L645.9 309.3 L646.0 308.2 L646.1 309.8 L646.2 309.5 L646.4 310.2 L646.5 308.8 L646.6 309.0 L646.8 310.4 L646.9 307.7 L647.0 305.9 L647.1 300.2 L647.2 294.4 L647.4 288.7 L647.5 282.9 L647.6 277.2 L647.7 273.8 L647.8 279.5 L647.9 276.5 L648.0 285.1 L648.1 279.2 L648.1 273.8 L648.2 287.5 L648.4 289.7 L648.5 297.2 L648.6 292.0 L648.8 300.6 L648.9 302.8 L649.0 301.7 L649.1 297.5 L649.2 305.9 L649.4 302.8 L649.5 303.7 L649.6 303.6 L649.8 303.6 L649.9 302.7 L650.0 300.1 L650.1 306.6 L650.2 306.8 L650.4 305.3 L650.5 303.8 L650.6 306.0 L650.8 304.5 L650.9 305.8 L651.0 305.8 L651.1 305.2 L651.2 306.4 L651.4 308.1 L651.5 306.1 L651.6 306.7 L651.8 305.1 L651.9 306.5 L652.0 306.9 L652.1 306.1 L652.2 307.0 L652.4 307.7 L652.5 306.5 L652.6 306.6 L652.8 308.0 L652.9 308.1 L653.0 306.4 L653.1 308.6 L653.2 307.7 L653.4 307.3 L653.5 308.0 L653.6 307.5 L653.8 307.2 L653.9 308.9 L654.0 308.2 L654.1 307.8 L654.2 308.6 L654.4 308.8 L654.5 307.7 L654.6 308.2 L654.8 308.3 L654.9 308.5 L655.0 308.4 L655.1 308.2 L655.2 308.8 L655.4 308.4 L655.5 308.6 L655.6 309.5 L655.8 308.4 L655.9 309.3 L656.0 308.1 L656.1 308.5 L656.2 305.8 L656.4 303.1 L656.4 303.0 L656.5 305.2 L656.6 307.1 L656.8 307.8 L656.9 308.3 L657.0 308.5 L657.1 308.4 L657.2 309.4 L657.4 309.4 L657.5 309.1 L657.6 309.6 L657.8 308.5 L657.9 308.8 L658.0 308.0 L658.1 309.3 L658.2 308.2 L658.4 309.6 L658.5 308.5 L658.6 308.4 L658.8 309.6 L658.9 308.1 L659.0 308.6 L659.1 308.2 L659.2 309.5 L659.4 308.1 L659.5 306.6 L659.5 306.5 L659.6 306.6 L659.8 308.9 L659.9 309.0 L660.0 309.2 L660.1 308.3 L660.2 309.5 L660.4 309.6 L660.5 308.7 L660.6 309.1 L660.8 308.7 L660.9 309.8 L661.0 310.0 L661.1 310.2 L661.2 310.1 L661.4 309.2 L661.5 308.9 L661.6 309.9 L661.8 309.8 L661.9 308.5 L662.0 310.2 L662.1 309.1 L662.2 309.7 L662.4 309.6 L662.5 309.4 L662.6 308.6 L662.8 309.0 L662.9 309.4 L663.0 310.2 L663.1 309.0 L663.2 308.7 L663.4 309.6 L663.5 308.8 L663.6 309.5 L663.8 309.7 L663.9 309.3 L664.0 308.5 L664.1 308.4 L664.2 310.1 L664.4 308.9 L664.5 308.4 L664.6 310.3 L664.8 308.1 L664.9 309.1 L665.0 308.9 L665.1 309.3 L665.2 308.8 L665.4 308.1 L665.5 310.4 L665.6 308.9 L665.8 310.2 L665.9 309.6 L666.0 307.9 L666.1 308.3 L666.2 308.0 L666.4 309.8 L666.5 307.6 L666.6 307.3 L666.8 308.2 L666.9 309.1 L667.0 309.8 L667.1 309.5 L667.2 308.3 L667.4 309.3 L667.5 308.5 L667.6 309.1 L667.8 308.4 L667.9 308.6 L668.0 309.2 L668.1 309.1 L668.2 309.9 L668.4 310.4 L668.5 307.8 L668.6 310.2 L668.8 308.4 L668.9 308.7 L669.0 310.4 L669.1 310.1 L669.2 308.6 L669.4 310.4 L669.5 309.5 L669.6 308.0 L669.8 309.7 L669.9 309.7 L670.0 309.8 L670.1 308.3 L670.2 309.9 L670.4 309.3 L670.5 309.8 L670.6 310.2 L670.8 310.2 L670.9 308.9 L671.0 309.7 L671.1 309.2 L671.2 309.0 L671.4 306.9 L671.5 304.2 L671.6 303.0 L671.6 304.3 L671.7 302.2 L671.8 306.9 L671.9 307.3 L672.0 307.0 L672.1 307.4 L672.2 309.1 L672.4 308.3 L672.5 309.4 L672.6 309.9 L672.8 309.5 L672.9 308.6 L673.0 309.3 L673.1 309.5 L673.2 309.1 L673.4 309.4 L673.5 309.9 L673.6 307.9 L673.8 310.1 L673.9 310.2 L674.0 307.8 L674.1 308.6 L674.2 309.9 L674.4 308.6 L674.5 309.3 L674.6 310.0 L674.8 308.8 L674.9 307.7 L675.0 309.0 L675.1 309.0 L675.2 308.9 L675.4 309.1 L675.5 308.1 L675.6 306.3 L675.7 305.7 L675.8 305.9 L675.9 306.1 L675.9 305.6 L676.0 307.7 L676.1 307.7 L676.2 304.9 L676.4 302.1 L676.5 299.3 L676.6 296.5 L676.8 293.7 L676.9 291.0 L677.0 288.2 L677.1 285.4 L677.2 282.6 L677.4 279.8 L677.5 277.0 L677.6 274.8 L677.6 289.9 L677.8 290.5 L677.9 283.9 L678.0 299.8 L678.1 298.9 L678.2 303.1 L678.4 304.6 L678.5 302.3 L678.6 303.2 L678.8 304.0 L678.9 305.7 L678.9 305.4 L679.0 307.2 L679.1 307.7 L679.2 307.9 L679.4 307.4 L679.5 304.7 L679.6 303.0 L679.6 306.0 L679.8 308.7 L679.9 308.1 L680.0 306.8 L680.1 308.3 L680.2 308.9 L680.4 308.0 L680.5 309.0 L680.6 308.3 L680.8 306.9 L680.8 306.6 L680.9 308.0 L681.0 307.9 L681.1 307.0 L681.2 305.8 L681.2 309.1 L681.4 305.8 L681.5 307.7 L681.6 308.5 L681.8 308.4 L681.9 308.9 L682.0 308.2 L682.1 307.8 L682.2 307.3 L682.4 306.7 L682.5 306.2 L682.6 305.6 L682.8 305.1 L682.9 304.6 L683.0 304.0 L683.1 303.5 L683.2 302.9 L683.4 302.4 L683.5 301.9 L683.6 301.3 L683.8 300.8 L683.9 300.2 L684.0 299.7 L684.1 299.2 L684.2 298.6 L684.4 298.1 L684.5 297.5" fill="none" stroke="#0aa0d4" stroke-width="1.8" stroke-linejoin="round" clip-path="url(#c11)"/>
<text transform="translate(186.2 9) scale(1 1.05)" text-anchor="middle" class="tt">Air cutting with P-PI</text>
<text transform="translate(538.6 9) scale(1 1.05)" text-anchor="middle" class="tt">Air cutting with P-PI + NMPFP</text>
<text transform="translate(186 169.7) scale(1 1.05)" text-anchor="middle" class="tt">Real cutting with P-PI</text>
<text transform="translate(538.7 169.7) scale(1 1.05)" text-anchor="middle" class="tt">Real cutting with P-PI + NMPFP</text>
<text transform="translate(29.5 145.3) scale(0.96 1.09)" y="4.46" text-anchor="end" class="tk">0</text>
<text transform="translate(29.5 116.1) scale(0.96 1.09)" y="4.46" text-anchor="end" class="tk">20</text>
<text transform="translate(29.5 82.8) scale(0.96 1.09)" y="4.46" text-anchor="end" class="tk">40</text>
<text transform="translate(29.5 49.6) scale(0.96 1.09)" y="4.46" text-anchor="end" class="tk">60</text>
<text transform="translate(29.5 19.8) scale(0.96 1.09)" y="4.46" text-anchor="end" class="tk">80</text>
<text transform="translate(29.5 306.3) scale(0.96 1.09)" y="4.46" text-anchor="end" class="tk">0</text>
<text transform="translate(29.5 277.1) scale(0.96 1.09)" y="4.46" text-anchor="end" class="tk">20</text>
<text transform="translate(29.5 243.8) scale(0.96 1.09)" y="4.46" text-anchor="end" class="tk">40</text>
<text transform="translate(29.5 210.6) scale(0.96 1.09)" y="4.46" text-anchor="end" class="tk">60</text>
<text transform="translate(29.5 180.8) scale(0.96 1.09)" y="4.46" text-anchor="end" class="tk">80</text>
<text transform="translate(33.3 319.7) scale(0.96 1.09)" y="4.46" text-anchor="middle" class="tk">0</text>
<text transform="translate(132.9 319.7) scale(0.96 1.09)" y="4.46" text-anchor="middle" class="tk">5</text>
<text transform="translate(233.5 319.7) scale(0.96 1.09)" y="4.46" text-anchor="middle" class="tk">10</text>
<text transform="translate(333 319.7) scale(0.96 1.09)" y="4.46" text-anchor="middle" class="tk">15</text>
<text transform="translate(186 336.6) scale(1 1.05)" text-anchor="middle" class="tt">Time (s)</text>
<text transform="translate(377.9 319.7) scale(0.96 1.09)" y="4.46" text-anchor="middle" class="tk">0</text>
<text transform="translate(477.1 319.7) scale(0.96 1.09)" y="4.46" text-anchor="middle" class="tk">5</text>
<text transform="translate(577.9 319.7) scale(0.96 1.09)" y="4.46" text-anchor="middle" class="tk">10</text>
<text transform="translate(676.6 319.7) scale(0.96 1.09)" y="4.46" text-anchor="middle" class="tk">15</text>
<text transform="translate(529.7 336.6) scale(1 1.05)" text-anchor="middle" class="tt">Time (s)</text>
<text transform="translate(8.7 86.5) rotate(-90)" text-anchor="middle" style="font-size:13.1px">Contour error (<tspan font-style="italic">&#956;</tspan>m)</text>
<text transform="translate(8.7 247.5) rotate(-90)" text-anchor="middle" style="font-size:13.1px">Contour error (<tspan font-style="italic">&#956;</tspan>m)</text>
<path d="M175.4 27.5H189.2L196.2 23.5" fill="none" stroke="#e4007f" stroke-width="1.0"/>
<path d="M196.9 23.1L193.7 26.9L192.1 23.9Z" fill="#e4007f"/>
<text x="199.2" y="27.1" style="fill:#e4007f;stroke:none;font-weight:bold">73&#956;m</text>
<path d="M175.4 187.5H189.2L196.2 183.5" fill="none" stroke="#e4007f" stroke-width="1.0"/>
<path d="M196.9 183.1L193.7 186.9L192.1 183.9Z" fill="#e4007f"/>
<text x="199.2" y="187.6" style="fill:#e4007f;stroke:none;font-weight:bold">74&#956;m</text>
<path d="M520.8 103.2H533.2L540 97" fill="none" stroke="#e4007f" stroke-width="1.0"/>
<path d="M540.6 96.5L538.3 100.8L536 98.3Z" fill="#e4007f"/>
<text x="542.8" y="98.4" style="fill:#e4007f;stroke:none;font-weight:bold">27&#956;m</text>
<path d="M520.8 264.3H533.2L540 258.3" fill="none" stroke="#e4007f" stroke-width="1.0"/>
<path d="M540.6 257.8L538.3 262.1L536 259.5Z" fill="#e4007f"/>
<text x="542.8" y="258.8" style="fill:#e4007f;stroke:none;font-weight:bold">28&#956;m</text>
</svg>
</body></html>
